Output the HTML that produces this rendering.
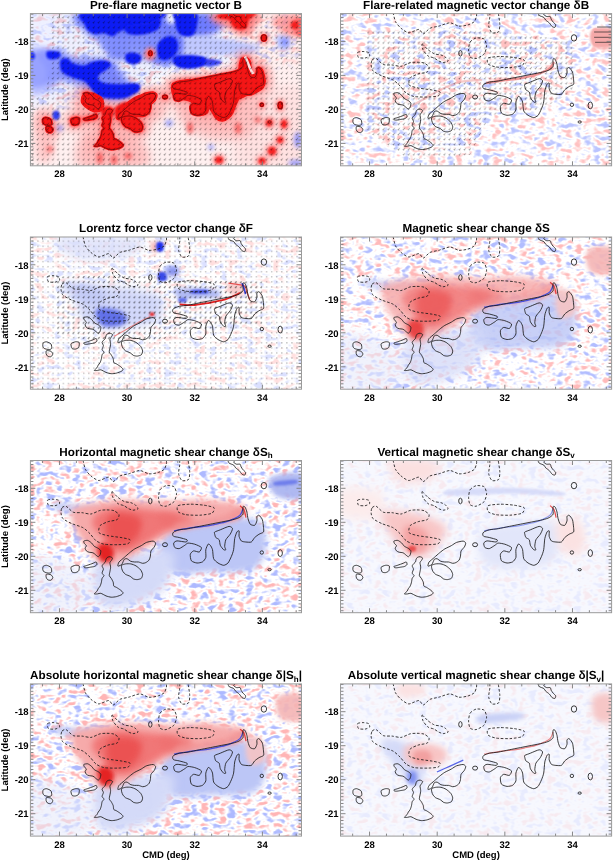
<!DOCTYPE html>
<html><head><meta charset="utf-8"><style>
html,body{margin:0;padding:0;background:#fff;width:613px;height:860px;overflow:hidden}
svg{display:block;font-family:"Liberation Sans",sans-serif;will-change:transform}
svg text{text-rendering:geometricPrecision}
</style></head><body>
<svg width="613" height="860" viewBox="0 0 613 860">
<defs>
<filter id="b06" filterUnits="userSpaceOnUse" x="-50" y="-50" width="720" height="960"><feGaussianBlur stdDeviation="0.6"/></filter>
<filter id="b1" filterUnits="userSpaceOnUse" x="-50" y="-50" width="720" height="960"><feGaussianBlur stdDeviation="1"/></filter>
<filter id="b2" filterUnits="userSpaceOnUse" x="-50" y="-50" width="720" height="960"><feGaussianBlur stdDeviation="2"/></filter>
<filter id="b3" filterUnits="userSpaceOnUse" x="-50" y="-50" width="720" height="960"><feGaussianBlur stdDeviation="3"/></filter>
<filter id="b4" filterUnits="userSpaceOnUse" x="-50" y="-50" width="720" height="960"><feGaussianBlur stdDeviation="4"/></filter>
<filter id="b5" filterUnits="userSpaceOnUse" x="-50" y="-50" width="720" height="960"><feGaussianBlur stdDeviation="5"/></filter>
<pattern id="arwD" x="0.8" y="0.2" width="5.08" height="5.08" patternUnits="userSpaceOnUse"><path d="M2.4,0.6 L1.0,2.6 M0.8,1.7 L1.0,2.6 L1.9,2.4" fill="none" stroke="#000" stroke-width="0.7"/></pattern>
<pattern id="arwH" x="0.8" y="0.2" width="5.08" height="5.08" patternUnits="userSpaceOnUse"><path d="M3.4,1.5 L0.6,1.6 M1.3,1.0 L0.6,1.6 L1.3,2.2" fill="none" stroke="#000" stroke-width="0.7"/></pattern>
<pattern id="dot" x="0.8" y="0.2" width="5.08" height="5.08" patternUnits="userSpaceOnUse"><rect x="1.1" y="1.1" width="1" height="1" fill="#000"/></pattern>
<filter id="nzA" x="0" y="0" width="100%" height="100%" color-interpolation-filters="sRGB"><feTurbulence type="fractalNoise" baseFrequency="0.11 0.17" numOctaves="2" seed="3"/><feColorMatrix type="matrix" values="1 0 0 0 0 1 0 0 0 0 1 0 0 0 0 0 0 0 0 1"/><feComponentTransfer><feFuncR type="table" tableValues="0.730 0.730 0.730 0.730 0.730 0.730 0.764 0.848 0.932 1.000 1.000 1.000 1.000 1.000 1.000 1.000 1.000 1.000 1.000 1.000 1.000"/><feFuncG type="table" tableValues="0.770 0.770 0.770 0.770 0.770 0.770 0.799 0.871 0.943 1.000 1.000 1.000 0.939 0.863 0.787 0.757 0.757 0.757 0.757 0.757 0.757"/><feFuncB type="table" tableValues="1.000 1.000 1.000 1.000 1.000 1.000 1.000 1.000 1.000 1.000 1.000 1.000 0.939 0.863 0.787 0.757 0.757 0.757 0.757 0.757 0.757"/></feComponentTransfer></filter>
<filter id="nzW" x="0" y="0" width="100%" height="100%" color-interpolation-filters="sRGB"><feTurbulence type="fractalNoise" baseFrequency="0.11 0.17" numOctaves="2" seed="5"/><feColorMatrix type="matrix" values="1 0 0 0 0 1 0 0 0 0 1 0 0 0 0 0 0 0 0 1"/><feComponentTransfer><feFuncR type="table" tableValues="0.860 0.860 0.860 0.860 0.860 0.860 0.877 0.921 0.965 1.000 1.000 1.000 1.000 1.000 1.000 1.000 1.000 1.000 1.000 1.000 1.000"/><feFuncG type="table" tableValues="0.881 0.881 0.881 0.881 0.881 0.881 0.896 0.933 0.970 1.000 1.000 1.000 0.969 0.929 0.890 0.874 0.874 0.874 0.874 0.874 0.874"/><feFuncB type="table" tableValues="1.000 1.000 1.000 1.000 1.000 1.000 1.000 1.000 1.000 1.000 1.000 1.000 0.969 0.929 0.890 0.874 0.874 0.874 0.874 0.874 0.874"/></feComponentTransfer></filter>
<filter id="nzB" x="0" y="0" width="100%" height="100%" color-interpolation-filters="sRGB"><feTurbulence type="fractalNoise" baseFrequency="0.11 0.17" numOctaves="2" seed="7"/><feColorMatrix type="matrix" values="1 0 0 0 0 1 0 0 0 0 1 0 0 0 0 0 0 0 0 1"/><feComponentTransfer><feFuncR type="table" tableValues="0.700 0.700 0.700 0.700 0.700 0.700 0.738 0.831 0.925 1.000 1.000 1.000 1.000 1.000 1.000 1.000 1.000 1.000 1.000 1.000 1.000"/><feFuncG type="table" tableValues="0.745 0.745 0.745 0.745 0.745 0.745 0.777 0.857 0.936 1.000 1.000 1.000 0.932 0.848 0.764 0.730 0.730 0.730 0.730 0.730 0.730"/><feFuncB type="table" tableValues="1.000 1.000 1.000 1.000 1.000 1.000 1.000 1.000 1.000 1.000 1.000 1.000 0.932 0.848 0.764 0.730 0.730 0.730 0.730 0.730 0.730"/></feComponentTransfer></filter>
<filter id="nzC" x="0" y="0" width="100%" height="100%" color-interpolation-filters="sRGB"><feTurbulence type="fractalNoise" baseFrequency="0.11 0.17" numOctaves="2" seed="9"/><feColorMatrix type="matrix" values="1 0 0 0 0 1 0 0 0 0 1 0 0 0 0 0 0 0 0 1"/><feComponentTransfer><feFuncR type="table" tableValues="0.680 0.680 0.680 0.680 0.680 0.680 0.720 0.820 0.920 1.000 1.000 1.000 1.000 1.000 1.000 1.000 1.000 1.000 1.000 1.000 1.000"/><feFuncG type="table" tableValues="0.728 0.728 0.728 0.728 0.728 0.728 0.762 0.847 0.932 1.000 1.000 1.000 0.928 0.838 0.748 0.712 0.712 0.712 0.712 0.712 0.712"/><feFuncB type="table" tableValues="1.000 1.000 1.000 1.000 1.000 1.000 1.000 1.000 1.000 1.000 1.000 1.000 0.928 0.838 0.748 0.712 0.712 0.712 0.712 0.712 0.712"/></feComponentTransfer></filter>
<filter id="nzD" x="0" y="0" width="100%" height="100%" color-interpolation-filters="sRGB"><feTurbulence type="fractalNoise" baseFrequency="0.11 0.17" numOctaves="2" seed="11"/><feColorMatrix type="matrix" values="1 0 0 0 0 1 0 0 0 0 1 0 0 0 0 0 0 0 0 1"/><feComponentTransfer><feFuncR type="table" tableValues="0.680 0.680 0.680 0.680 0.680 0.680 0.720 0.820 0.920 1.000 1.000 1.000 1.000 1.000 1.000 1.000 1.000 1.000 1.000 1.000 1.000"/><feFuncG type="table" tableValues="0.728 0.728 0.728 0.728 0.728 0.728 0.762 0.847 0.932 1.000 1.000 1.000 0.928 0.838 0.748 0.712 0.712 0.712 0.712 0.712 0.712"/><feFuncB type="table" tableValues="1.000 1.000 1.000 1.000 1.000 1.000 1.000 1.000 1.000 1.000 1.000 1.000 0.928 0.838 0.748 0.712 0.712 0.712 0.712 0.712 0.712"/></feComponentTransfer></filter>
<filter id="nzW2" x="0" y="0" width="100%" height="100%" color-interpolation-filters="sRGB"><feTurbulence type="fractalNoise" baseFrequency="0.11 0.17" numOctaves="2" seed="13"/><feColorMatrix type="matrix" values="1 0 0 0 0 1 0 0 0 0 1 0 0 0 0 0 0 0 0 1"/><feComponentTransfer><feFuncR type="table" tableValues="0.910 0.910 0.910 0.910 0.910 0.910 0.921 0.949 0.978 1.000 1.000 1.000 1.000 1.000 1.000 1.000 1.000 1.000 1.000 1.000 1.000"/><feFuncG type="table" tableValues="0.923 0.923 0.923 0.923 0.923 0.923 0.933 0.957 0.981 1.000 1.000 1.000 0.980 0.954 0.929 0.919 0.919 0.919 0.919 0.919 0.919"/><feFuncB type="table" tableValues="1.000 1.000 1.000 1.000 1.000 1.000 1.000 1.000 1.000 1.000 1.000 1.000 0.980 0.954 0.929 0.919 0.919 0.919 0.919 0.919 0.919"/></feComponentTransfer></filter>
<mask id="m0" maskUnits="userSpaceOnUse" x="0" y="0" width="613" height="860"><path d="M30,13 H302 V60 L250,70 L170,80 L120,95 L60,110 L30,110 Z" fill="#fff" filter="url(#b5)"/></mask>
</defs>
<rect width="613" height="860" fill="#fff"/>
<clipPath id="cp0"><rect x="30.4" y="13.6" width="271.1" height="152.2"/></clipPath>
<g clip-path="url(#cp0)"><g transform="translate(0.0 0.0)"><path d="M30.0,13.0 C53.3,-2.8 131.3,13.0 170.0,13.0 C208.7,13.0 246.7,8.5 262.0,13.0 C277.3,17.5 265.7,32.2 262.0,40.0 C258.3,47.8 255.3,54.7 240.0,60.0 C224.7,65.3 190.0,66.2 170.0,72.0 C150.0,77.8 138.3,89.0 120.0,95.0 C101.7,101.0 75.0,105.8 60.0,108.0 C45.0,110.2 35.0,123.8 30.0,108.0 C25.0,92.2 6.7,28.8 30.0,13.0Z" fill="#eef0ff" filter="url(#b5)"/>
<path d="M215.0,13.0 C225.3,4.8 287.5,-12.5 302.0,13.0 C316.5,38.5 347.3,140.5 302.0,166.0 C256.7,191.5 75.3,175.0 30.0,166.0 C-15.3,157.0 20.0,123.0 30.0,112.0 C40.0,101.0 66.7,104.7 90.0,100.0 C113.3,95.3 145.0,90.3 170.0,84.0 C195.0,77.7 232.5,73.8 240.0,62.0 C247.5,50.2 204.7,21.2 215.0,13.0Z" fill="#fff0f0" filter="url(#b5)"/>
<rect x="30" y="13" width="272" height="153" fill="#fff" filter="url(#nzA)" style="mix-blend-mode:multiply" opacity="0.7" mask="url(#m0)"/>
<path d="M80.0,13.0 C99.8,9.8 180.8,11.8 205.0,13.0 C229.2,14.2 223.3,16.7 225.0,20.0 C226.7,23.3 220.8,30.0 215.0,33.0 C209.2,36.0 199.2,37.8 190.0,38.0 C180.8,38.2 168.3,34.3 160.0,34.0 C151.7,33.7 145.8,34.0 140.0,36.0 C134.2,38.0 130.0,45.0 125.0,46.0 C120.0,47.0 115.0,43.3 110.0,42.0 C105.0,40.7 99.0,39.7 95.0,38.0 C91.0,36.3 88.5,36.2 86.0,32.0 C83.5,27.8 60.2,16.2 80.0,13.0Z" fill="#6e7cff" filter="url(#b3)"/>
<path d="M166.0,36.0 C174.2,32.7 200.2,36.5 215.0,38.0 C229.8,39.5 249.2,42.3 255.0,45.0 C260.8,47.7 256.7,52.3 250.0,54.0 C243.3,55.7 226.7,54.3 215.0,55.0 C203.3,55.7 188.2,57.5 180.0,58.0 C171.8,58.5 168.3,61.7 166.0,58.0 C163.7,54.3 157.8,39.3 166.0,36.0Z" fill="#c0c8ff" filter="url(#b2)"/>
<path d="M42.0,50.0 C47.2,48.7 56.5,50.7 62.0,52.0 C67.5,53.3 68.7,57.0 75.0,58.0 C81.3,59.0 93.3,57.3 100.0,58.0 C106.7,58.7 111.7,59.7 115.0,62.0 C118.3,64.3 117.5,68.7 120.0,72.0 C122.5,75.3 127.3,78.7 130.0,82.0 C132.7,85.3 136.3,89.0 136.0,92.0 C135.7,95.0 132.3,98.3 128.0,100.0 C123.7,101.7 116.0,102.3 110.0,102.0 C104.0,101.7 97.0,100.7 92.0,98.0 C87.0,95.3 85.3,89.0 80.0,86.0 C74.7,83.0 65.8,80.3 60.0,80.0 C54.2,79.7 49.8,84.0 45.0,84.0 C40.2,84.0 33.3,84.0 31.0,80.0 C28.7,76.0 29.2,65.0 31.0,60.0 C32.8,55.0 36.8,51.3 42.0,50.0Z" fill="#6e7cff" filter="url(#b3)" opacity="0.9"/>
<path d="M31.0,56.0 C32.3,52.0 37.5,57.7 40.0,60.0 C42.5,62.3 45.3,66.3 46.0,70.0 C46.7,73.7 46.3,79.7 44.0,82.0 C41.7,84.3 34.2,88.3 32.0,84.0 C29.8,79.7 29.7,60.0 31.0,56.0Z" fill="#9aa4ff" filter="url(#b2)"/>
<path d="M108.0,38.0 C110.3,36.0 116.0,34.7 120.0,36.0 C124.0,37.3 131.2,42.3 132.0,46.0 C132.8,49.7 128.0,56.0 125.0,58.0 C122.0,60.0 117.2,59.7 114.0,58.0 C110.8,56.3 107.0,51.3 106.0,48.0 C105.0,44.7 105.7,40.0 108.0,38.0Z" fill="#6e7cff" filter="url(#b3)"/>
<path d="M150.0,32.0 C155.0,27.5 174.7,29.2 180.0,33.0 C185.3,36.8 183.7,49.7 182.0,55.0 C180.3,60.3 175.3,64.2 170.0,65.0 C164.7,65.8 153.3,65.5 150.0,60.0 C146.7,54.5 145.0,36.5 150.0,32.0Z" fill="#6e7cff" filter="url(#b2)"/>
<path d="M276.0,36.0 C277.3,33.7 285.7,34.0 288.0,36.0 C290.3,38.0 291.3,45.7 290.0,48.0 C288.7,50.3 282.3,52.0 280.0,50.0 C277.7,48.0 274.7,38.3 276.0,36.0Z" fill="#c0c8ff" filter="url(#b2)"/>
<path d="M172.7,84.5 C173.5,83.1 177.6,82.0 179.6,81.5 C181.6,81.0 187.3,80.5 189.6,80.3 C191.9,80.1 196.9,79.8 199.2,79.6 C201.5,79.4 206.7,79.3 209.0,79.0 C211.3,78.7 216.4,77.3 218.7,76.8 C221.0,76.3 226.9,74.9 228.7,74.5 C230.5,74.1 233.2,73.5 234.4,73.0 C235.6,72.5 238.3,71.5 239.0,70.5 C239.7,69.5 239.7,65.3 240.0,64.0 C240.3,62.7 241.0,60.2 241.5,59.5 C242.0,58.8 243.4,58.1 244.0,58.0 C244.6,57.9 246.4,57.9 247.0,58.3 C247.6,58.6 249.1,60.0 249.5,61.0 C249.9,62.0 250.2,65.5 250.5,67.0 C250.8,68.5 251.4,72.5 252.0,73.5 C252.6,74.5 255.3,75.6 255.9,75.4 C256.5,75.2 256.5,72.3 256.9,71.5 C257.2,70.7 258.3,68.8 258.9,68.6 C259.5,68.4 261.2,68.8 261.8,69.6 C262.4,70.4 263.5,74.0 263.8,75.4 C264.1,76.8 264.8,79.9 264.7,81.3 C264.6,82.7 263.6,86.1 262.8,87.2 C262.0,88.3 259.2,90.3 257.9,91.1 C256.6,91.9 253.4,93.5 252.0,94.0 C250.6,94.5 247.2,94.7 246.1,95.0 C245.0,95.3 243.1,96.5 242.2,97.0 C241.3,97.5 239.1,98.0 238.3,98.9 C237.5,99.8 236.1,103.2 235.4,104.8 C234.7,106.4 233.2,111.1 232.4,112.6 C231.6,114.1 229.6,116.6 228.5,117.5 C227.4,118.4 224.0,120.4 222.6,120.5 C221.2,120.6 217.9,119.4 216.8,118.5 C215.7,117.6 213.8,114.0 212.9,112.6 C212.0,111.2 209.6,106.8 208.9,106.8 C208.2,106.8 207.7,111.7 207.0,112.6 C206.3,113.5 204.1,114.6 203.1,114.6 C202.1,114.6 199.2,113.3 198.2,112.6 C197.2,111.9 194.5,109.6 194.3,108.7 C194.1,107.8 196.4,105.6 196.2,104.8 C196.0,104.0 193.3,102.5 192.3,101.9 C191.3,101.3 188.7,100.2 187.4,99.9 C186.1,99.6 182.9,99.2 181.5,98.9 C180.1,98.6 176.7,97.7 175.7,97.0 C174.7,96.3 173.0,94.6 172.7,93.1 C172.3,91.6 171.9,85.9 172.7,84.5Z" fill="#ff9292" stroke="#ff9292" stroke-width="16" stroke-linejoin="round" filter="url(#b3)" opacity="0.45"/>
<path d="M83.8,93.4 C84.2,93.0 86.8,92.5 87.7,92.7 C88.6,92.9 90.8,94.6 91.6,95.3 C92.4,96.0 93.5,98.0 94.3,98.6 C95.1,99.2 97.4,100.1 98.2,100.6 C99.0,101.1 100.6,102.4 100.8,103.2 C101.0,104.0 100.4,106.4 100.1,107.1 C99.8,107.8 98.7,109.0 98.2,109.0 C97.7,109.0 96.2,107.6 95.6,107.1 C95.0,106.6 93.8,105.4 93.0,105.1 C92.2,104.8 89.8,104.7 89.0,104.5 C88.2,104.3 86.9,103.7 86.4,103.2 C85.9,102.7 85.1,101.2 85.1,100.6 C85.1,100.0 86.5,98.4 86.4,97.9 C86.3,97.4 84.8,96.5 84.5,96.0 C84.2,95.5 83.4,93.8 83.8,93.4Z" fill="#ff9292" stroke="#ff9292" stroke-width="16" stroke-linejoin="round" filter="url(#b3)" opacity="0.45"/>
<path d="M104.0,115.6 C103.6,116.1 102.2,117.5 102.1,118.2 C102.0,118.9 103.4,120.6 103.4,121.4 C103.4,122.2 102.0,124.6 102.1,125.4 C102.2,126.2 104.0,127.4 104.0,128.0 C104.0,128.6 102.4,129.8 102.1,130.6 C101.8,131.4 101.6,133.6 101.4,134.5 C101.2,135.4 100.5,137.6 100.1,138.4 C99.7,139.2 98.6,140.4 98.2,141.0 C97.8,141.6 97.4,143.0 96.9,143.6 C96.4,144.2 94.2,145.9 94.3,146.2 C94.4,146.5 96.7,146.3 97.5,146.2 C98.3,146.1 99.8,145.4 100.8,145.6 C101.8,145.8 104.8,147.7 106.0,148.2 C107.2,148.7 110.0,149.4 111.2,149.5 C112.4,149.6 115.3,149.2 116.5,148.9 C117.7,148.6 120.9,147.4 121.7,146.9 C122.5,146.4 123.2,145.4 123.0,144.9 C122.8,144.4 121.2,142.9 120.4,142.3 C119.6,141.7 117.3,140.2 116.5,139.7 C115.7,139.2 114.2,139.0 113.8,138.4 C113.4,137.8 113.5,135.4 113.2,134.5 C112.9,133.6 111.7,131.4 111.2,130.6 C110.7,129.8 109.5,128.8 109.3,128.0 C109.1,127.2 109.7,125.0 109.9,124.0 C110.1,123.0 110.6,120.6 110.6,119.5 C110.6,118.4 109.8,115.7 109.9,114.9 C110.0,114.1 110.9,113.5 111.2,113.0 C111.5,112.5 112.7,110.8 112.5,110.3 C112.3,109.8 110.5,109.1 109.9,109.0 C109.3,108.9 107.8,109.4 107.3,109.7 C106.8,110.0 106.2,111.1 106.0,111.6 C105.8,112.1 105.6,113.7 105.4,114.2 C105.2,114.7 104.4,115.1 104.0,115.6Z" fill="#ff9292" stroke="#ff9292" stroke-width="16" stroke-linejoin="round" filter="url(#b3)" opacity="0.45"/>
<path d="M83.8,118.8 C84.2,118.5 86.6,117.9 87.7,117.5 C88.8,117.1 92.0,116.0 93.0,115.6 C94.0,115.2 95.7,114.1 96.2,114.3 C96.7,114.5 97.1,116.4 96.9,116.9 C96.7,117.4 95.1,118.5 94.3,118.8 C93.5,119.1 91.2,119.3 90.3,119.5 C89.4,119.7 87.1,120.1 86.4,120.1 C85.7,120.1 84.8,120.1 84.5,119.9 C84.2,119.7 83.4,119.1 83.8,118.8Z" fill="#ff9292" stroke="#ff9292" stroke-width="16" stroke-linejoin="round" filter="url(#b3)" opacity="0.45"/>
<path d="M117.8,118.2 C117.8,117.7 118.2,115.3 119.0,114.3 C119.8,113.3 123.1,110.8 124.3,109.7 C125.5,108.6 128.3,106.1 129.5,105.1 C130.7,104.1 133.3,102.0 134.7,101.2 C136.1,100.4 139.9,98.7 141.3,97.9 C142.7,97.1 145.1,95.2 146.5,94.7 C147.9,94.2 151.9,93.3 153.0,93.4 C154.1,93.5 155.4,94.6 155.6,95.3 C155.8,96.0 154.8,98.3 154.3,99.2 C153.8,100.1 151.5,102.1 151.0,103.2 C150.5,104.3 150.6,107.3 150.4,108.4 C150.2,109.5 149.6,111.5 149.1,112.3 C148.6,113.1 146.6,114.5 145.8,114.9 C145.0,115.3 143.4,115.7 142.6,115.6 C141.8,115.5 139.5,114.5 138.6,114.3 C137.7,114.1 135.6,114.4 134.7,114.3 C133.8,114.2 131.7,114.0 130.8,113.6 C129.9,113.2 127.7,111.2 126.9,111.0 C126.1,110.8 124.8,111.2 124.3,111.6 C123.8,112.0 123.3,113.7 123.0,114.3 C122.7,114.9 122.2,116.4 121.7,116.9 C121.2,117.4 119.5,118.0 119.0,118.2 C118.5,118.4 117.8,118.7 117.8,118.2Z" fill="#ff9292" stroke="#ff9292" stroke-width="16" stroke-linejoin="round" filter="url(#b3)" opacity="0.45"/>
<path d="M121.7,117.5 C122.2,117.0 124.5,116.4 125.6,116.2 C126.7,116.0 129.6,116.0 130.8,116.2 C132.0,116.4 134.9,117.5 136.0,118.2 C137.1,118.9 139.8,121.1 140.6,122.1 C141.4,123.1 142.5,125.7 142.6,126.7 C142.7,127.7 141.9,130.0 141.3,130.6 C140.7,131.2 138.2,131.8 137.3,131.9 C136.4,132.0 134.2,131.6 133.4,131.2 C132.6,130.8 131.1,129.1 130.2,128.6 C129.3,128.1 126.4,127.2 125.6,126.7 C124.8,126.2 123.5,124.7 123.0,124.0 C122.5,123.3 121.9,121.6 121.7,120.8 C121.5,120.0 121.2,118.0 121.7,117.5Z" fill="#ff9292" stroke="#ff9292" stroke-width="16" stroke-linejoin="round" filter="url(#b3)" opacity="0.45"/>
<path d="M43.2,118.7 C43.6,118.2 45.6,117.5 46.5,117.6 C47.4,117.7 50.4,119.0 51.0,119.8 C51.6,120.6 51.9,123.6 51.6,124.3 C51.3,125.0 49.7,125.4 48.8,125.4 C47.9,125.4 45.0,124.7 44.3,124.3 C43.6,123.9 42.9,122.7 42.8,122.0 C42.7,121.3 42.8,119.2 43.2,118.7Z" fill="#ff9292" stroke="#ff9292" stroke-width="16" stroke-linejoin="round" filter="url(#b3)" opacity="0.45"/>
<path d="M46.5,126.5 C47.1,126.2 50.3,126.7 51.0,127.1 C51.7,127.5 52.8,129.2 52.8,129.8 C52.8,130.4 51.6,132.2 51.0,132.5 C50.4,132.8 48.2,132.4 47.6,132.0 C47.0,131.6 46.2,130.0 46.1,129.4 C46.0,128.8 45.9,126.8 46.5,126.5Z" fill="#ff9292" stroke="#ff9292" stroke-width="16" stroke-linejoin="round" filter="url(#b3)" opacity="0.45"/>
<path d="M71.0,119.6 C71.4,118.8 74.4,117.8 75.4,117.6 C76.4,117.4 78.8,117.7 79.2,118.3 C79.6,118.9 79.1,122.3 78.7,123.1 C78.3,123.9 76.2,124.8 75.4,124.9 C74.6,125.0 72.6,124.9 72.1,124.3 C71.6,123.7 70.6,120.4 71.0,119.6Z" fill="#ff9292" stroke="#ff9292" stroke-width="16" stroke-linejoin="round" filter="url(#b3)" opacity="0.45"/>
<path d="M228.3,12.8 C227.7,13.1 228.6,15.0 229.2,15.5 C229.8,16.0 233.0,16.9 233.7,17.4 C234.4,17.9 235.0,19.5 235.6,20.1 C236.2,20.7 238.5,22.2 239.2,22.9 C239.9,23.6 241.4,26.0 242.0,26.5 C242.6,27.0 244.3,27.6 244.7,27.4 C245.1,27.2 245.8,25.3 245.6,24.7 C245.4,24.1 243.4,22.5 242.9,21.9 C242.4,21.3 241.4,19.8 241.1,19.2 C240.8,18.6 240.6,16.8 240.1,16.5 C239.6,16.2 237.2,16.7 236.5,16.5 C235.8,16.3 233.9,15.0 233.7,14.6 C233.5,14.2 235.2,13.0 234.6,12.8 C234.0,12.6 228.9,12.5 228.3,12.8Z" fill="#ff9292" stroke="#ff9292" stroke-width="16" stroke-linejoin="round" filter="url(#b3)" opacity="0.45"/>
<path d="M172.7,84.5 C173.5,83.1 177.6,82.0 179.6,81.5 C181.6,81.0 187.3,80.5 189.6,80.3 C191.9,80.1 196.9,79.8 199.2,79.6 C201.5,79.4 206.7,79.3 209.0,79.0 C211.3,78.7 216.4,77.3 218.7,76.8 C221.0,76.3 226.9,74.9 228.7,74.5 C230.5,74.1 233.2,73.5 234.4,73.0 C235.6,72.5 238.3,71.5 239.0,70.5 C239.7,69.5 239.7,65.3 240.0,64.0 C240.3,62.7 241.0,60.2 241.5,59.5 C242.0,58.8 243.4,58.1 244.0,58.0 C244.6,57.9 246.4,57.9 247.0,58.3 C247.6,58.6 249.1,60.0 249.5,61.0 C249.9,62.0 250.2,65.5 250.5,67.0 C250.8,68.5 251.4,72.5 252.0,73.5 C252.6,74.5 255.3,75.6 255.9,75.4 C256.5,75.2 256.5,72.3 256.9,71.5 C257.2,70.7 258.3,68.8 258.9,68.6 C259.5,68.4 261.2,68.8 261.8,69.6 C262.4,70.4 263.5,74.0 263.8,75.4 C264.1,76.8 264.8,79.9 264.7,81.3 C264.6,82.7 263.6,86.1 262.8,87.2 C262.0,88.3 259.2,90.3 257.9,91.1 C256.6,91.9 253.4,93.5 252.0,94.0 C250.6,94.5 247.2,94.7 246.1,95.0 C245.0,95.3 243.1,96.5 242.2,97.0 C241.3,97.5 239.1,98.0 238.3,98.9 C237.5,99.8 236.1,103.2 235.4,104.8 C234.7,106.4 233.2,111.1 232.4,112.6 C231.6,114.1 229.6,116.6 228.5,117.5 C227.4,118.4 224.0,120.4 222.6,120.5 C221.2,120.6 217.9,119.4 216.8,118.5 C215.7,117.6 213.8,114.0 212.9,112.6 C212.0,111.2 209.6,106.8 208.9,106.8 C208.2,106.8 207.7,111.7 207.0,112.6 C206.3,113.5 204.1,114.6 203.1,114.6 C202.1,114.6 199.2,113.3 198.2,112.6 C197.2,111.9 194.5,109.6 194.3,108.7 C194.1,107.8 196.4,105.6 196.2,104.8 C196.0,104.0 193.3,102.5 192.3,101.9 C191.3,101.3 188.7,100.2 187.4,99.9 C186.1,99.6 182.9,99.2 181.5,98.9 C180.1,98.6 176.7,97.7 175.7,97.0 C174.7,96.3 173.0,94.6 172.7,93.1 C172.3,91.6 171.9,85.9 172.7,84.5Z" fill="#ff5a5a" stroke="#ff5a5a" stroke-width="6" stroke-linejoin="round" filter="url(#b1)" opacity="0.75"/>
<path d="M83.8,93.4 C84.2,93.0 86.8,92.5 87.7,92.7 C88.6,92.9 90.8,94.6 91.6,95.3 C92.4,96.0 93.5,98.0 94.3,98.6 C95.1,99.2 97.4,100.1 98.2,100.6 C99.0,101.1 100.6,102.4 100.8,103.2 C101.0,104.0 100.4,106.4 100.1,107.1 C99.8,107.8 98.7,109.0 98.2,109.0 C97.7,109.0 96.2,107.6 95.6,107.1 C95.0,106.6 93.8,105.4 93.0,105.1 C92.2,104.8 89.8,104.7 89.0,104.5 C88.2,104.3 86.9,103.7 86.4,103.2 C85.9,102.7 85.1,101.2 85.1,100.6 C85.1,100.0 86.5,98.4 86.4,97.9 C86.3,97.4 84.8,96.5 84.5,96.0 C84.2,95.5 83.4,93.8 83.8,93.4Z" fill="#ff5a5a" stroke="#ff5a5a" stroke-width="6" stroke-linejoin="round" filter="url(#b1)" opacity="0.75"/>
<path d="M104.0,115.6 C103.6,116.1 102.2,117.5 102.1,118.2 C102.0,118.9 103.4,120.6 103.4,121.4 C103.4,122.2 102.0,124.6 102.1,125.4 C102.2,126.2 104.0,127.4 104.0,128.0 C104.0,128.6 102.4,129.8 102.1,130.6 C101.8,131.4 101.6,133.6 101.4,134.5 C101.2,135.4 100.5,137.6 100.1,138.4 C99.7,139.2 98.6,140.4 98.2,141.0 C97.8,141.6 97.4,143.0 96.9,143.6 C96.4,144.2 94.2,145.9 94.3,146.2 C94.4,146.5 96.7,146.3 97.5,146.2 C98.3,146.1 99.8,145.4 100.8,145.6 C101.8,145.8 104.8,147.7 106.0,148.2 C107.2,148.7 110.0,149.4 111.2,149.5 C112.4,149.6 115.3,149.2 116.5,148.9 C117.7,148.6 120.9,147.4 121.7,146.9 C122.5,146.4 123.2,145.4 123.0,144.9 C122.8,144.4 121.2,142.9 120.4,142.3 C119.6,141.7 117.3,140.2 116.5,139.7 C115.7,139.2 114.2,139.0 113.8,138.4 C113.4,137.8 113.5,135.4 113.2,134.5 C112.9,133.6 111.7,131.4 111.2,130.6 C110.7,129.8 109.5,128.8 109.3,128.0 C109.1,127.2 109.7,125.0 109.9,124.0 C110.1,123.0 110.6,120.6 110.6,119.5 C110.6,118.4 109.8,115.7 109.9,114.9 C110.0,114.1 110.9,113.5 111.2,113.0 C111.5,112.5 112.7,110.8 112.5,110.3 C112.3,109.8 110.5,109.1 109.9,109.0 C109.3,108.9 107.8,109.4 107.3,109.7 C106.8,110.0 106.2,111.1 106.0,111.6 C105.8,112.1 105.6,113.7 105.4,114.2 C105.2,114.7 104.4,115.1 104.0,115.6Z" fill="#ff5a5a" stroke="#ff5a5a" stroke-width="6" stroke-linejoin="round" filter="url(#b1)" opacity="0.75"/>
<path d="M83.8,118.8 C84.2,118.5 86.6,117.9 87.7,117.5 C88.8,117.1 92.0,116.0 93.0,115.6 C94.0,115.2 95.7,114.1 96.2,114.3 C96.7,114.5 97.1,116.4 96.9,116.9 C96.7,117.4 95.1,118.5 94.3,118.8 C93.5,119.1 91.2,119.3 90.3,119.5 C89.4,119.7 87.1,120.1 86.4,120.1 C85.7,120.1 84.8,120.1 84.5,119.9 C84.2,119.7 83.4,119.1 83.8,118.8Z" fill="#ff5a5a" stroke="#ff5a5a" stroke-width="6" stroke-linejoin="round" filter="url(#b1)" opacity="0.75"/>
<path d="M117.8,118.2 C117.8,117.7 118.2,115.3 119.0,114.3 C119.8,113.3 123.1,110.8 124.3,109.7 C125.5,108.6 128.3,106.1 129.5,105.1 C130.7,104.1 133.3,102.0 134.7,101.2 C136.1,100.4 139.9,98.7 141.3,97.9 C142.7,97.1 145.1,95.2 146.5,94.7 C147.9,94.2 151.9,93.3 153.0,93.4 C154.1,93.5 155.4,94.6 155.6,95.3 C155.8,96.0 154.8,98.3 154.3,99.2 C153.8,100.1 151.5,102.1 151.0,103.2 C150.5,104.3 150.6,107.3 150.4,108.4 C150.2,109.5 149.6,111.5 149.1,112.3 C148.6,113.1 146.6,114.5 145.8,114.9 C145.0,115.3 143.4,115.7 142.6,115.6 C141.8,115.5 139.5,114.5 138.6,114.3 C137.7,114.1 135.6,114.4 134.7,114.3 C133.8,114.2 131.7,114.0 130.8,113.6 C129.9,113.2 127.7,111.2 126.9,111.0 C126.1,110.8 124.8,111.2 124.3,111.6 C123.8,112.0 123.3,113.7 123.0,114.3 C122.7,114.9 122.2,116.4 121.7,116.9 C121.2,117.4 119.5,118.0 119.0,118.2 C118.5,118.4 117.8,118.7 117.8,118.2Z" fill="#ff5a5a" stroke="#ff5a5a" stroke-width="6" stroke-linejoin="round" filter="url(#b1)" opacity="0.75"/>
<path d="M121.7,117.5 C122.2,117.0 124.5,116.4 125.6,116.2 C126.7,116.0 129.6,116.0 130.8,116.2 C132.0,116.4 134.9,117.5 136.0,118.2 C137.1,118.9 139.8,121.1 140.6,122.1 C141.4,123.1 142.5,125.7 142.6,126.7 C142.7,127.7 141.9,130.0 141.3,130.6 C140.7,131.2 138.2,131.8 137.3,131.9 C136.4,132.0 134.2,131.6 133.4,131.2 C132.6,130.8 131.1,129.1 130.2,128.6 C129.3,128.1 126.4,127.2 125.6,126.7 C124.8,126.2 123.5,124.7 123.0,124.0 C122.5,123.3 121.9,121.6 121.7,120.8 C121.5,120.0 121.2,118.0 121.7,117.5Z" fill="#ff5a5a" stroke="#ff5a5a" stroke-width="6" stroke-linejoin="round" filter="url(#b1)" opacity="0.75"/>
<path d="M43.2,118.7 C43.6,118.2 45.6,117.5 46.5,117.6 C47.4,117.7 50.4,119.0 51.0,119.8 C51.6,120.6 51.9,123.6 51.6,124.3 C51.3,125.0 49.7,125.4 48.8,125.4 C47.9,125.4 45.0,124.7 44.3,124.3 C43.6,123.9 42.9,122.7 42.8,122.0 C42.7,121.3 42.8,119.2 43.2,118.7Z" fill="#ff5a5a" stroke="#ff5a5a" stroke-width="6" stroke-linejoin="round" filter="url(#b1)" opacity="0.75"/>
<path d="M46.5,126.5 C47.1,126.2 50.3,126.7 51.0,127.1 C51.7,127.5 52.8,129.2 52.8,129.8 C52.8,130.4 51.6,132.2 51.0,132.5 C50.4,132.8 48.2,132.4 47.6,132.0 C47.0,131.6 46.2,130.0 46.1,129.4 C46.0,128.8 45.9,126.8 46.5,126.5Z" fill="#ff5a5a" stroke="#ff5a5a" stroke-width="6" stroke-linejoin="round" filter="url(#b1)" opacity="0.75"/>
<path d="M71.0,119.6 C71.4,118.8 74.4,117.8 75.4,117.6 C76.4,117.4 78.8,117.7 79.2,118.3 C79.6,118.9 79.1,122.3 78.7,123.1 C78.3,123.9 76.2,124.8 75.4,124.9 C74.6,125.0 72.6,124.9 72.1,124.3 C71.6,123.7 70.6,120.4 71.0,119.6Z" fill="#ff5a5a" stroke="#ff5a5a" stroke-width="6" stroke-linejoin="round" filter="url(#b1)" opacity="0.75"/>
<path d="M228.3,12.8 C227.7,13.1 228.6,15.0 229.2,15.5 C229.8,16.0 233.0,16.9 233.7,17.4 C234.4,17.9 235.0,19.5 235.6,20.1 C236.2,20.7 238.5,22.2 239.2,22.9 C239.9,23.6 241.4,26.0 242.0,26.5 C242.6,27.0 244.3,27.6 244.7,27.4 C245.1,27.2 245.8,25.3 245.6,24.7 C245.4,24.1 243.4,22.5 242.9,21.9 C242.4,21.3 241.4,19.8 241.1,19.2 C240.8,18.6 240.6,16.8 240.1,16.5 C239.6,16.2 237.2,16.7 236.5,16.5 C235.8,16.3 233.9,15.0 233.7,14.6 C233.5,14.2 235.2,13.0 234.6,12.8 C234.0,12.6 228.9,12.5 228.3,12.8Z" fill="#ff5a5a" stroke="#ff5a5a" stroke-width="6" stroke-linejoin="round" filter="url(#b1)" opacity="0.75"/>
<path d="M168.0,82.0 C173.3,78.3 188.7,78.3 200.0,76.0 C211.3,73.7 229.0,71.3 236.0,68.0 C243.0,64.7 239.7,57.3 242.0,56.0 C244.3,54.7 246.7,58.7 250.0,60.0 C253.3,61.3 258.7,61.7 262.0,64.0 C265.3,66.3 268.7,69.3 270.0,74.0 C271.3,78.7 272.5,87.3 270.0,92.0 C267.5,96.7 260.0,98.7 255.0,102.0 C250.0,105.3 243.8,108.3 240.0,112.0 C236.2,115.7 236.7,121.7 232.0,124.0 C227.3,126.3 218.0,126.3 212.0,126.0 C206.0,125.7 201.3,125.0 196.0,122.0 C190.7,119.0 184.7,112.0 180.0,108.0 C175.3,104.0 170.0,102.3 168.0,98.0 C166.0,93.7 162.7,85.7 168.0,82.0Z" fill="#ff8282" filter="url(#b5)" opacity="0.35"/>
<path d="M72.0,90.0 C76.2,87.3 88.3,90.3 95.0,92.0 C101.7,93.7 107.0,99.3 112.0,100.0 C117.0,100.7 118.7,97.7 125.0,96.0 C131.3,94.3 143.8,90.7 150.0,90.0 C156.2,89.3 160.3,88.7 162.0,92.0 C163.7,95.3 162.0,104.7 160.0,110.0 C158.0,115.3 152.3,120.0 150.0,124.0 C147.7,128.0 149.3,131.7 146.0,134.0 C142.7,136.3 133.7,135.3 130.0,138.0 C126.3,140.7 127.3,147.0 124.0,150.0 C120.7,153.0 115.3,155.7 110.0,156.0 C104.7,156.3 95.7,156.3 92.0,152.0 C88.3,147.7 90.0,135.7 88.0,130.0 C86.0,124.3 83.0,121.7 80.0,118.0 C77.0,114.3 71.3,112.7 70.0,108.0 C68.7,103.3 67.8,92.7 72.0,90.0Z" fill="#ff8282" filter="url(#b5)" opacity="0.3"/>
<path d="M213.0,13.0 C220.3,11.5 250.8,11.2 258.0,13.0 C265.2,14.8 257.3,20.8 256.0,24.0 C254.7,27.2 252.7,30.3 250.0,32.0 C247.3,33.7 244.0,35.0 240.0,34.0 C236.0,33.0 230.3,28.0 226.0,26.0 C221.7,24.0 216.2,24.2 214.0,22.0 C211.8,19.8 205.7,14.5 213.0,13.0Z" fill="#ff8282" filter="url(#b3)"/>
<path d="M216.6,16.3 C217.2,15.3 218.6,13.6 225.0,13.0 C231.4,12.4 250.3,12.4 255.0,13.0 C259.7,13.6 254.2,15.1 253.2,16.3 C252.2,17.5 250.0,18.3 249.0,20.0 C248.0,21.7 248.0,24.7 247.0,26.3 C246.0,27.9 244.8,29.2 243.0,29.6 C241.2,30.1 237.8,29.8 236.0,29.0 C234.2,28.2 233.2,26.5 232.0,25.0 C230.8,23.5 230.7,21.0 229.0,20.0 C227.3,19.0 223.7,19.4 221.6,18.8 C219.5,18.2 216.0,17.3 216.6,16.3Z" fill="#f41212" filter="url(#b1)"/>
<path d="M295.0,20.0 C296.5,18.7 300.8,16.5 302.0,19.0 C303.2,21.5 303.0,32.5 302.0,35.0 C301.0,37.5 297.5,35.3 296.0,34.0 C294.5,32.7 293.2,29.3 293.0,27.0 C292.8,24.7 293.5,21.3 295.0,20.0Z" fill="#f41212" filter="url(#b1)" opacity="0.85"/>
<path d="M272.0,18.0 C275.0,14.8 297.0,12.0 302.0,15.0 C307.0,18.0 305.0,32.8 302.0,36.0 C299.0,39.2 289.0,37.0 284.0,34.0 C279.0,31.0 269.0,21.2 272.0,18.0Z" fill="#ff8282" filter="url(#b3)" opacity="0.7"/>
<path d="M250.0,95.0 C258.7,89.2 293.3,78.2 302.0,90.0 C310.7,101.8 312.3,153.3 302.0,166.0 C291.7,178.7 251.2,170.3 240.0,166.0 C228.8,161.7 233.3,146.8 235.0,140.0 C236.7,133.2 247.5,132.5 250.0,125.0 C252.5,117.5 241.3,100.8 250.0,95.0Z" fill="#ffd4d4" filter="url(#b5)" opacity="0.5"/>
<path d="M84.0,128.0 C87.3,123.0 93.2,135.3 100.0,136.0 C106.8,136.7 118.0,131.3 125.0,132.0 C132.0,132.7 138.5,134.3 142.0,140.0 C145.5,145.7 156.3,161.7 146.0,166.0 C135.7,170.3 90.3,172.3 80.0,166.0 C69.7,159.7 80.7,133.0 84.0,128.0Z" fill="#ffb4b4" filter="url(#b5)" opacity="0.8"/>
<path d="M36.0,114.0 C38.3,106.7 49.0,109.7 52.0,114.0 C55.0,118.3 54.3,132.3 54.0,140.0 C53.7,147.7 52.7,157.0 50.0,160.0 C47.3,163.0 40.3,165.7 38.0,158.0 C35.7,150.3 33.7,121.3 36.0,114.0Z" fill="#ffbcbc" filter="url(#b4)" opacity="0.8"/>
<path d="M178.0,100.0 C181.3,98.7 192.2,109.0 200.0,112.0 C207.8,115.0 218.3,118.7 225.0,118.0 C231.7,117.3 235.8,111.0 240.0,108.0 C244.2,105.0 246.3,99.7 250.0,100.0 C253.7,100.3 262.0,104.2 262.0,110.0 C262.0,115.8 256.2,130.0 250.0,135.0 C243.8,140.0 233.3,140.0 225.0,140.0 C216.7,140.0 207.5,138.3 200.0,135.0 C192.5,131.7 183.7,125.8 180.0,120.0 C176.3,114.2 174.7,101.3 178.0,100.0Z" fill="#ffb0b0" filter="url(#b5)" opacity="0.7"/>
<path d="M150.0,96.0 C152.7,90.3 164.3,85.3 168.0,86.0 C171.7,86.7 172.5,95.2 172.0,100.0 C171.5,104.8 168.3,111.7 165.0,115.0 C161.7,118.3 154.5,123.2 152.0,120.0 C149.5,116.8 147.3,101.7 150.0,96.0Z" fill="#ffb8b8" filter="url(#b4)" opacity="0.7"/>
<ellipse cx="50" cy="149" rx="3" ry="3" fill="#f44040" filter="url(#b2)" opacity="0.8"/>
<ellipse cx="100" cy="158" rx="3" ry="6" fill="#f44040" filter="url(#b2)" opacity="0.8"/>
<ellipse cx="114" cy="160" rx="3" ry="5" fill="#f44040" filter="url(#b2)" opacity="0.8"/>
<ellipse cx="128" cy="156" rx="4" ry="3" fill="#f44040" filter="url(#b2)" opacity="0.8"/>
<ellipse cx="190" cy="128" rx="3" ry="6" fill="#f44040" filter="url(#b2)" opacity="0.8"/>
<ellipse cx="238" cy="128" rx="3" ry="6" fill="#f44040" filter="url(#b2)" opacity="0.8"/>
<ellipse cx="258" cy="120" rx="3" ry="3" fill="#f44040" filter="url(#b2)" opacity="0.8"/>
<path d="M128.0,34.0 C131.7,32.2 145.0,32.3 150.0,33.0 C155.0,33.7 157.0,35.5 158.0,38.0 C159.0,40.5 159.0,46.0 156.0,48.0 C153.0,50.0 144.7,50.7 140.0,50.0 C135.3,49.3 130.0,46.7 128.0,44.0 C126.0,41.3 124.3,35.8 128.0,34.0Z" fill="#6e7cff" filter="url(#b3)" opacity="0.8"/>
<ellipse cx="171" cy="17" rx="5" ry="7" fill="#f4f5ff" filter="url(#b2)"/>
<path d="M98.0,36.0 C100.7,33.7 111.3,36.3 120.0,36.0 C128.7,35.7 142.0,33.7 150.0,34.0 C158.0,34.3 164.3,35.3 168.0,38.0 C171.7,40.7 173.3,46.7 172.0,50.0 C170.7,53.3 165.3,56.3 160.0,58.0 C154.7,59.7 146.7,60.0 140.0,60.0 C133.3,60.0 126.0,59.7 120.0,58.0 C114.0,56.3 107.7,53.7 104.0,50.0 C100.3,46.3 95.3,38.3 98.0,36.0Z" fill="#8492ff" filter="url(#b3)" opacity="0.85"/>
<path d="M31.0,50.0 C33.3,43.0 40.2,49.3 45.0,50.0 C49.8,50.7 57.2,50.7 60.0,54.0 C62.8,57.3 62.7,64.8 62.0,70.0 C61.3,75.2 58.8,81.3 56.0,85.0 C53.2,88.7 49.2,90.8 45.0,92.0 C40.8,93.2 33.3,99.0 31.0,92.0 C28.7,85.0 28.7,57.0 31.0,50.0Z" fill="#98a2ff" filter="url(#b3)" opacity="0.7"/>
<path d="M84.5,12.0 C97.2,9.8 148.8,10.8 161.2,12.0 C173.6,13.2 160.8,17.5 159.0,19.4 C157.2,21.3 153.8,22.6 150.6,23.6 C147.4,24.7 143.5,25.0 140.0,25.7 C136.5,26.4 132.9,26.7 129.4,27.8 C125.9,28.9 121.6,30.7 118.8,32.1 C116.0,33.5 114.9,36.1 112.4,36.3 C109.9,36.5 106.8,33.5 104.0,33.1 C101.2,32.8 98.1,34.6 95.5,34.2 C92.9,33.9 90.2,32.5 88.5,31.0 C86.8,29.5 85.7,28.2 85.0,25.0 C84.3,21.8 71.8,14.2 84.5,12.0Z" fill="#0c1cf4" filter="url(#b1)"/>
<path d="M174.0,13.0 C177.5,11.8 192.2,11.0 196.0,13.0 C199.8,15.0 197.5,21.3 197.0,25.0 C196.5,28.7 195.3,33.2 193.0,35.0 C190.7,36.8 185.7,36.8 183.0,36.0 C180.3,35.2 178.3,32.7 177.0,30.0 C175.7,27.3 175.5,22.8 175.0,20.0 C174.5,17.2 170.5,14.2 174.0,13.0Z" fill="#0c1cf4" filter="url(#b1)"/>
<path d="M126.0,26.0 C129.8,24.2 144.3,23.3 150.0,22.0 C155.7,20.7 158.5,17.0 160.0,18.0 C161.5,19.0 160.7,25.5 159.0,28.0 C157.3,30.5 153.5,31.8 150.0,33.0 C146.5,34.2 141.8,35.0 138.0,35.0 C134.2,35.0 129.0,34.5 127.0,33.0 C125.0,31.5 122.2,27.8 126.0,26.0Z" fill="#0c1cf4" filter="url(#b1)"/>
<path d="M46.5,52.0 C47.2,50.8 49.9,51.0 52.0,51.0 C54.1,51.0 57.6,51.2 59.0,52.0 C60.4,52.8 61.0,54.8 60.5,56.0 C60.0,57.2 58.1,58.6 56.0,59.0 C53.9,59.4 49.6,59.7 48.0,58.5 C46.4,57.3 45.8,53.2 46.5,52.0Z" fill="#0c1cf4" filter="url(#b1)"/>
<path d="M61.0,59.6 C62.2,58.4 65.6,57.9 67.5,58.5 C69.4,59.1 69.7,61.8 72.4,63.0 C75.1,64.2 80.5,65.7 83.8,65.5 C87.1,65.3 89.3,62.8 92.0,62.0 C94.7,61.2 97.3,60.6 100.0,60.5 C102.7,60.4 106.2,60.8 108.0,61.5 C109.8,62.2 111.3,63.6 111.0,65.0 C110.7,66.4 107.8,68.5 106.0,70.0 C104.2,71.5 101.3,72.5 100.0,74.0 C98.7,75.5 97.3,77.5 98.0,79.0 C98.7,80.5 101.2,82.2 104.0,83.0 C106.8,83.8 111.5,83.8 115.0,84.0 C118.5,84.2 121.8,84.2 125.0,84.0 C128.2,83.8 131.5,82.8 134.0,83.0 C136.5,83.2 139.2,83.7 140.0,85.0 C140.8,86.3 140.3,89.3 139.0,91.0 C137.7,92.7 134.3,93.8 132.0,95.0 C129.7,96.2 127.9,97.4 125.0,98.0 C122.1,98.6 118.7,98.6 114.8,98.5 C110.9,98.4 105.0,98.3 101.8,97.5 C98.5,96.7 97.3,95.5 95.3,93.8 C93.3,92.1 91.9,89.4 90.0,87.3 C88.1,85.2 86.7,82.6 83.8,81.0 C80.9,79.4 75.9,78.9 72.4,77.5 C68.9,76.1 64.7,74.5 62.6,72.6 C60.5,70.7 60.3,68.2 60.0,66.0 C59.7,63.8 59.8,60.9 61.0,59.6Z" fill="#0c1cf4" filter="url(#b1)"/>
<path d="M126.0,54.0 C127.3,52.6 131.5,52.2 134.0,52.5 C136.5,52.8 140.0,54.4 141.0,56.0 C142.0,57.6 141.3,60.6 140.0,62.0 C138.7,63.4 135.3,64.7 133.0,64.5 C130.7,64.3 127.2,62.8 126.0,61.0 C124.8,59.2 124.7,55.4 126.0,54.0Z" fill="#0c1cf4" filter="url(#b1)"/>
<path d="M159.0,42.0 C160.5,39.8 163.3,37.7 166.0,37.0 C168.7,36.3 173.0,36.5 175.0,38.0 C177.0,39.5 178.0,43.2 178.0,46.0 C178.0,48.8 177.0,52.7 175.0,55.0 C173.0,57.3 168.7,59.5 166.0,60.0 C163.3,60.5 160.5,59.7 159.0,58.0 C157.5,56.3 157.0,52.7 157.0,50.0 C157.0,47.3 157.5,44.2 159.0,42.0Z" fill="#0c1cf4" filter="url(#b1)"/>
<path d="M174.0,57.0 C176.0,55.5 181.7,55.2 186.0,55.0 C190.3,54.8 196.7,55.3 200.0,56.0 C203.3,56.7 205.5,57.3 206.0,59.0 C206.5,60.7 205.3,64.4 203.0,66.0 C200.7,67.6 195.8,68.2 192.0,68.5 C188.2,68.8 183.0,68.8 180.0,68.0 C177.0,67.2 175.0,65.8 174.0,64.0 C173.0,62.2 172.0,58.5 174.0,57.0Z" fill="#0c1cf4" filter="url(#b1)"/>
<path d="M198.0,58.0 C200.0,57.0 208.0,58.3 212.0,59.0 C216.0,59.7 221.7,60.8 222.0,62.0 C222.3,63.2 217.7,65.5 214.0,66.0 C210.3,66.5 202.7,66.3 200.0,65.0 C197.3,63.7 196.0,59.0 198.0,58.0Z" fill="#0c1cf4" filter="url(#b1)" opacity="0.8"/>
<path d="M30.0,53.0 C30.3,51.7 32.2,51.3 33.0,52.0 C33.8,52.7 35.3,55.7 35.0,57.0 C34.7,58.3 31.8,60.7 31.0,60.0 C30.2,59.3 29.7,54.3 30.0,53.0Z" fill="#0c1cf4" filter="url(#b1)"/>
<path d="M172.7,84.5 C173.5,83.1 177.6,82.0 179.6,81.5 C181.6,81.0 187.3,80.5 189.6,80.3 C191.9,80.1 196.9,79.8 199.2,79.6 C201.5,79.4 206.7,79.3 209.0,79.0 C211.3,78.7 216.4,77.3 218.7,76.8 C221.0,76.3 226.9,74.9 228.7,74.5 C230.5,74.1 233.2,73.5 234.4,73.0 C235.6,72.5 238.3,71.5 239.0,70.5 C239.7,69.5 239.7,65.3 240.0,64.0 C240.3,62.7 241.0,60.2 241.5,59.5 C242.0,58.8 243.4,58.1 244.0,58.0 C244.6,57.9 246.4,57.9 247.0,58.3 C247.6,58.6 249.1,60.0 249.5,61.0 C249.9,62.0 250.2,65.5 250.5,67.0 C250.8,68.5 251.4,72.5 252.0,73.5 C252.6,74.5 255.3,75.6 255.9,75.4 C256.5,75.2 256.5,72.3 256.9,71.5 C257.2,70.7 258.3,68.8 258.9,68.6 C259.5,68.4 261.2,68.8 261.8,69.6 C262.4,70.4 263.5,74.0 263.8,75.4 C264.1,76.8 264.8,79.9 264.7,81.3 C264.6,82.7 263.6,86.1 262.8,87.2 C262.0,88.3 259.2,90.3 257.9,91.1 C256.6,91.9 253.4,93.5 252.0,94.0 C250.6,94.5 247.2,94.7 246.1,95.0 C245.0,95.3 243.1,96.5 242.2,97.0 C241.3,97.5 239.1,98.0 238.3,98.9 C237.5,99.8 236.1,103.2 235.4,104.8 C234.7,106.4 233.2,111.1 232.4,112.6 C231.6,114.1 229.6,116.6 228.5,117.5 C227.4,118.4 224.0,120.4 222.6,120.5 C221.2,120.6 217.9,119.4 216.8,118.5 C215.7,117.6 213.8,114.0 212.9,112.6 C212.0,111.2 209.6,106.8 208.9,106.8 C208.2,106.8 207.7,111.7 207.0,112.6 C206.3,113.5 204.1,114.6 203.1,114.6 C202.1,114.6 199.2,113.3 198.2,112.6 C197.2,111.9 194.5,109.6 194.3,108.7 C194.1,107.8 196.4,105.6 196.2,104.8 C196.0,104.0 193.3,102.5 192.3,101.9 C191.3,101.3 188.7,100.2 187.4,99.9 C186.1,99.6 182.9,99.2 181.5,98.9 C180.1,98.6 176.7,97.7 175.7,97.0 C174.7,96.3 173.0,94.6 172.7,93.1 C172.3,91.6 171.9,85.9 172.7,84.5Z" fill="#f41212" stroke="#f41212" stroke-width="2.4" stroke-linejoin="round" filter="url(#b06)"/>
<path d="M173.7,84.3 C174.5,83.8 177.5,82.5 179.2,82.1 C180.9,81.7 185.8,81.4 188.1,81.0 C190.4,80.6 196.6,79.2 199.2,78.7 C201.8,78.2 207.7,77.0 210.3,76.5 C212.9,76.0 218.8,74.8 221.4,74.3 C224.0,73.8 230.4,72.6 232.5,72.1 C234.6,71.6 237.9,70.6 239.1,69.9 C240.3,69.2 242.6,67.5 243.0,66.5 C243.4,65.5 242.8,61.9 242.8,61.0 C242.8,60.1 243.1,58.8 243.4,58.6 C243.7,58.4 244.8,58.9 245.2,59.6 C245.6,60.3 246.6,63.0 246.9,64.3 C247.2,65.6 247.6,69.6 248.0,71.0 C248.4,72.4 249.4,75.7 250.2,76.5 C251.0,77.3 253.9,78.0 254.7,77.6 C255.5,77.2 256.6,74.2 256.9,73.2 C257.2,72.2 256.6,69.5 256.9,68.8 C257.2,68.1 258.5,67.2 259.1,67.6 C259.7,68.0 261.9,70.7 262.4,72.1 C262.9,73.5 263.4,78.4 263.5,79.8 C263.6,81.2 264.0,83.5 263.5,84.3 C263.0,85.1 260.1,85.9 259.1,86.5 C258.1,87.1 255.6,88.9 254.7,89.8 C253.8,90.7 252.3,93.8 251.3,94.3 C250.3,94.8 247.0,94.4 245.8,94.3 C244.6,94.2 242.1,93.9 241.3,93.2 C240.5,92.5 239.4,89.9 239.1,88.7 C238.8,87.5 239.4,83.7 239.1,83.2 C238.8,82.7 237.4,83.4 236.9,84.3 C236.4,85.2 235.1,88.8 234.7,90.9 C234.3,93.0 234.0,99.9 233.6,102.0 C233.2,104.1 232.1,107.1 231.4,108.7 C230.7,110.3 228.9,114.3 228.0,115.3 C227.1,116.3 224.8,117.6 223.6,117.6 C222.4,117.6 219.2,116.1 218.0,115.3 C216.8,114.5 214.2,112.5 213.6,110.9 C213.0,109.3 212.9,103.6 212.5,102.0 C212.1,100.4 210.8,98.2 210.3,97.6 C209.8,97.0 208.6,96.0 208.1,96.5 C207.6,97.0 206.1,100.4 205.8,102.0 C205.5,103.6 206.2,108.4 205.8,109.8 C205.4,111.2 203.5,113.6 202.5,114.2 C201.5,114.8 198.3,115.4 197.0,115.3 C195.7,115.2 192.2,114.1 191.4,113.1 C190.6,112.1 190.0,107.7 190.3,106.5 C190.6,105.3 192.6,103.5 193.6,103.2 C194.6,102.9 198.3,104.7 199.2,104.3 C200.1,103.9 201.9,100.7 201.4,99.8 C200.9,98.9 196.3,97.0 194.7,96.5 C193.1,96.0 189.3,95.3 188.1,95.4 C186.9,95.5 185.8,97.0 184.8,97.6 C183.8,98.2 180.4,100.6 179.2,100.9 C178.0,101.2 175.4,100.4 174.8,99.8 C174.2,99.2 173.4,96.2 173.7,95.4 C174.0,94.6 175.6,93.3 177.0,93.2 C178.4,93.1 184.7,94.4 185.9,94.3 C187.1,94.2 187.8,92.6 187.0,92.1 C186.2,91.6 180.8,90.2 179.2,89.8 C177.6,89.4 174.5,89.1 173.7,88.7 C172.9,88.3 172.6,87.0 172.6,86.5 C172.6,86.0 172.9,84.8 173.7,84.3Z" fill="#f41212" stroke="#f41212" stroke-width="2.4" stroke-linejoin="round" filter="url(#b06)"/>
<path d="M83.8,93.4 C84.2,93.0 86.8,92.5 87.7,92.7 C88.6,92.9 90.8,94.6 91.6,95.3 C92.4,96.0 93.5,98.0 94.3,98.6 C95.1,99.2 97.4,100.1 98.2,100.6 C99.0,101.1 100.6,102.4 100.8,103.2 C101.0,104.0 100.4,106.4 100.1,107.1 C99.8,107.8 98.7,109.0 98.2,109.0 C97.7,109.0 96.2,107.6 95.6,107.1 C95.0,106.6 93.8,105.4 93.0,105.1 C92.2,104.8 89.8,104.7 89.0,104.5 C88.2,104.3 86.9,103.7 86.4,103.2 C85.9,102.7 85.1,101.2 85.1,100.6 C85.1,100.0 86.5,98.4 86.4,97.9 C86.3,97.4 84.8,96.5 84.5,96.0 C84.2,95.5 83.4,93.8 83.8,93.4Z" fill="#f41212" stroke="#f41212" stroke-width="2.4" stroke-linejoin="round" filter="url(#b06)"/>
<path d="M104.0,115.6 C103.6,116.1 102.2,117.5 102.1,118.2 C102.0,118.9 103.4,120.6 103.4,121.4 C103.4,122.2 102.0,124.6 102.1,125.4 C102.2,126.2 104.0,127.4 104.0,128.0 C104.0,128.6 102.4,129.8 102.1,130.6 C101.8,131.4 101.6,133.6 101.4,134.5 C101.2,135.4 100.5,137.6 100.1,138.4 C99.7,139.2 98.6,140.4 98.2,141.0 C97.8,141.6 97.4,143.0 96.9,143.6 C96.4,144.2 94.2,145.9 94.3,146.2 C94.4,146.5 96.7,146.3 97.5,146.2 C98.3,146.1 99.8,145.4 100.8,145.6 C101.8,145.8 104.8,147.7 106.0,148.2 C107.2,148.7 110.0,149.4 111.2,149.5 C112.4,149.6 115.3,149.2 116.5,148.9 C117.7,148.6 120.9,147.4 121.7,146.9 C122.5,146.4 123.2,145.4 123.0,144.9 C122.8,144.4 121.2,142.9 120.4,142.3 C119.6,141.7 117.3,140.2 116.5,139.7 C115.7,139.2 114.2,139.0 113.8,138.4 C113.4,137.8 113.5,135.4 113.2,134.5 C112.9,133.6 111.7,131.4 111.2,130.6 C110.7,129.8 109.5,128.8 109.3,128.0 C109.1,127.2 109.7,125.0 109.9,124.0 C110.1,123.0 110.6,120.6 110.6,119.5 C110.6,118.4 109.8,115.7 109.9,114.9 C110.0,114.1 110.9,113.5 111.2,113.0 C111.5,112.5 112.7,110.8 112.5,110.3 C112.3,109.8 110.5,109.1 109.9,109.0 C109.3,108.9 107.8,109.4 107.3,109.7 C106.8,110.0 106.2,111.1 106.0,111.6 C105.8,112.1 105.6,113.7 105.4,114.2 C105.2,114.7 104.4,115.1 104.0,115.6Z" fill="#f41212" stroke="#f41212" stroke-width="2.4" stroke-linejoin="round" filter="url(#b06)"/>
<path d="M83.8,118.8 C84.2,118.5 86.6,117.9 87.7,117.5 C88.8,117.1 92.0,116.0 93.0,115.6 C94.0,115.2 95.7,114.1 96.2,114.3 C96.7,114.5 97.1,116.4 96.9,116.9 C96.7,117.4 95.1,118.5 94.3,118.8 C93.5,119.1 91.2,119.3 90.3,119.5 C89.4,119.7 87.1,120.1 86.4,120.1 C85.7,120.1 84.8,120.1 84.5,119.9 C84.2,119.7 83.4,119.1 83.8,118.8Z" fill="#f41212" stroke="#f41212" stroke-width="2.4" stroke-linejoin="round" filter="url(#b06)"/>
<path d="M117.8,118.2 C117.8,117.7 118.2,115.3 119.0,114.3 C119.8,113.3 123.1,110.8 124.3,109.7 C125.5,108.6 128.3,106.1 129.5,105.1 C130.7,104.1 133.3,102.0 134.7,101.2 C136.1,100.4 139.9,98.7 141.3,97.9 C142.7,97.1 145.1,95.2 146.5,94.7 C147.9,94.2 151.9,93.3 153.0,93.4 C154.1,93.5 155.4,94.6 155.6,95.3 C155.8,96.0 154.8,98.3 154.3,99.2 C153.8,100.1 151.5,102.1 151.0,103.2 C150.5,104.3 150.6,107.3 150.4,108.4 C150.2,109.5 149.6,111.5 149.1,112.3 C148.6,113.1 146.6,114.5 145.8,114.9 C145.0,115.3 143.4,115.7 142.6,115.6 C141.8,115.5 139.5,114.5 138.6,114.3 C137.7,114.1 135.6,114.4 134.7,114.3 C133.8,114.2 131.7,114.0 130.8,113.6 C129.9,113.2 127.7,111.2 126.9,111.0 C126.1,110.8 124.8,111.2 124.3,111.6 C123.8,112.0 123.3,113.7 123.0,114.3 C122.7,114.9 122.2,116.4 121.7,116.9 C121.2,117.4 119.5,118.0 119.0,118.2 C118.5,118.4 117.8,118.7 117.8,118.2Z" fill="#f41212" stroke="#f41212" stroke-width="2.4" stroke-linejoin="round" filter="url(#b06)"/>
<path d="M121.7,117.5 C122.2,117.0 124.5,116.4 125.6,116.2 C126.7,116.0 129.6,116.0 130.8,116.2 C132.0,116.4 134.9,117.5 136.0,118.2 C137.1,118.9 139.8,121.1 140.6,122.1 C141.4,123.1 142.5,125.7 142.6,126.7 C142.7,127.7 141.9,130.0 141.3,130.6 C140.7,131.2 138.2,131.8 137.3,131.9 C136.4,132.0 134.2,131.6 133.4,131.2 C132.6,130.8 131.1,129.1 130.2,128.6 C129.3,128.1 126.4,127.2 125.6,126.7 C124.8,126.2 123.5,124.7 123.0,124.0 C122.5,123.3 121.9,121.6 121.7,120.8 C121.5,120.0 121.2,118.0 121.7,117.5Z" fill="#f41212" stroke="#f41212" stroke-width="2.4" stroke-linejoin="round" filter="url(#b06)"/>
<path d="M43.2,118.7 C43.6,118.2 45.6,117.5 46.5,117.6 C47.4,117.7 50.4,119.0 51.0,119.8 C51.6,120.6 51.9,123.6 51.6,124.3 C51.3,125.0 49.7,125.4 48.8,125.4 C47.9,125.4 45.0,124.7 44.3,124.3 C43.6,123.9 42.9,122.7 42.8,122.0 C42.7,121.3 42.8,119.2 43.2,118.7Z" fill="#f41212" stroke="#f41212" stroke-width="2.4" stroke-linejoin="round" filter="url(#b06)"/>
<path d="M46.5,126.5 C47.1,126.2 50.3,126.7 51.0,127.1 C51.7,127.5 52.8,129.2 52.8,129.8 C52.8,130.4 51.6,132.2 51.0,132.5 C50.4,132.8 48.2,132.4 47.6,132.0 C47.0,131.6 46.2,130.0 46.1,129.4 C46.0,128.8 45.9,126.8 46.5,126.5Z" fill="#f41212" stroke="#f41212" stroke-width="2.4" stroke-linejoin="round" filter="url(#b06)"/>
<path d="M71.0,119.6 C71.4,118.8 74.4,117.8 75.4,117.6 C76.4,117.4 78.8,117.7 79.2,118.3 C79.6,118.9 79.1,122.3 78.7,123.1 C78.3,123.9 76.2,124.8 75.4,124.9 C74.6,125.0 72.6,124.9 72.1,124.3 C71.6,123.7 70.6,120.4 71.0,119.6Z" fill="#f41212" stroke="#f41212" stroke-width="2.4" stroke-linejoin="round" filter="url(#b06)"/>
<path d="M228.3,12.8 C227.7,13.1 228.6,15.0 229.2,15.5 C229.8,16.0 233.0,16.9 233.7,17.4 C234.4,17.9 235.0,19.5 235.6,20.1 C236.2,20.7 238.5,22.2 239.2,22.9 C239.9,23.6 241.4,26.0 242.0,26.5 C242.6,27.0 244.3,27.6 244.7,27.4 C245.1,27.2 245.8,25.3 245.6,24.7 C245.4,24.1 243.4,22.5 242.9,21.9 C242.4,21.3 241.4,19.8 241.1,19.2 C240.8,18.6 240.6,16.8 240.1,16.5 C239.6,16.2 237.2,16.7 236.5,16.5 C235.8,16.3 233.9,15.0 233.7,14.6 C233.5,14.2 235.2,13.0 234.6,12.8 C234.0,12.6 228.9,12.5 228.3,12.8Z" fill="#f41212" stroke="#f41212" stroke-width="2.4" stroke-linejoin="round" filter="url(#b06)"/>
<path d="M83.2,95.7 C84.4,94.7 90.0,93.1 92.1,93.4 C94.2,93.7 99.7,96.6 101.0,97.9 C102.3,99.2 103.2,103.1 103.2,104.5 C103.2,105.9 102.0,109.2 101.0,110.0 C100.0,110.8 95.9,111.4 94.3,111.2 C92.7,111.0 89.1,108.9 87.7,107.9 C86.3,106.9 82.6,103.7 82.1,102.3 C81.6,100.9 82.0,96.7 83.2,95.7Z" fill="#f41212" stroke="#f41212" stroke-width="2.4" stroke-linejoin="round" filter="url(#b06)"/>
<path d="M101.0,108.0 C102.0,106.6 106.0,106.2 108.0,106.5 C110.0,106.8 112.3,108.1 113.0,110.0 C113.7,111.9 113.2,116.8 112.0,118.0 C110.8,119.2 107.7,117.5 106.0,117.0 C104.3,116.5 102.8,116.5 102.0,115.0 C101.2,113.5 100.0,109.4 101.0,108.0Z" fill="#f41212" filter="url(#b1)"/>
<path d="M115.0,108.0 C116.5,105.5 122.5,102.3 125.0,102.0 C127.5,101.7 130.5,104.0 130.0,106.0 C129.5,108.0 124.3,112.2 122.0,114.0 C119.7,115.8 117.2,118.0 116.0,117.0 C114.8,116.0 113.5,110.5 115.0,108.0Z" fill="#f41212" filter="url(#b1)"/>
<path d="M117.0,118.0 C116.7,117.2 118.3,113.2 119.0,112.0 C119.7,110.8 121.8,108.7 123.0,107.5 C124.2,106.3 127.7,103.0 129.0,102.0 C130.3,101.0 132.6,99.3 134.0,98.5 C135.4,97.7 139.6,96.1 141.0,95.5 C142.4,94.9 144.6,93.8 146.0,93.5 C147.4,93.2 151.8,92.3 153.0,92.5 C154.2,92.7 156.3,94.1 156.5,95.0 C156.7,95.9 155.6,99.0 155.0,100.0 C154.4,101.0 151.6,103.0 151.0,104.0 C150.4,105.0 150.3,108.0 150.0,109.0 C149.7,110.0 148.8,112.2 148.0,113.0 C147.2,113.8 144.4,115.7 143.0,116.0 C141.6,116.3 137.8,115.9 136.0,116.0 C134.2,116.1 129.6,116.7 128.0,117.0 C126.4,117.3 123.3,118.9 122.0,119.0 C120.7,119.1 117.3,118.8 117.0,118.0Z" fill="#f41212" stroke="#f41212" stroke-width="2.4" stroke-linejoin="round" filter="url(#b06)"/>
<ellipse cx="165" cy="97" rx="5.5" ry="5" fill="#ff8282" filter="url(#b2)" opacity="0.8"/>
<ellipse cx="165" cy="97" rx="3.3" ry="2.8" fill="#f41212"/>
<ellipse cx="263.9" cy="37.9" rx="5.7" ry="6.2" fill="#ff8282" filter="url(#b2)" opacity="0.8"/>
<ellipse cx="263.9" cy="37.9" rx="3.5" ry="4.0" fill="#f41212"/>
<ellipse cx="150.3" cy="53.3" rx="4.7" ry="5.8" fill="#ff8282" filter="url(#b2)" opacity="0.8"/>
<ellipse cx="150.3" cy="53.3" rx="2.5" ry="3.5999999999999996" fill="#f41212"/>
<ellipse cx="261.8" cy="104.8" rx="4.7" ry="4.7" fill="#ff8282" filter="url(#b2)" opacity="0.8"/>
<ellipse cx="261.8" cy="104.8" rx="2.5" ry="2.5" fill="#f41212"/>
<ellipse cx="280.2" cy="105.4" rx="5.2" ry="6.4" fill="#ff8282" filter="url(#b2)" opacity="0.8"/>
<ellipse cx="280.2" cy="105.4" rx="3.0" ry="4.2" fill="#f41212"/>
<ellipse cx="269.6" cy="122" rx="4.7" ry="4.1" fill="#ff8282" filter="url(#b2)" opacity="0.8"/>
<ellipse cx="269.6" cy="122" rx="2.5" ry="1.9000000000000001" fill="#f41212"/>
<ellipse cx="269" cy="123" rx="6" ry="6" fill="#ff8282" filter="url(#b2)" opacity="0.7"/>
<ellipse cx="269" cy="123" rx="3" ry="3" fill="#f41212" filter="url(#b1)" opacity="0.9"/>
<ellipse cx="284" cy="124" rx="6" ry="7" fill="#ff8282" filter="url(#b2)" opacity="0.7"/>
<ellipse cx="284" cy="124" rx="3" ry="4" fill="#f41212" filter="url(#b1)" opacity="0.9"/>
<ellipse cx="272" cy="151" rx="7" ry="7" fill="#ff8282" filter="url(#b2)" opacity="0.7"/>
<ellipse cx="272" cy="151" rx="4" ry="4" fill="#f41212" filter="url(#b1)" opacity="0.9"/>
<ellipse cx="262" cy="161" rx="6.5" ry="6" fill="#ff8282" filter="url(#b2)" opacity="0.7"/>
<ellipse cx="262" cy="161" rx="3.5" ry="3" fill="#f41212" filter="url(#b1)" opacity="0.9"/>
<ellipse cx="219" cy="160" rx="7" ry="6.5" fill="#ff8282" filter="url(#b2)" opacity="0.7"/>
<ellipse cx="219" cy="160" rx="4" ry="3.5" fill="#f41212" filter="url(#b1)" opacity="0.9"/>
<ellipse cx="295" cy="25" rx="7" ry="7" fill="#ff8282" filter="url(#b2)" opacity="0.7"/>
<ellipse cx="295" cy="25" rx="4" ry="4" fill="#f41212" filter="url(#b1)" opacity="0.9"/>
<ellipse cx="280" cy="140" rx="6" ry="6" fill="#ff8282" filter="url(#b2)" opacity="0.7"/>
<ellipse cx="280" cy="140" rx="3" ry="3" fill="#f41212" filter="url(#b1)" opacity="0.9"/>
<ellipse cx="150" cy="54.5" rx="5" ry="5.5" fill="#ff7a7a" filter="url(#b2)" opacity="0.8"/>
<ellipse cx="150.4" cy="53.4" rx="2.7" ry="2.6" fill="#f41212"/>
<ellipse cx="169" cy="123" rx="4" ry="3" fill="#6e7cff" filter="url(#b2)" opacity="0.7"/>
<ellipse cx="211" cy="147" rx="3" ry="2.5" fill="#6e7cff" filter="url(#b2)" opacity="0.7"/>
<ellipse cx="298" cy="140" rx="4" ry="8" fill="#6e7cff" filter="url(#b2)" opacity="0.7"/>
<ellipse cx="296" cy="163" rx="8" ry="3" fill="#6e7cff" filter="url(#b2)" opacity="0.7"/>
<ellipse cx="60" cy="128" rx="3" ry="3" fill="#6e7cff" filter="url(#b2)" opacity="0.7"/>
<ellipse cx="285" cy="42" rx="4" ry="4" fill="#6e7cff" filter="url(#b2)" opacity="0.7"/>
<path d="M53.0,112.0 C53.8,110.8 56.8,110.3 58.0,111.0 C59.2,111.7 60.2,114.5 60.0,116.0 C59.8,117.5 58.2,119.7 57.0,120.0 C55.8,120.3 53.7,119.3 53.0,118.0 C52.3,116.7 52.2,113.2 53.0,112.0Z" fill="#3040f0" filter="url(#b1)"/>
<path d="M245.0,56.5 C245.4,57.4 246.7,60.1 247.5,62.0 C248.3,63.9 249.1,66.0 250.0,68.0 C250.9,70.0 252.5,73.0 253.0,74.0" fill="none" stroke="#fff4f4" stroke-width="2.6" opacity="0.9"/>
<g fill="none" stroke="#200" stroke-width="0.6" opacity="0.85"><path d="M173.7,84.3 C174.5,83.8 177.5,82.5 179.2,82.1 C180.9,81.7 185.8,81.4 188.1,81.0 C190.4,80.6 196.6,79.2 199.2,78.7 C201.8,78.2 207.7,77.0 210.3,76.5 C212.9,76.0 218.8,74.8 221.4,74.3 C224.0,73.8 230.4,72.6 232.5,72.1 C234.6,71.6 237.9,70.6 239.1,69.9 C240.3,69.2 242.6,67.5 243.0,66.5 C243.4,65.5 242.8,61.9 242.8,61.0 C242.8,60.1 243.1,58.8 243.4,58.6 C243.7,58.4 244.8,58.9 245.2,59.6 C245.6,60.3 246.6,63.0 246.9,64.3 C247.2,65.6 247.6,69.6 248.0,71.0 C248.4,72.4 249.4,75.7 250.2,76.5 C251.0,77.3 253.9,78.0 254.7,77.6 C255.5,77.2 256.6,74.2 256.9,73.2 C257.2,72.2 256.6,69.5 256.9,68.8 C257.2,68.1 258.5,67.2 259.1,67.6 C259.7,68.0 261.9,70.7 262.4,72.1 C262.9,73.5 263.4,78.4 263.5,79.8 C263.6,81.2 264.0,83.5 263.5,84.3 C263.0,85.1 260.1,85.9 259.1,86.5 C258.1,87.1 255.6,88.9 254.7,89.8 C253.8,90.7 252.3,93.8 251.3,94.3 C250.3,94.8 247.0,94.4 245.8,94.3 C244.6,94.2 242.1,93.9 241.3,93.2 C240.5,92.5 239.4,89.9 239.1,88.7 C238.8,87.5 239.4,83.7 239.1,83.2 C238.8,82.7 237.4,83.4 236.9,84.3 C236.4,85.2 235.1,88.8 234.7,90.9 C234.3,93.0 234.0,99.9 233.6,102.0 C233.2,104.1 232.1,107.1 231.4,108.7 C230.7,110.3 228.9,114.3 228.0,115.3 C227.1,116.3 224.8,117.6 223.6,117.6 C222.4,117.6 219.2,116.1 218.0,115.3 C216.8,114.5 214.2,112.5 213.6,110.9 C213.0,109.3 212.9,103.6 212.5,102.0 C212.1,100.4 210.8,98.2 210.3,97.6 C209.8,97.0 208.6,96.0 208.1,96.5 C207.6,97.0 206.1,100.4 205.8,102.0 C205.5,103.6 206.2,108.4 205.8,109.8 C205.4,111.2 203.5,113.6 202.5,114.2 C201.5,114.8 198.3,115.4 197.0,115.3 C195.7,115.2 192.2,114.1 191.4,113.1 C190.6,112.1 190.0,107.7 190.3,106.5 C190.6,105.3 192.6,103.5 193.6,103.2 C194.6,102.9 198.3,104.7 199.2,104.3 C200.1,103.9 201.9,100.7 201.4,99.8 C200.9,98.9 196.3,97.0 194.7,96.5 C193.1,96.0 189.3,95.3 188.1,95.4 C186.9,95.5 185.8,97.0 184.8,97.6 C183.8,98.2 180.4,100.6 179.2,100.9 C178.0,101.2 175.4,100.4 174.8,99.8 C174.2,99.2 173.4,96.2 173.7,95.4 C174.0,94.6 175.6,93.3 177.0,93.2 C178.4,93.1 184.7,94.4 185.9,94.3 C187.1,94.2 187.8,92.6 187.0,92.1 C186.2,91.6 180.8,90.2 179.2,89.8 C177.6,89.4 174.5,89.1 173.7,88.7 C172.9,88.3 172.6,87.0 172.6,86.5 C172.6,86.0 172.9,84.8 173.7,84.3Z"/><path d="M214.7,84.3 C215.4,83.8 218.6,82.8 220.3,82.1 C222.0,81.4 227.7,78.8 229.1,78.7 C230.5,78.6 232.4,80.0 232.5,80.9 C232.6,81.8 231.0,85.2 230.2,86.5 C229.4,87.8 226.4,90.7 225.8,92.1 C225.2,93.5 224.7,97.5 224.7,98.7 C224.7,99.9 225.9,101.6 225.8,102.0 C225.7,102.4 224.2,102.5 223.6,102.0 C223.0,101.5 220.8,98.8 220.3,97.6 C219.8,96.4 219.7,93.0 219.2,92.1 C218.7,91.2 216.3,90.5 215.8,89.8 C215.3,89.1 214.8,87.1 214.7,86.5 C214.6,85.9 214.0,84.8 214.7,84.3Z"/><path d="M83.8,93.4 C84.2,93.0 86.8,92.5 87.7,92.7 C88.6,92.9 90.8,94.6 91.6,95.3 C92.4,96.0 93.5,98.0 94.3,98.6 C95.1,99.2 97.4,100.1 98.2,100.6 C99.0,101.1 100.6,102.4 100.8,103.2 C101.0,104.0 100.4,106.4 100.1,107.1 C99.8,107.8 98.7,109.0 98.2,109.0 C97.7,109.0 96.2,107.6 95.6,107.1 C95.0,106.6 93.8,105.4 93.0,105.1 C92.2,104.8 89.8,104.7 89.0,104.5 C88.2,104.3 86.9,103.7 86.4,103.2 C85.9,102.7 85.1,101.2 85.1,100.6 C85.1,100.0 86.5,98.4 86.4,97.9 C86.3,97.4 84.8,96.5 84.5,96.0 C84.2,95.5 83.4,93.8 83.8,93.4Z"/><path d="M104.0,115.6 C103.6,116.1 102.2,117.5 102.1,118.2 C102.0,118.9 103.4,120.6 103.4,121.4 C103.4,122.2 102.0,124.6 102.1,125.4 C102.2,126.2 104.0,127.4 104.0,128.0 C104.0,128.6 102.4,129.8 102.1,130.6 C101.8,131.4 101.6,133.6 101.4,134.5 C101.2,135.4 100.5,137.6 100.1,138.4 C99.7,139.2 98.6,140.4 98.2,141.0 C97.8,141.6 97.4,143.0 96.9,143.6 C96.4,144.2 94.2,145.9 94.3,146.2 C94.4,146.5 96.7,146.3 97.5,146.2 C98.3,146.1 99.8,145.4 100.8,145.6 C101.8,145.8 104.8,147.7 106.0,148.2 C107.2,148.7 110.0,149.4 111.2,149.5 C112.4,149.6 115.3,149.2 116.5,148.9 C117.7,148.6 120.9,147.4 121.7,146.9 C122.5,146.4 123.2,145.4 123.0,144.9 C122.8,144.4 121.2,142.9 120.4,142.3 C119.6,141.7 117.3,140.2 116.5,139.7 C115.7,139.2 114.2,139.0 113.8,138.4 C113.4,137.8 113.5,135.4 113.2,134.5 C112.9,133.6 111.7,131.4 111.2,130.6 C110.7,129.8 109.5,128.8 109.3,128.0 C109.1,127.2 109.7,125.0 109.9,124.0 C110.1,123.0 110.6,120.6 110.6,119.5 C110.6,118.4 109.8,115.7 109.9,114.9 C110.0,114.1 110.9,113.5 111.2,113.0 C111.5,112.5 112.7,110.8 112.5,110.3 C112.3,109.8 110.5,109.1 109.9,109.0 C109.3,108.9 107.8,109.4 107.3,109.7 C106.8,110.0 106.2,111.1 106.0,111.6 C105.8,112.1 105.6,113.7 105.4,114.2 C105.2,114.7 104.4,115.1 104.0,115.6Z"/><path d="M83.8,118.8 C84.2,118.5 86.6,117.9 87.7,117.5 C88.8,117.1 92.0,116.0 93.0,115.6 C94.0,115.2 95.7,114.1 96.2,114.3 C96.7,114.5 97.1,116.4 96.9,116.9 C96.7,117.4 95.1,118.5 94.3,118.8 C93.5,119.1 91.2,119.3 90.3,119.5 C89.4,119.7 87.1,120.1 86.4,120.1 C85.7,120.1 84.8,120.1 84.5,119.9 C84.2,119.7 83.4,119.1 83.8,118.8Z"/><path d="M117.8,118.2 C117.8,117.7 118.2,115.3 119.0,114.3 C119.8,113.3 123.1,110.8 124.3,109.7 C125.5,108.6 128.3,106.1 129.5,105.1 C130.7,104.1 133.3,102.0 134.7,101.2 C136.1,100.4 139.9,98.7 141.3,97.9 C142.7,97.1 145.1,95.2 146.5,94.7 C147.9,94.2 151.9,93.3 153.0,93.4 C154.1,93.5 155.4,94.6 155.6,95.3 C155.8,96.0 154.8,98.3 154.3,99.2 C153.8,100.1 151.5,102.1 151.0,103.2 C150.5,104.3 150.6,107.3 150.4,108.4 C150.2,109.5 149.6,111.5 149.1,112.3 C148.6,113.1 146.6,114.5 145.8,114.9 C145.0,115.3 143.4,115.7 142.6,115.6 C141.8,115.5 139.5,114.5 138.6,114.3 C137.7,114.1 135.6,114.4 134.7,114.3 C133.8,114.2 131.7,114.0 130.8,113.6 C129.9,113.2 127.7,111.2 126.9,111.0 C126.1,110.8 124.8,111.2 124.3,111.6 C123.8,112.0 123.3,113.7 123.0,114.3 C122.7,114.9 122.2,116.4 121.7,116.9 C121.2,117.4 119.5,118.0 119.0,118.2 C118.5,118.4 117.8,118.7 117.8,118.2Z"/><path d="M121.7,117.5 C122.2,117.0 124.5,116.4 125.6,116.2 C126.7,116.0 129.6,116.0 130.8,116.2 C132.0,116.4 134.9,117.5 136.0,118.2 C137.1,118.9 139.8,121.1 140.6,122.1 C141.4,123.1 142.5,125.7 142.6,126.7 C142.7,127.7 141.9,130.0 141.3,130.6 C140.7,131.2 138.2,131.8 137.3,131.9 C136.4,132.0 134.2,131.6 133.4,131.2 C132.6,130.8 131.1,129.1 130.2,128.6 C129.3,128.1 126.4,127.2 125.6,126.7 C124.8,126.2 123.5,124.7 123.0,124.0 C122.5,123.3 121.9,121.6 121.7,120.8 C121.5,120.0 121.2,118.0 121.7,117.5Z"/><path d="M43.2,118.7 C43.6,118.2 45.6,117.5 46.5,117.6 C47.4,117.7 50.4,119.0 51.0,119.8 C51.6,120.6 51.9,123.6 51.6,124.3 C51.3,125.0 49.7,125.4 48.8,125.4 C47.9,125.4 45.0,124.7 44.3,124.3 C43.6,123.9 42.9,122.7 42.8,122.0 C42.7,121.3 42.8,119.2 43.2,118.7Z"/><path d="M46.5,126.5 C47.1,126.2 50.3,126.7 51.0,127.1 C51.7,127.5 52.8,129.2 52.8,129.8 C52.8,130.4 51.6,132.2 51.0,132.5 C50.4,132.8 48.2,132.4 47.6,132.0 C47.0,131.6 46.2,130.0 46.1,129.4 C46.0,128.8 45.9,126.8 46.5,126.5Z"/><path d="M71.0,119.6 C71.4,118.8 74.4,117.8 75.4,117.6 C76.4,117.4 78.8,117.7 79.2,118.3 C79.6,118.9 79.1,122.3 78.7,123.1 C78.3,123.9 76.2,124.8 75.4,124.9 C74.6,125.0 72.6,124.9 72.1,124.3 C71.6,123.7 70.6,120.4 71.0,119.6Z"/><path d="M228.3,12.8 C227.7,13.1 228.6,15.0 229.2,15.5 C229.8,16.0 233.0,16.9 233.7,17.4 C234.4,17.9 235.0,19.5 235.6,20.1 C236.2,20.7 238.5,22.2 239.2,22.9 C239.9,23.6 241.4,26.0 242.0,26.5 C242.6,27.0 244.3,27.6 244.7,27.4 C245.1,27.2 245.8,25.3 245.6,24.7 C245.4,24.1 243.4,22.5 242.9,21.9 C242.4,21.3 241.4,19.8 241.1,19.2 C240.8,18.6 240.6,16.8 240.1,16.5 C239.6,16.2 237.2,16.7 236.5,16.5 C235.8,16.3 233.9,15.0 233.7,14.6 C233.5,14.2 235.2,13.0 234.6,12.8 C234.0,12.6 228.9,12.5 228.3,12.8Z"/><ellipse cx="165" cy="97" rx="2.5" ry="2"/><ellipse cx="263.9" cy="37.9" rx="2.7" ry="3.2"/><ellipse cx="150.3" cy="53.3" rx="1.7" ry="2.8"/><ellipse cx="261.8" cy="104.8" rx="1.7" ry="1.7"/><ellipse cx="280.2" cy="105.4" rx="2.2" ry="3.4"/><ellipse cx="269.6" cy="122" rx="1.7" ry="1.1"/></g>
<path d="M52.0,13.0 L302.0,13.0 L302.0,166.0 L30.0,166.0 L30.0,100.0 L45.0,95.0 L52.0,60.0Z" fill="url(#arwD)" opacity="0.5"/></g></g>
<clipPath id="cp1"><rect x="340.5" y="13.6" width="271.1" height="152.2"/></clipPath>
<g clip-path="url(#cp1)"><g transform="translate(310.1 0.0)"><rect x="30.4" y="13.0" width="271.1" height="152.5" fill="#fff" filter="url(#nzA)"/>
<path d="M282.0,29.5 C285.3,26.8 299.5,26.8 303.0,29.5 C306.5,32.2 306.3,43.2 303.0,46.0 C299.7,48.8 286.5,48.8 283.0,46.0 C279.5,43.2 278.7,32.2 282.0,29.5Z" fill="#f4a8a8" filter="url(#b1)"/>
<path d="M176.0,83.0 C178.7,82.6 187.0,81.2 192.0,80.5 C197.0,79.8 202.3,79.5 206.0,79.0 C209.7,78.5 210.8,78.2 214.0,77.5 C217.2,76.8 221.8,75.9 225.0,75.0 C228.2,74.1 230.5,73.2 233.0,72.0 C235.5,70.8 238.2,69.7 240.0,68.0 C241.8,66.3 243.3,63.0 244.0,62.0" fill="none" stroke="#ee8080" stroke-width="2.4" opacity="0.8"/>
<path d="M100.0,107.0 C102.0,105.8 107.0,102.8 112.0,100.0 C117.0,97.2 123.7,93.0 130.0,90.0 C136.3,87.0 143.0,83.7 150.0,82.0 C157.0,80.3 168.3,80.3 172.0,80.0" fill="none" stroke="#f2a8a8" stroke-width="2.2" opacity="0.6"/>
<path d="M57.0,30.0 L150.0,28.0 L262.0,40.0 L265.0,90.0 L230.0,110.0 L180.0,115.0 L160.0,155.0 L100.0,160.0 L55.0,130.0Z" fill="url(#arwD)" opacity="0.45"/>
<g stroke="#222" stroke-width="0.9" opacity="0.75"><path d="M284,32 H303 M284,37.3 H303 M285,42.3 H303 M287,27 H303"/></g>
<g transform="translate(0.0 0.0)" fill="none" stroke="#1a1a1a" stroke-width="0.85" opacity="1"><path d="M173.7,84.3 C174.5,83.8 177.5,82.5 179.2,82.1 C180.9,81.7 185.8,81.4 188.1,81.0 C190.4,80.6 196.6,79.2 199.2,78.7 C201.8,78.2 207.7,77.0 210.3,76.5 C212.9,76.0 218.8,74.8 221.4,74.3 C224.0,73.8 230.4,72.6 232.5,72.1 C234.6,71.6 237.9,70.6 239.1,69.9 C240.3,69.2 242.6,67.5 243.0,66.5 C243.4,65.5 242.8,61.9 242.8,61.0 C242.8,60.1 243.1,58.8 243.4,58.6 C243.7,58.4 244.8,58.9 245.2,59.6 C245.6,60.3 246.6,63.0 246.9,64.3 C247.2,65.6 247.6,69.6 248.0,71.0 C248.4,72.4 249.4,75.7 250.2,76.5 C251.0,77.3 253.9,78.0 254.7,77.6 C255.5,77.2 256.6,74.2 256.9,73.2 C257.2,72.2 256.6,69.5 256.9,68.8 C257.2,68.1 258.5,67.2 259.1,67.6 C259.7,68.0 261.9,70.7 262.4,72.1 C262.9,73.5 263.4,78.4 263.5,79.8 C263.6,81.2 264.0,83.5 263.5,84.3 C263.0,85.1 260.1,85.9 259.1,86.5 C258.1,87.1 255.6,88.9 254.7,89.8 C253.8,90.7 252.3,93.8 251.3,94.3 C250.3,94.8 247.0,94.4 245.8,94.3 C244.6,94.2 242.1,93.9 241.3,93.2 C240.5,92.5 239.4,89.9 239.1,88.7 C238.8,87.5 239.4,83.7 239.1,83.2 C238.8,82.7 237.4,83.4 236.9,84.3 C236.4,85.2 235.1,88.8 234.7,90.9 C234.3,93.0 234.0,99.9 233.6,102.0 C233.2,104.1 232.1,107.1 231.4,108.7 C230.7,110.3 228.9,114.3 228.0,115.3 C227.1,116.3 224.8,117.6 223.6,117.6 C222.4,117.6 219.2,116.1 218.0,115.3 C216.8,114.5 214.2,112.5 213.6,110.9 C213.0,109.3 212.9,103.6 212.5,102.0 C212.1,100.4 210.8,98.2 210.3,97.6 C209.8,97.0 208.6,96.0 208.1,96.5 C207.6,97.0 206.1,100.4 205.8,102.0 C205.5,103.6 206.2,108.4 205.8,109.8 C205.4,111.2 203.5,113.6 202.5,114.2 C201.5,114.8 198.3,115.4 197.0,115.3 C195.7,115.2 192.2,114.1 191.4,113.1 C190.6,112.1 190.0,107.7 190.3,106.5 C190.6,105.3 192.6,103.5 193.6,103.2 C194.6,102.9 198.3,104.7 199.2,104.3 C200.1,103.9 201.9,100.7 201.4,99.8 C200.9,98.9 196.3,97.0 194.7,96.5 C193.1,96.0 189.3,95.3 188.1,95.4 C186.9,95.5 185.8,97.0 184.8,97.6 C183.8,98.2 180.4,100.6 179.2,100.9 C178.0,101.2 175.4,100.4 174.8,99.8 C174.2,99.2 173.4,96.2 173.7,95.4 C174.0,94.6 175.6,93.3 177.0,93.2 C178.4,93.1 184.7,94.4 185.9,94.3 C187.1,94.2 187.8,92.6 187.0,92.1 C186.2,91.6 180.8,90.2 179.2,89.8 C177.6,89.4 174.5,89.1 173.7,88.7 C172.9,88.3 172.6,87.0 172.6,86.5 C172.6,86.0 172.9,84.8 173.7,84.3Z"/><path d="M214.7,84.3 C215.4,83.8 218.6,82.8 220.3,82.1 C222.0,81.4 227.7,78.8 229.1,78.7 C230.5,78.6 232.4,80.0 232.5,80.9 C232.6,81.8 231.0,85.2 230.2,86.5 C229.4,87.8 226.4,90.7 225.8,92.1 C225.2,93.5 224.7,97.5 224.7,98.7 C224.7,99.9 225.9,101.6 225.8,102.0 C225.7,102.4 224.2,102.5 223.6,102.0 C223.0,101.5 220.8,98.8 220.3,97.6 C219.8,96.4 219.7,93.0 219.2,92.1 C218.7,91.2 216.3,90.5 215.8,89.8 C215.3,89.1 214.8,87.1 214.7,86.5 C214.6,85.9 214.0,84.8 214.7,84.3Z"/><path d="M83.8,93.4 C84.2,93.0 86.8,92.5 87.7,92.7 C88.6,92.9 90.8,94.6 91.6,95.3 C92.4,96.0 93.5,98.0 94.3,98.6 C95.1,99.2 97.4,100.1 98.2,100.6 C99.0,101.1 100.6,102.4 100.8,103.2 C101.0,104.0 100.4,106.4 100.1,107.1 C99.8,107.8 98.7,109.0 98.2,109.0 C97.7,109.0 96.2,107.6 95.6,107.1 C95.0,106.6 93.8,105.4 93.0,105.1 C92.2,104.8 89.8,104.7 89.0,104.5 C88.2,104.3 86.9,103.7 86.4,103.2 C85.9,102.7 85.1,101.2 85.1,100.6 C85.1,100.0 86.5,98.4 86.4,97.9 C86.3,97.4 84.8,96.5 84.5,96.0 C84.2,95.5 83.4,93.8 83.8,93.4Z"/><path d="M104.0,115.6 C103.6,116.1 102.2,117.5 102.1,118.2 C102.0,118.9 103.4,120.6 103.4,121.4 C103.4,122.2 102.0,124.6 102.1,125.4 C102.2,126.2 104.0,127.4 104.0,128.0 C104.0,128.6 102.4,129.8 102.1,130.6 C101.8,131.4 101.6,133.6 101.4,134.5 C101.2,135.4 100.5,137.6 100.1,138.4 C99.7,139.2 98.6,140.4 98.2,141.0 C97.8,141.6 97.4,143.0 96.9,143.6 C96.4,144.2 94.2,145.9 94.3,146.2 C94.4,146.5 96.7,146.3 97.5,146.2 C98.3,146.1 99.8,145.4 100.8,145.6 C101.8,145.8 104.8,147.7 106.0,148.2 C107.2,148.7 110.0,149.4 111.2,149.5 C112.4,149.6 115.3,149.2 116.5,148.9 C117.7,148.6 120.9,147.4 121.7,146.9 C122.5,146.4 123.2,145.4 123.0,144.9 C122.8,144.4 121.2,142.9 120.4,142.3 C119.6,141.7 117.3,140.2 116.5,139.7 C115.7,139.2 114.2,139.0 113.8,138.4 C113.4,137.8 113.5,135.4 113.2,134.5 C112.9,133.6 111.7,131.4 111.2,130.6 C110.7,129.8 109.5,128.8 109.3,128.0 C109.1,127.2 109.7,125.0 109.9,124.0 C110.1,123.0 110.6,120.6 110.6,119.5 C110.6,118.4 109.8,115.7 109.9,114.9 C110.0,114.1 110.9,113.5 111.2,113.0 C111.5,112.5 112.7,110.8 112.5,110.3 C112.3,109.8 110.5,109.1 109.9,109.0 C109.3,108.9 107.8,109.4 107.3,109.7 C106.8,110.0 106.2,111.1 106.0,111.6 C105.8,112.1 105.6,113.7 105.4,114.2 C105.2,114.7 104.4,115.1 104.0,115.6Z"/><path d="M83.8,118.8 C84.2,118.5 86.6,117.9 87.7,117.5 C88.8,117.1 92.0,116.0 93.0,115.6 C94.0,115.2 95.7,114.1 96.2,114.3 C96.7,114.5 97.1,116.4 96.9,116.9 C96.7,117.4 95.1,118.5 94.3,118.8 C93.5,119.1 91.2,119.3 90.3,119.5 C89.4,119.7 87.1,120.1 86.4,120.1 C85.7,120.1 84.8,120.1 84.5,119.9 C84.2,119.7 83.4,119.1 83.8,118.8Z"/><path d="M117.8,118.2 C117.8,117.7 118.2,115.3 119.0,114.3 C119.8,113.3 123.1,110.8 124.3,109.7 C125.5,108.6 128.3,106.1 129.5,105.1 C130.7,104.1 133.3,102.0 134.7,101.2 C136.1,100.4 139.9,98.7 141.3,97.9 C142.7,97.1 145.1,95.2 146.5,94.7 C147.9,94.2 151.9,93.3 153.0,93.4 C154.1,93.5 155.4,94.6 155.6,95.3 C155.8,96.0 154.8,98.3 154.3,99.2 C153.8,100.1 151.5,102.1 151.0,103.2 C150.5,104.3 150.6,107.3 150.4,108.4 C150.2,109.5 149.6,111.5 149.1,112.3 C148.6,113.1 146.6,114.5 145.8,114.9 C145.0,115.3 143.4,115.7 142.6,115.6 C141.8,115.5 139.5,114.5 138.6,114.3 C137.7,114.1 135.6,114.4 134.7,114.3 C133.8,114.2 131.7,114.0 130.8,113.6 C129.9,113.2 127.7,111.2 126.9,111.0 C126.1,110.8 124.8,111.2 124.3,111.6 C123.8,112.0 123.3,113.7 123.0,114.3 C122.7,114.9 122.2,116.4 121.7,116.9 C121.2,117.4 119.5,118.0 119.0,118.2 C118.5,118.4 117.8,118.7 117.8,118.2Z"/><path d="M121.7,117.5 C122.2,117.0 124.5,116.4 125.6,116.2 C126.7,116.0 129.6,116.0 130.8,116.2 C132.0,116.4 134.9,117.5 136.0,118.2 C137.1,118.9 139.8,121.1 140.6,122.1 C141.4,123.1 142.5,125.7 142.6,126.7 C142.7,127.7 141.9,130.0 141.3,130.6 C140.7,131.2 138.2,131.8 137.3,131.9 C136.4,132.0 134.2,131.6 133.4,131.2 C132.6,130.8 131.1,129.1 130.2,128.6 C129.3,128.1 126.4,127.2 125.6,126.7 C124.8,126.2 123.5,124.7 123.0,124.0 C122.5,123.3 121.9,121.6 121.7,120.8 C121.5,120.0 121.2,118.0 121.7,117.5Z"/><path d="M43.2,118.7 C43.6,118.2 45.6,117.5 46.5,117.6 C47.4,117.7 50.4,119.0 51.0,119.8 C51.6,120.6 51.9,123.6 51.6,124.3 C51.3,125.0 49.7,125.4 48.8,125.4 C47.9,125.4 45.0,124.7 44.3,124.3 C43.6,123.9 42.9,122.7 42.8,122.0 C42.7,121.3 42.8,119.2 43.2,118.7Z"/><path d="M46.5,126.5 C47.1,126.2 50.3,126.7 51.0,127.1 C51.7,127.5 52.8,129.2 52.8,129.8 C52.8,130.4 51.6,132.2 51.0,132.5 C50.4,132.8 48.2,132.4 47.6,132.0 C47.0,131.6 46.2,130.0 46.1,129.4 C46.0,128.8 45.9,126.8 46.5,126.5Z"/><path d="M71.0,119.6 C71.4,118.8 74.4,117.8 75.4,117.6 C76.4,117.4 78.8,117.7 79.2,118.3 C79.6,118.9 79.1,122.3 78.7,123.1 C78.3,123.9 76.2,124.8 75.4,124.9 C74.6,125.0 72.6,124.9 72.1,124.3 C71.6,123.7 70.6,120.4 71.0,119.6Z"/><path d="M228.3,12.8 C227.7,13.1 228.6,15.0 229.2,15.5 C229.8,16.0 233.0,16.9 233.7,17.4 C234.4,17.9 235.0,19.5 235.6,20.1 C236.2,20.7 238.5,22.2 239.2,22.9 C239.9,23.6 241.4,26.0 242.0,26.5 C242.6,27.0 244.3,27.6 244.7,27.4 C245.1,27.2 245.8,25.3 245.6,24.7 C245.4,24.1 243.4,22.5 242.9,21.9 C242.4,21.3 241.4,19.8 241.1,19.2 C240.8,18.6 240.6,16.8 240.1,16.5 C239.6,16.2 237.2,16.7 236.5,16.5 C235.8,16.3 233.9,15.0 233.7,14.6 C233.5,14.2 235.2,13.0 234.6,12.8 C234.0,12.6 228.9,12.5 228.3,12.8Z"/><ellipse cx="165" cy="97" rx="2.5" ry="2"/><ellipse cx="263.9" cy="37.9" rx="2.7" ry="3.2"/><ellipse cx="150.3" cy="53.3" rx="1.7" ry="2.8"/><ellipse cx="261.8" cy="104.8" rx="1.7" ry="1.7"/><ellipse cx="280.2" cy="105.4" rx="2.2" ry="3.4"/><ellipse cx="269.6" cy="122" rx="1.7" ry="1.1"/><g stroke-dasharray="2.6 1.8"><path d="M83.0,12.5 C83.3,13.6 84.5,19.9 85.4,21.7 C86.3,23.5 89.4,27.0 91.0,28.3 C92.6,29.6 96.6,32.7 98.7,32.8 C100.8,32.9 107.0,29.3 108.7,29.4 C110.4,29.5 111.9,34.0 113.2,33.9 C114.5,33.8 118.0,29.2 119.8,28.3 C121.6,27.4 126.4,26.7 128.7,26.1 C131.0,25.5 137.5,22.8 139.8,22.8 C142.1,22.8 146.6,25.8 148.7,26.1 C150.8,26.4 155.7,25.5 157.5,25.0 C159.3,24.5 163.2,22.7 164.2,21.7 C165.2,20.7 166.1,17.2 166.4,16.1 C166.7,15.0 166.4,12.9 166.4,12.5"/><path d="M179.7,12.5 C179.7,13.0 179.8,15.6 179.7,17.2 C179.6,18.8 178.3,24.3 178.6,26.1 C178.9,27.9 180.7,32.1 181.9,32.8 C183.1,33.5 187.7,32.7 188.6,31.7 C189.5,30.7 189.8,26.1 189.7,23.9 C189.6,21.7 188.3,13.8 188.1,12.5"/><path d="M112.0,43.9 C112.5,43.8 116.2,48.2 117.6,49.4 C119.0,50.6 122.6,53.1 124.2,53.8 C125.8,54.5 129.6,54.6 130.9,55.0 C132.2,55.4 134.5,56.5 135.3,57.2 C136.1,57.9 138.3,60.4 138.0,61.0 C137.7,61.6 134.2,62.5 133.1,62.5 C132.0,62.5 129.8,61.5 128.7,61.0 C127.6,60.5 125.2,58.6 124.0,58.0 C122.8,57.4 119.3,56.9 118.0,56.0 C116.7,55.1 113.7,51.4 113.0,50.0 C112.3,48.6 111.5,44.0 112.0,43.9Z"/><path d="M62.0,60.0 C62.6,59.2 64.7,58.0 66.0,58.5 C67.3,59.0 71.3,63.7 73.2,64.5 C75.1,65.3 80.0,64.8 82.1,65.0 C84.2,65.2 88.9,66.6 91.0,66.3 C93.1,66.0 98.0,63.3 99.8,62.8 C101.6,62.3 104.8,62.2 106.5,62.2 C108.2,62.2 112.5,62.4 114.0,63.0 C115.5,63.6 118.7,66.0 119.0,67.0 C119.3,68.0 118.3,71.2 117.0,72.0 C115.7,72.8 110.0,73.3 108.0,74.0 C106.0,74.7 101.0,76.7 100.0,78.0 C99.0,79.3 98.1,83.8 99.0,85.0 C99.9,86.2 105.3,87.4 108.0,88.0 C110.7,88.6 119.4,89.5 122.0,90.0 C124.6,90.5 129.3,91.3 130.0,92.0 C130.7,92.7 129.4,95.4 128.0,96.0 C126.6,96.6 120.8,96.9 118.0,97.0 C115.2,97.1 106.6,97.0 104.0,96.5 C101.4,96.0 97.6,94.2 96.0,93.0 C94.4,91.8 91.5,87.5 90.0,86.0 C88.5,84.5 85.1,81.2 83.0,80.0 C80.9,78.8 74.3,77.0 72.0,76.0 C69.7,75.0 64.3,72.3 63.0,71.0 C61.7,69.7 61.1,66.3 61.0,65.0 C60.9,63.7 61.4,60.8 62.0,60.0Z"/><path d="M47.5,52.5 C48.0,51.8 51.7,51.5 53.0,51.5 C54.3,51.5 57.7,52.0 58.5,52.5 C59.3,53.0 59.9,55.4 59.5,56.0 C59.1,56.6 56.3,57.8 55.0,58.0 C53.7,58.2 49.4,58.1 48.5,57.5 C47.6,56.9 47.0,53.2 47.5,52.5Z"/><path d="M160.0,42.0 C160.9,40.6 164.4,38.4 166.0,38.0 C167.6,37.6 172.8,38.1 174.0,39.0 C175.2,39.9 176.5,44.2 176.5,46.0 C176.5,47.8 175.2,52.5 174.0,54.0 C172.8,55.5 167.6,58.1 166.0,58.5 C164.4,58.9 160.9,58.0 160.0,57.0 C159.1,56.0 158.5,51.8 158.5,50.0 C158.5,48.2 159.1,43.4 160.0,42.0Z"/><path d="M178.0,58.0 C179.4,57.1 187.0,56.6 190.0,56.5 C193.0,56.4 201.2,57.1 204.0,57.5 C206.8,57.9 213.1,59.1 214.0,60.0 C214.9,60.9 213.6,64.6 212.0,65.5 C210.4,66.4 203.0,67.3 200.0,67.5 C197.0,67.7 188.6,67.4 186.0,67.0 C183.4,66.6 178.9,65.0 178.0,64.0 C177.1,63.0 176.6,58.9 178.0,58.0Z"/></g></g></g></g>
<clipPath id="cp2"><rect x="30.4" y="237.0" width="271.1" height="152.2"/></clipPath>
<g clip-path="url(#cp2)"><g transform="translate(0.0 224.2)"><rect x="30.4" y="13.0" width="271.1" height="152.5" fill="#fff" filter="url(#nzW)"/>
<path d="M60.0,13.0 C72.5,10.8 121.7,10.8 135.0,13.0 C148.3,15.2 142.5,22.5 140.0,26.0 C137.5,29.5 129.2,32.3 120.0,34.0 C110.8,35.7 95.0,37.3 85.0,36.0 C75.0,34.7 64.2,29.8 60.0,26.0 C55.8,22.2 47.5,15.2 60.0,13.0Z" fill="#dce0fa" filter="url(#b4)" opacity="0.8"/>
<path d="M78.0,64.0 C83.0,59.3 99.7,61.7 110.0,62.0 C120.3,62.3 131.7,64.3 140.0,66.0 C148.3,67.7 156.3,68.0 160.0,72.0 C163.7,76.0 163.7,85.3 162.0,90.0 C160.3,94.7 157.0,97.7 150.0,100.0 C143.0,102.3 129.2,103.7 120.0,104.0 C110.8,104.3 101.7,104.3 95.0,102.0 C88.3,99.7 82.8,96.3 80.0,90.0 C77.2,83.7 73.0,68.7 78.0,64.0Z" fill="#d2d8fa" filter="url(#b4)"/>
<path d="M64.0,58.0 C68.0,56.7 83.2,58.0 90.0,60.0 C96.8,62.0 103.3,66.3 105.0,70.0 C106.7,73.7 104.2,81.0 100.0,82.0 C95.8,83.0 85.7,78.3 80.0,76.0 C74.3,73.7 68.7,71.0 66.0,68.0 C63.3,65.0 60.0,59.3 64.0,58.0Z" fill="#c0c8f6" filter="url(#b3)" opacity="0.8"/>
<path d="M96.0,86.0 C97.7,84.0 103.7,83.7 108.0,84.0 C112.3,84.3 118.8,86.0 122.0,88.0 C125.2,90.0 127.7,93.7 127.0,96.0 C126.3,98.3 121.8,101.0 118.0,102.0 C114.2,103.0 107.3,103.0 104.0,102.0 C100.7,101.0 99.3,98.7 98.0,96.0 C96.7,93.3 94.3,88.0 96.0,86.0Z" fill="#5060e8" filter="url(#b2)" opacity="0.85"/>
<path d="M176.0,65.0 C179.3,63.2 193.0,63.8 200.0,64.0 C207.0,64.2 214.8,64.5 218.0,66.0 C221.2,67.5 222.0,71.7 219.0,73.0 C216.0,74.3 206.5,73.7 200.0,74.0 C193.5,74.3 184.0,76.5 180.0,75.0 C176.0,73.5 172.7,66.8 176.0,65.0Z" fill="#b0baf4" filter="url(#b2)"/>
<path d="M192.0,66.0 C194.5,65.5 204.5,65.5 207.0,66.0 C209.5,66.5 209.5,68.5 207.0,69.0 C204.5,69.5 194.5,69.5 192.0,69.0 C189.5,68.5 189.5,66.5 192.0,66.0Z" fill="#4050e8" filter="url(#b1)"/>
<path d="M179.0,74.0 C180.2,73.3 184.8,73.3 186.0,74.0 C187.2,74.7 187.2,77.3 186.0,78.0 C184.8,78.7 180.2,78.7 179.0,78.0 C177.8,77.3 177.8,74.7 179.0,74.0Z" fill="#4050e8" filter="url(#b1)" opacity="0.8"/>
<path d="M228.0,59.0 C229.8,56.8 240.3,57.2 243.0,59.0 C245.7,60.8 245.8,67.8 244.0,70.0 C242.2,72.2 234.7,73.8 232.0,72.0 C229.3,70.2 226.2,61.2 228.0,59.0Z" fill="#f8cccc" filter="url(#b2)"/>
<path d="M158.5,48.5 C159.8,47.2 164.8,47.2 166.0,48.5 C167.2,49.8 167.2,54.8 166.0,56.0 C164.8,57.2 159.8,57.2 158.5,56.0 C157.2,54.8 157.2,49.8 158.5,48.5Z" fill="#3848e8" filter="url(#b1)"/>
<path d="M167.0,43.0 C168.8,41.7 176.2,41.7 178.0,43.0 C179.8,44.3 179.8,49.7 178.0,51.0 C176.2,52.3 168.8,52.3 167.0,51.0 C165.2,49.7 165.2,44.3 167.0,43.0Z" fill="#8a96f0" filter="url(#b2)"/>
<path d="M152.0,18.0 C152.8,16.5 156.2,16.5 157.0,18.0 C157.8,19.5 157.8,25.5 157.0,27.0 C156.2,28.5 152.8,28.5 152.0,27.0 C151.2,25.5 151.2,19.5 152.0,18.0Z" fill="#f4b0b0" filter="url(#b2)"/>
<path d="M157.0,18.5 C158.0,17.2 162.0,17.2 163.0,18.5 C164.0,19.8 164.0,25.2 163.0,26.5 C162.0,27.8 158.0,27.8 157.0,26.5 C156.0,25.2 156.0,19.8 157.0,18.5Z" fill="#2030f0" filter="url(#b1)"/>
<path d="M179.6,80.1 C181.8,80.2 188.2,81.1 192.6,80.9 C196.9,80.8 202.2,79.8 205.7,79.2 C209.2,78.7 210.5,78.3 213.8,77.6 C217.1,76.9 222.0,76.2 225.3,75.2 C228.6,74.2 231.0,73.0 233.4,71.9 C235.8,70.8 238.8,69.1 239.9,68.6" fill="none" stroke="#e42020" stroke-width="1.7"/>
<path d="M228.5,59.0 C229.8,59.2 233.3,59.5 236.0,60.0 C238.7,60.5 243.0,60.7 244.8,62.0 C246.6,63.3 246.2,65.8 247.0,68.0 C247.8,70.2 249.2,73.8 249.7,75.0" fill="none" stroke="#e43030" stroke-width="1.3" opacity="0.8"/>
<path d="M242.0,59.0 C242.3,59.8 243.4,62.2 244.0,64.0 C244.6,65.8 245.2,69.0 245.5,70.0" fill="none" stroke="#2030e0" stroke-width="1.6" opacity="0.9"/>
<path d="M113.8,112.2 C115.7,111.2 121.1,108.2 125.0,106.0 C128.9,103.8 132.9,101.2 137.0,99.0 C141.1,96.8 147.6,93.6 149.7,92.5" fill="none" stroke="#e86060" stroke-width="1.2" opacity="0.7"/>
<ellipse cx="152" cy="90" rx="2.5" ry="2" fill="#e82020" filter="url(#b1)"/>
<path d="M30.0,13.0 C75.3,-12.5 256.7,-12.5 302.0,13.0 C347.3,38.5 347.3,140.5 302.0,166.0 C256.7,191.5 75.3,191.5 30.0,166.0 C-15.3,140.5 -15.3,38.5 30.0,13.0Z" fill="url(#dot)" opacity="0.45"/>
<path d="M57.0,53.0 L120.0,50.0 L170.0,55.0 L262.0,58.0 L262.0,100.0 L200.0,105.0 L163.0,115.0 L100.0,118.0 L57.0,110.0Z" fill="url(#arwD)" opacity="0.5"/>
<g transform="translate(0.0 0.0)" fill="none" stroke="#1a1a1a" stroke-width="0.85" opacity="1"><path d="M173.7,84.3 C174.5,83.8 177.5,82.5 179.2,82.1 C180.9,81.7 185.8,81.4 188.1,81.0 C190.4,80.6 196.6,79.2 199.2,78.7 C201.8,78.2 207.7,77.0 210.3,76.5 C212.9,76.0 218.8,74.8 221.4,74.3 C224.0,73.8 230.4,72.6 232.5,72.1 C234.6,71.6 237.9,70.6 239.1,69.9 C240.3,69.2 242.6,67.5 243.0,66.5 C243.4,65.5 242.8,61.9 242.8,61.0 C242.8,60.1 243.1,58.8 243.4,58.6 C243.7,58.4 244.8,58.9 245.2,59.6 C245.6,60.3 246.6,63.0 246.9,64.3 C247.2,65.6 247.6,69.6 248.0,71.0 C248.4,72.4 249.4,75.7 250.2,76.5 C251.0,77.3 253.9,78.0 254.7,77.6 C255.5,77.2 256.6,74.2 256.9,73.2 C257.2,72.2 256.6,69.5 256.9,68.8 C257.2,68.1 258.5,67.2 259.1,67.6 C259.7,68.0 261.9,70.7 262.4,72.1 C262.9,73.5 263.4,78.4 263.5,79.8 C263.6,81.2 264.0,83.5 263.5,84.3 C263.0,85.1 260.1,85.9 259.1,86.5 C258.1,87.1 255.6,88.9 254.7,89.8 C253.8,90.7 252.3,93.8 251.3,94.3 C250.3,94.8 247.0,94.4 245.8,94.3 C244.6,94.2 242.1,93.9 241.3,93.2 C240.5,92.5 239.4,89.9 239.1,88.7 C238.8,87.5 239.4,83.7 239.1,83.2 C238.8,82.7 237.4,83.4 236.9,84.3 C236.4,85.2 235.1,88.8 234.7,90.9 C234.3,93.0 234.0,99.9 233.6,102.0 C233.2,104.1 232.1,107.1 231.4,108.7 C230.7,110.3 228.9,114.3 228.0,115.3 C227.1,116.3 224.8,117.6 223.6,117.6 C222.4,117.6 219.2,116.1 218.0,115.3 C216.8,114.5 214.2,112.5 213.6,110.9 C213.0,109.3 212.9,103.6 212.5,102.0 C212.1,100.4 210.8,98.2 210.3,97.6 C209.8,97.0 208.6,96.0 208.1,96.5 C207.6,97.0 206.1,100.4 205.8,102.0 C205.5,103.6 206.2,108.4 205.8,109.8 C205.4,111.2 203.5,113.6 202.5,114.2 C201.5,114.8 198.3,115.4 197.0,115.3 C195.7,115.2 192.2,114.1 191.4,113.1 C190.6,112.1 190.0,107.7 190.3,106.5 C190.6,105.3 192.6,103.5 193.6,103.2 C194.6,102.9 198.3,104.7 199.2,104.3 C200.1,103.9 201.9,100.7 201.4,99.8 C200.9,98.9 196.3,97.0 194.7,96.5 C193.1,96.0 189.3,95.3 188.1,95.4 C186.9,95.5 185.8,97.0 184.8,97.6 C183.8,98.2 180.4,100.6 179.2,100.9 C178.0,101.2 175.4,100.4 174.8,99.8 C174.2,99.2 173.4,96.2 173.7,95.4 C174.0,94.6 175.6,93.3 177.0,93.2 C178.4,93.1 184.7,94.4 185.9,94.3 C187.1,94.2 187.8,92.6 187.0,92.1 C186.2,91.6 180.8,90.2 179.2,89.8 C177.6,89.4 174.5,89.1 173.7,88.7 C172.9,88.3 172.6,87.0 172.6,86.5 C172.6,86.0 172.9,84.8 173.7,84.3Z"/><path d="M214.7,84.3 C215.4,83.8 218.6,82.8 220.3,82.1 C222.0,81.4 227.7,78.8 229.1,78.7 C230.5,78.6 232.4,80.0 232.5,80.9 C232.6,81.8 231.0,85.2 230.2,86.5 C229.4,87.8 226.4,90.7 225.8,92.1 C225.2,93.5 224.7,97.5 224.7,98.7 C224.7,99.9 225.9,101.6 225.8,102.0 C225.7,102.4 224.2,102.5 223.6,102.0 C223.0,101.5 220.8,98.8 220.3,97.6 C219.8,96.4 219.7,93.0 219.2,92.1 C218.7,91.2 216.3,90.5 215.8,89.8 C215.3,89.1 214.8,87.1 214.7,86.5 C214.6,85.9 214.0,84.8 214.7,84.3Z"/><path d="M83.8,93.4 C84.2,93.0 86.8,92.5 87.7,92.7 C88.6,92.9 90.8,94.6 91.6,95.3 C92.4,96.0 93.5,98.0 94.3,98.6 C95.1,99.2 97.4,100.1 98.2,100.6 C99.0,101.1 100.6,102.4 100.8,103.2 C101.0,104.0 100.4,106.4 100.1,107.1 C99.8,107.8 98.7,109.0 98.2,109.0 C97.7,109.0 96.2,107.6 95.6,107.1 C95.0,106.6 93.8,105.4 93.0,105.1 C92.2,104.8 89.8,104.7 89.0,104.5 C88.2,104.3 86.9,103.7 86.4,103.2 C85.9,102.7 85.1,101.2 85.1,100.6 C85.1,100.0 86.5,98.4 86.4,97.9 C86.3,97.4 84.8,96.5 84.5,96.0 C84.2,95.5 83.4,93.8 83.8,93.4Z"/><path d="M104.0,115.6 C103.6,116.1 102.2,117.5 102.1,118.2 C102.0,118.9 103.4,120.6 103.4,121.4 C103.4,122.2 102.0,124.6 102.1,125.4 C102.2,126.2 104.0,127.4 104.0,128.0 C104.0,128.6 102.4,129.8 102.1,130.6 C101.8,131.4 101.6,133.6 101.4,134.5 C101.2,135.4 100.5,137.6 100.1,138.4 C99.7,139.2 98.6,140.4 98.2,141.0 C97.8,141.6 97.4,143.0 96.9,143.6 C96.4,144.2 94.2,145.9 94.3,146.2 C94.4,146.5 96.7,146.3 97.5,146.2 C98.3,146.1 99.8,145.4 100.8,145.6 C101.8,145.8 104.8,147.7 106.0,148.2 C107.2,148.7 110.0,149.4 111.2,149.5 C112.4,149.6 115.3,149.2 116.5,148.9 C117.7,148.6 120.9,147.4 121.7,146.9 C122.5,146.4 123.2,145.4 123.0,144.9 C122.8,144.4 121.2,142.9 120.4,142.3 C119.6,141.7 117.3,140.2 116.5,139.7 C115.7,139.2 114.2,139.0 113.8,138.4 C113.4,137.8 113.5,135.4 113.2,134.5 C112.9,133.6 111.7,131.4 111.2,130.6 C110.7,129.8 109.5,128.8 109.3,128.0 C109.1,127.2 109.7,125.0 109.9,124.0 C110.1,123.0 110.6,120.6 110.6,119.5 C110.6,118.4 109.8,115.7 109.9,114.9 C110.0,114.1 110.9,113.5 111.2,113.0 C111.5,112.5 112.7,110.8 112.5,110.3 C112.3,109.8 110.5,109.1 109.9,109.0 C109.3,108.9 107.8,109.4 107.3,109.7 C106.8,110.0 106.2,111.1 106.0,111.6 C105.8,112.1 105.6,113.7 105.4,114.2 C105.2,114.7 104.4,115.1 104.0,115.6Z"/><path d="M83.8,118.8 C84.2,118.5 86.6,117.9 87.7,117.5 C88.8,117.1 92.0,116.0 93.0,115.6 C94.0,115.2 95.7,114.1 96.2,114.3 C96.7,114.5 97.1,116.4 96.9,116.9 C96.7,117.4 95.1,118.5 94.3,118.8 C93.5,119.1 91.2,119.3 90.3,119.5 C89.4,119.7 87.1,120.1 86.4,120.1 C85.7,120.1 84.8,120.1 84.5,119.9 C84.2,119.7 83.4,119.1 83.8,118.8Z"/><path d="M117.8,118.2 C117.8,117.7 118.2,115.3 119.0,114.3 C119.8,113.3 123.1,110.8 124.3,109.7 C125.5,108.6 128.3,106.1 129.5,105.1 C130.7,104.1 133.3,102.0 134.7,101.2 C136.1,100.4 139.9,98.7 141.3,97.9 C142.7,97.1 145.1,95.2 146.5,94.7 C147.9,94.2 151.9,93.3 153.0,93.4 C154.1,93.5 155.4,94.6 155.6,95.3 C155.8,96.0 154.8,98.3 154.3,99.2 C153.8,100.1 151.5,102.1 151.0,103.2 C150.5,104.3 150.6,107.3 150.4,108.4 C150.2,109.5 149.6,111.5 149.1,112.3 C148.6,113.1 146.6,114.5 145.8,114.9 C145.0,115.3 143.4,115.7 142.6,115.6 C141.8,115.5 139.5,114.5 138.6,114.3 C137.7,114.1 135.6,114.4 134.7,114.3 C133.8,114.2 131.7,114.0 130.8,113.6 C129.9,113.2 127.7,111.2 126.9,111.0 C126.1,110.8 124.8,111.2 124.3,111.6 C123.8,112.0 123.3,113.7 123.0,114.3 C122.7,114.9 122.2,116.4 121.7,116.9 C121.2,117.4 119.5,118.0 119.0,118.2 C118.5,118.4 117.8,118.7 117.8,118.2Z"/><path d="M121.7,117.5 C122.2,117.0 124.5,116.4 125.6,116.2 C126.7,116.0 129.6,116.0 130.8,116.2 C132.0,116.4 134.9,117.5 136.0,118.2 C137.1,118.9 139.8,121.1 140.6,122.1 C141.4,123.1 142.5,125.7 142.6,126.7 C142.7,127.7 141.9,130.0 141.3,130.6 C140.7,131.2 138.2,131.8 137.3,131.9 C136.4,132.0 134.2,131.6 133.4,131.2 C132.6,130.8 131.1,129.1 130.2,128.6 C129.3,128.1 126.4,127.2 125.6,126.7 C124.8,126.2 123.5,124.7 123.0,124.0 C122.5,123.3 121.9,121.6 121.7,120.8 C121.5,120.0 121.2,118.0 121.7,117.5Z"/><path d="M43.2,118.7 C43.6,118.2 45.6,117.5 46.5,117.6 C47.4,117.7 50.4,119.0 51.0,119.8 C51.6,120.6 51.9,123.6 51.6,124.3 C51.3,125.0 49.7,125.4 48.8,125.4 C47.9,125.4 45.0,124.7 44.3,124.3 C43.6,123.9 42.9,122.7 42.8,122.0 C42.7,121.3 42.8,119.2 43.2,118.7Z"/><path d="M46.5,126.5 C47.1,126.2 50.3,126.7 51.0,127.1 C51.7,127.5 52.8,129.2 52.8,129.8 C52.8,130.4 51.6,132.2 51.0,132.5 C50.4,132.8 48.2,132.4 47.6,132.0 C47.0,131.6 46.2,130.0 46.1,129.4 C46.0,128.8 45.9,126.8 46.5,126.5Z"/><path d="M71.0,119.6 C71.4,118.8 74.4,117.8 75.4,117.6 C76.4,117.4 78.8,117.7 79.2,118.3 C79.6,118.9 79.1,122.3 78.7,123.1 C78.3,123.9 76.2,124.8 75.4,124.9 C74.6,125.0 72.6,124.9 72.1,124.3 C71.6,123.7 70.6,120.4 71.0,119.6Z"/><path d="M228.3,12.8 C227.7,13.1 228.6,15.0 229.2,15.5 C229.8,16.0 233.0,16.9 233.7,17.4 C234.4,17.9 235.0,19.5 235.6,20.1 C236.2,20.7 238.5,22.2 239.2,22.9 C239.9,23.6 241.4,26.0 242.0,26.5 C242.6,27.0 244.3,27.6 244.7,27.4 C245.1,27.2 245.8,25.3 245.6,24.7 C245.4,24.1 243.4,22.5 242.9,21.9 C242.4,21.3 241.4,19.8 241.1,19.2 C240.8,18.6 240.6,16.8 240.1,16.5 C239.6,16.2 237.2,16.7 236.5,16.5 C235.8,16.3 233.9,15.0 233.7,14.6 C233.5,14.2 235.2,13.0 234.6,12.8 C234.0,12.6 228.9,12.5 228.3,12.8Z"/><ellipse cx="165" cy="97" rx="2.5" ry="2"/><ellipse cx="263.9" cy="37.9" rx="2.7" ry="3.2"/><ellipse cx="150.3" cy="53.3" rx="1.7" ry="2.8"/><ellipse cx="261.8" cy="104.8" rx="1.7" ry="1.7"/><ellipse cx="280.2" cy="105.4" rx="2.2" ry="3.4"/><ellipse cx="269.6" cy="122" rx="1.7" ry="1.1"/><g stroke-dasharray="2.6 1.8"><path d="M83.0,12.5 C83.3,13.6 84.5,19.9 85.4,21.7 C86.3,23.5 89.4,27.0 91.0,28.3 C92.6,29.6 96.6,32.7 98.7,32.8 C100.8,32.9 107.0,29.3 108.7,29.4 C110.4,29.5 111.9,34.0 113.2,33.9 C114.5,33.8 118.0,29.2 119.8,28.3 C121.6,27.4 126.4,26.7 128.7,26.1 C131.0,25.5 137.5,22.8 139.8,22.8 C142.1,22.8 146.6,25.8 148.7,26.1 C150.8,26.4 155.7,25.5 157.5,25.0 C159.3,24.5 163.2,22.7 164.2,21.7 C165.2,20.7 166.1,17.2 166.4,16.1 C166.7,15.0 166.4,12.9 166.4,12.5"/><path d="M179.7,12.5 C179.7,13.0 179.8,15.6 179.7,17.2 C179.6,18.8 178.3,24.3 178.6,26.1 C178.9,27.9 180.7,32.1 181.9,32.8 C183.1,33.5 187.7,32.7 188.6,31.7 C189.5,30.7 189.8,26.1 189.7,23.9 C189.6,21.7 188.3,13.8 188.1,12.5"/><path d="M112.0,43.9 C112.5,43.8 116.2,48.2 117.6,49.4 C119.0,50.6 122.6,53.1 124.2,53.8 C125.8,54.5 129.6,54.6 130.9,55.0 C132.2,55.4 134.5,56.5 135.3,57.2 C136.1,57.9 138.3,60.4 138.0,61.0 C137.7,61.6 134.2,62.5 133.1,62.5 C132.0,62.5 129.8,61.5 128.7,61.0 C127.6,60.5 125.2,58.6 124.0,58.0 C122.8,57.4 119.3,56.9 118.0,56.0 C116.7,55.1 113.7,51.4 113.0,50.0 C112.3,48.6 111.5,44.0 112.0,43.9Z"/><path d="M62.0,60.0 C62.6,59.2 64.7,58.0 66.0,58.5 C67.3,59.0 71.3,63.7 73.2,64.5 C75.1,65.3 80.0,64.8 82.1,65.0 C84.2,65.2 88.9,66.6 91.0,66.3 C93.1,66.0 98.0,63.3 99.8,62.8 C101.6,62.3 104.8,62.2 106.5,62.2 C108.2,62.2 112.5,62.4 114.0,63.0 C115.5,63.6 118.7,66.0 119.0,67.0 C119.3,68.0 118.3,71.2 117.0,72.0 C115.7,72.8 110.0,73.3 108.0,74.0 C106.0,74.7 101.0,76.7 100.0,78.0 C99.0,79.3 98.1,83.8 99.0,85.0 C99.9,86.2 105.3,87.4 108.0,88.0 C110.7,88.6 119.4,89.5 122.0,90.0 C124.6,90.5 129.3,91.3 130.0,92.0 C130.7,92.7 129.4,95.4 128.0,96.0 C126.6,96.6 120.8,96.9 118.0,97.0 C115.2,97.1 106.6,97.0 104.0,96.5 C101.4,96.0 97.6,94.2 96.0,93.0 C94.4,91.8 91.5,87.5 90.0,86.0 C88.5,84.5 85.1,81.2 83.0,80.0 C80.9,78.8 74.3,77.0 72.0,76.0 C69.7,75.0 64.3,72.3 63.0,71.0 C61.7,69.7 61.1,66.3 61.0,65.0 C60.9,63.7 61.4,60.8 62.0,60.0Z"/><path d="M47.5,52.5 C48.0,51.8 51.7,51.5 53.0,51.5 C54.3,51.5 57.7,52.0 58.5,52.5 C59.3,53.0 59.9,55.4 59.5,56.0 C59.1,56.6 56.3,57.8 55.0,58.0 C53.7,58.2 49.4,58.1 48.5,57.5 C47.6,56.9 47.0,53.2 47.5,52.5Z"/><path d="M160.0,42.0 C160.9,40.6 164.4,38.4 166.0,38.0 C167.6,37.6 172.8,38.1 174.0,39.0 C175.2,39.9 176.5,44.2 176.5,46.0 C176.5,47.8 175.2,52.5 174.0,54.0 C172.8,55.5 167.6,58.1 166.0,58.5 C164.4,58.9 160.9,58.0 160.0,57.0 C159.1,56.0 158.5,51.8 158.5,50.0 C158.5,48.2 159.1,43.4 160.0,42.0Z"/><path d="M178.0,58.0 C179.4,57.1 187.0,56.6 190.0,56.5 C193.0,56.4 201.2,57.1 204.0,57.5 C206.8,57.9 213.1,59.1 214.0,60.0 C214.9,60.9 213.6,64.6 212.0,65.5 C210.4,66.4 203.0,67.3 200.0,67.5 C197.0,67.7 188.6,67.4 186.0,67.0 C183.4,66.6 178.9,65.0 178.0,64.0 C177.1,63.0 176.6,58.9 178.0,58.0Z"/></g></g></g></g>
<clipPath id="cp3"><rect x="340.5" y="237.0" width="271.1" height="152.2"/></clipPath>
<g clip-path="url(#cp3)"><g transform="translate(310.1 224.2)"><rect x="30.4" y="13.0" width="271.1" height="152.5" fill="#fff" filter="url(#nzB)"/>
<path d="M172.0,78.0 C178.7,73.8 188.7,76.3 200.0,75.0 C211.3,73.7 229.7,69.8 240.0,70.0 C250.3,70.2 257.7,71.0 262.0,76.0 C266.3,81.0 266.7,93.0 266.0,100.0 C265.3,107.0 262.3,114.0 258.0,118.0 C253.7,122.0 248.0,123.0 240.0,124.0 C232.0,125.0 220.0,123.7 210.0,124.0 C200.0,124.3 187.5,127.0 180.0,126.0 C172.5,125.0 168.3,122.3 165.0,118.0 C161.7,113.7 158.8,106.7 160.0,100.0 C161.2,93.3 165.3,82.2 172.0,78.0Z" fill="#bcc6f6" filter="url(#b3)" opacity="0.8075"/>
<path d="M100.0,112.0 C108.0,107.7 128.0,105.3 140.0,104.0 C152.0,102.7 166.7,100.5 172.0,104.0 C177.3,107.5 174.0,118.2 172.0,125.0 C170.0,131.8 167.0,139.5 160.0,145.0 C153.0,150.5 140.0,155.8 130.0,158.0 C120.0,160.2 106.3,162.7 100.0,158.0 C93.7,153.3 92.0,137.7 92.0,130.0 C92.0,122.3 92.0,116.3 100.0,112.0Z" fill="#d4daf8" filter="url(#b5)" opacity="0.765"/>
<path d="M30.0,110.0 C38.3,102.3 69.2,114.2 80.0,120.0 C90.8,125.8 95.0,137.3 95.0,145.0 C95.0,152.7 90.8,162.5 80.0,166.0 C69.2,169.5 38.3,175.3 30.0,166.0 C21.7,156.7 21.7,117.7 30.0,110.0Z" fill="#e6e9fb" filter="url(#b5)" opacity="0.6"/>
<path d="M55.0,54.0 C59.2,53.2 72.5,56.3 80.0,57.0 C87.5,57.7 97.5,56.5 100.0,58.0 C102.5,59.5 100.0,64.7 95.0,66.0 C90.0,67.3 76.7,66.7 70.0,66.0 C63.3,65.3 57.5,64.0 55.0,62.0 C52.5,60.0 50.8,54.8 55.0,54.0Z" fill="#c0c8f4" filter="url(#b2)" opacity="0.595"/>
<path d="M278.0,26.0 C281.7,22.2 298.0,20.3 302.0,24.0 C306.0,27.7 305.7,44.2 302.0,48.0 C298.3,51.8 284.0,50.7 280.0,47.0 C276.0,43.3 274.3,29.8 278.0,26.0Z" fill="#f4b4b4" filter="url(#b2)" opacity="0.9"/>
<path d="M247.0,66.0 C249.0,63.0 255.0,64.3 258.0,66.0 C261.0,67.7 264.0,72.0 265.0,76.0 C266.0,80.0 266.2,87.0 264.0,90.0 C261.8,93.0 255.0,95.0 252.0,94.0 C249.0,93.0 246.8,88.7 246.0,84.0 C245.2,79.3 245.0,69.0 247.0,66.0Z" fill="#f6c4c4" filter="url(#b2)" opacity="0.9"/>
<path d="M72.0,62.0 C73.7,58.3 79.8,58.5 84.0,57.4 C88.2,56.2 91.2,56.0 97.0,55.1 C102.8,54.2 111.0,52.4 119.1,52.0 C127.2,51.6 136.8,52.6 145.7,52.9 C154.6,53.2 163.5,53.9 172.4,53.8 C181.3,53.6 190.9,52.0 199.0,52.0 C207.1,52.0 214.5,53.0 221.2,53.8 C227.8,54.5 234.5,55.2 238.9,56.5 C243.3,57.8 247.8,59.8 247.8,61.8 C247.8,63.8 243.3,66.7 238.9,68.5 C234.5,70.3 227.8,71.4 221.2,72.9 C214.5,74.4 206.4,75.6 199.0,77.3 C191.6,79.0 183.5,80.6 176.8,83.1 C170.1,85.5 164.9,88.9 159.0,92.0 C153.1,95.1 147.2,98.2 141.3,101.7 C135.4,105.2 129.5,110.2 123.6,112.8 C117.7,115.4 111.0,118.0 105.8,117.3 C100.6,116.6 96.1,112.1 92.5,108.4 C88.9,104.7 87.1,99.9 84.0,95.1 C80.9,90.3 76.0,85.0 74.0,79.5 C72.0,74.0 70.3,65.7 72.0,62.0Z" fill="#f6aaaa" filter="url(#b3)" opacity="0.85"/>
<path d="M97.0,66.2 C101.4,63.2 111.0,60.3 119.1,59.6 C127.2,58.9 136.8,60.8 145.7,61.8 C154.6,62.8 166.5,63.6 172.4,65.4 C178.3,67.2 182.7,69.8 181.2,72.9 C179.7,76.0 169.4,80.3 163.5,84.0 C157.6,87.7 151.6,91.8 145.7,95.1 C139.8,98.4 133.9,102.9 128.0,104.0 C122.1,105.1 114.7,104.3 110.3,101.7 C105.9,99.1 104.4,92.5 101.4,88.4 C98.4,84.3 93.2,81.0 92.5,77.3 C91.8,73.6 92.6,69.2 97.0,66.2Z" fill="#f07070" filter="url(#b3)" opacity="0.68"/>
<path d="M110.0,68.0 C113.7,65.3 122.8,65.3 128.0,66.0 C133.2,66.7 139.3,68.3 141.0,72.0 C142.7,75.7 140.5,83.8 138.0,88.0 C135.5,92.2 130.3,95.7 126.0,97.0 C121.7,98.3 115.3,98.5 112.0,96.0 C108.7,93.5 106.3,86.7 106.0,82.0 C105.7,77.3 106.3,70.7 110.0,68.0Z" fill="#ea4c4c" filter="url(#b3)" opacity="0.6375"/>
<path d="M98.0,98.0 C99.3,95.3 105.3,95.0 108.0,96.0 C110.7,97.0 113.7,101.0 114.0,104.0 C114.3,107.0 112.3,112.7 110.0,114.0 C107.7,115.3 102.0,114.7 100.0,112.0 C98.0,109.3 96.7,100.7 98.0,98.0Z" fill="#e42222" filter="url(#b2)" opacity="0.765"/>
<path d="M160.0,66.0 C163.8,63.7 183.0,64.0 188.0,66.0 C193.0,68.0 193.8,75.7 190.0,78.0 C186.2,80.3 170.0,82.0 165.0,80.0 C160.0,78.0 156.2,68.3 160.0,66.0Z" fill="#ee7070" filter="url(#b3)" opacity="0.51"/>
<path d="M176.0,76.0 C179.7,74.5 191.8,73.5 200.0,72.0 C208.2,70.5 218.3,69.0 225.0,67.0 C231.7,65.0 236.8,60.8 240.0,60.0 C243.2,59.2 244.3,60.0 244.0,62.0 C243.7,64.0 242.0,69.7 238.0,72.0 C234.0,74.3 226.7,74.8 220.0,76.0 C213.3,77.2 205.0,78.2 198.0,79.0 C191.0,79.8 181.7,81.5 178.0,81.0 C174.3,80.5 172.3,77.5 176.0,76.0Z" fill="#f29090" filter="url(#b2)" opacity="0.595"/>
<path d="M174.0,83.0 C177.0,82.5 186.7,80.8 192.0,80.0 C197.3,79.2 202.3,79.0 206.0,78.5 C209.7,78.0 210.8,77.7 214.0,77.0 C217.2,76.3 221.8,75.4 225.0,74.5 C228.2,73.6 230.5,72.7 233.0,71.5 C235.5,70.3 238.3,69.2 240.0,67.5 C241.7,65.8 242.5,62.1 243.0,61.0" fill="none" stroke="#3040e0" stroke-width="1.3" opacity="0.85"/>
<path d="M240.0,58.0 C240.7,58.7 243.0,60.0 244.0,62.0 C245.0,64.0 245.7,68.7 246.0,70.0" fill="none" stroke="#e02020" stroke-width="1.3" opacity="0.8"/>
<g transform="translate(0.0 0.0)" fill="none" stroke="#1a1a1a" stroke-width="0.85" opacity="1"><path d="M173.7,84.3 C174.5,83.8 177.5,82.5 179.2,82.1 C180.9,81.7 185.8,81.4 188.1,81.0 C190.4,80.6 196.6,79.2 199.2,78.7 C201.8,78.2 207.7,77.0 210.3,76.5 C212.9,76.0 218.8,74.8 221.4,74.3 C224.0,73.8 230.4,72.6 232.5,72.1 C234.6,71.6 237.9,70.6 239.1,69.9 C240.3,69.2 242.6,67.5 243.0,66.5 C243.4,65.5 242.8,61.9 242.8,61.0 C242.8,60.1 243.1,58.8 243.4,58.6 C243.7,58.4 244.8,58.9 245.2,59.6 C245.6,60.3 246.6,63.0 246.9,64.3 C247.2,65.6 247.6,69.6 248.0,71.0 C248.4,72.4 249.4,75.7 250.2,76.5 C251.0,77.3 253.9,78.0 254.7,77.6 C255.5,77.2 256.6,74.2 256.9,73.2 C257.2,72.2 256.6,69.5 256.9,68.8 C257.2,68.1 258.5,67.2 259.1,67.6 C259.7,68.0 261.9,70.7 262.4,72.1 C262.9,73.5 263.4,78.4 263.5,79.8 C263.6,81.2 264.0,83.5 263.5,84.3 C263.0,85.1 260.1,85.9 259.1,86.5 C258.1,87.1 255.6,88.9 254.7,89.8 C253.8,90.7 252.3,93.8 251.3,94.3 C250.3,94.8 247.0,94.4 245.8,94.3 C244.6,94.2 242.1,93.9 241.3,93.2 C240.5,92.5 239.4,89.9 239.1,88.7 C238.8,87.5 239.4,83.7 239.1,83.2 C238.8,82.7 237.4,83.4 236.9,84.3 C236.4,85.2 235.1,88.8 234.7,90.9 C234.3,93.0 234.0,99.9 233.6,102.0 C233.2,104.1 232.1,107.1 231.4,108.7 C230.7,110.3 228.9,114.3 228.0,115.3 C227.1,116.3 224.8,117.6 223.6,117.6 C222.4,117.6 219.2,116.1 218.0,115.3 C216.8,114.5 214.2,112.5 213.6,110.9 C213.0,109.3 212.9,103.6 212.5,102.0 C212.1,100.4 210.8,98.2 210.3,97.6 C209.8,97.0 208.6,96.0 208.1,96.5 C207.6,97.0 206.1,100.4 205.8,102.0 C205.5,103.6 206.2,108.4 205.8,109.8 C205.4,111.2 203.5,113.6 202.5,114.2 C201.5,114.8 198.3,115.4 197.0,115.3 C195.7,115.2 192.2,114.1 191.4,113.1 C190.6,112.1 190.0,107.7 190.3,106.5 C190.6,105.3 192.6,103.5 193.6,103.2 C194.6,102.9 198.3,104.7 199.2,104.3 C200.1,103.9 201.9,100.7 201.4,99.8 C200.9,98.9 196.3,97.0 194.7,96.5 C193.1,96.0 189.3,95.3 188.1,95.4 C186.9,95.5 185.8,97.0 184.8,97.6 C183.8,98.2 180.4,100.6 179.2,100.9 C178.0,101.2 175.4,100.4 174.8,99.8 C174.2,99.2 173.4,96.2 173.7,95.4 C174.0,94.6 175.6,93.3 177.0,93.2 C178.4,93.1 184.7,94.4 185.9,94.3 C187.1,94.2 187.8,92.6 187.0,92.1 C186.2,91.6 180.8,90.2 179.2,89.8 C177.6,89.4 174.5,89.1 173.7,88.7 C172.9,88.3 172.6,87.0 172.6,86.5 C172.6,86.0 172.9,84.8 173.7,84.3Z"/><path d="M214.7,84.3 C215.4,83.8 218.6,82.8 220.3,82.1 C222.0,81.4 227.7,78.8 229.1,78.7 C230.5,78.6 232.4,80.0 232.5,80.9 C232.6,81.8 231.0,85.2 230.2,86.5 C229.4,87.8 226.4,90.7 225.8,92.1 C225.2,93.5 224.7,97.5 224.7,98.7 C224.7,99.9 225.9,101.6 225.8,102.0 C225.7,102.4 224.2,102.5 223.6,102.0 C223.0,101.5 220.8,98.8 220.3,97.6 C219.8,96.4 219.7,93.0 219.2,92.1 C218.7,91.2 216.3,90.5 215.8,89.8 C215.3,89.1 214.8,87.1 214.7,86.5 C214.6,85.9 214.0,84.8 214.7,84.3Z"/><path d="M83.8,93.4 C84.2,93.0 86.8,92.5 87.7,92.7 C88.6,92.9 90.8,94.6 91.6,95.3 C92.4,96.0 93.5,98.0 94.3,98.6 C95.1,99.2 97.4,100.1 98.2,100.6 C99.0,101.1 100.6,102.4 100.8,103.2 C101.0,104.0 100.4,106.4 100.1,107.1 C99.8,107.8 98.7,109.0 98.2,109.0 C97.7,109.0 96.2,107.6 95.6,107.1 C95.0,106.6 93.8,105.4 93.0,105.1 C92.2,104.8 89.8,104.7 89.0,104.5 C88.2,104.3 86.9,103.7 86.4,103.2 C85.9,102.7 85.1,101.2 85.1,100.6 C85.1,100.0 86.5,98.4 86.4,97.9 C86.3,97.4 84.8,96.5 84.5,96.0 C84.2,95.5 83.4,93.8 83.8,93.4Z"/><path d="M104.0,115.6 C103.6,116.1 102.2,117.5 102.1,118.2 C102.0,118.9 103.4,120.6 103.4,121.4 C103.4,122.2 102.0,124.6 102.1,125.4 C102.2,126.2 104.0,127.4 104.0,128.0 C104.0,128.6 102.4,129.8 102.1,130.6 C101.8,131.4 101.6,133.6 101.4,134.5 C101.2,135.4 100.5,137.6 100.1,138.4 C99.7,139.2 98.6,140.4 98.2,141.0 C97.8,141.6 97.4,143.0 96.9,143.6 C96.4,144.2 94.2,145.9 94.3,146.2 C94.4,146.5 96.7,146.3 97.5,146.2 C98.3,146.1 99.8,145.4 100.8,145.6 C101.8,145.8 104.8,147.7 106.0,148.2 C107.2,148.7 110.0,149.4 111.2,149.5 C112.4,149.6 115.3,149.2 116.5,148.9 C117.7,148.6 120.9,147.4 121.7,146.9 C122.5,146.4 123.2,145.4 123.0,144.9 C122.8,144.4 121.2,142.9 120.4,142.3 C119.6,141.7 117.3,140.2 116.5,139.7 C115.7,139.2 114.2,139.0 113.8,138.4 C113.4,137.8 113.5,135.4 113.2,134.5 C112.9,133.6 111.7,131.4 111.2,130.6 C110.7,129.8 109.5,128.8 109.3,128.0 C109.1,127.2 109.7,125.0 109.9,124.0 C110.1,123.0 110.6,120.6 110.6,119.5 C110.6,118.4 109.8,115.7 109.9,114.9 C110.0,114.1 110.9,113.5 111.2,113.0 C111.5,112.5 112.7,110.8 112.5,110.3 C112.3,109.8 110.5,109.1 109.9,109.0 C109.3,108.9 107.8,109.4 107.3,109.7 C106.8,110.0 106.2,111.1 106.0,111.6 C105.8,112.1 105.6,113.7 105.4,114.2 C105.2,114.7 104.4,115.1 104.0,115.6Z"/><path d="M83.8,118.8 C84.2,118.5 86.6,117.9 87.7,117.5 C88.8,117.1 92.0,116.0 93.0,115.6 C94.0,115.2 95.7,114.1 96.2,114.3 C96.7,114.5 97.1,116.4 96.9,116.9 C96.7,117.4 95.1,118.5 94.3,118.8 C93.5,119.1 91.2,119.3 90.3,119.5 C89.4,119.7 87.1,120.1 86.4,120.1 C85.7,120.1 84.8,120.1 84.5,119.9 C84.2,119.7 83.4,119.1 83.8,118.8Z"/><path d="M117.8,118.2 C117.8,117.7 118.2,115.3 119.0,114.3 C119.8,113.3 123.1,110.8 124.3,109.7 C125.5,108.6 128.3,106.1 129.5,105.1 C130.7,104.1 133.3,102.0 134.7,101.2 C136.1,100.4 139.9,98.7 141.3,97.9 C142.7,97.1 145.1,95.2 146.5,94.7 C147.9,94.2 151.9,93.3 153.0,93.4 C154.1,93.5 155.4,94.6 155.6,95.3 C155.8,96.0 154.8,98.3 154.3,99.2 C153.8,100.1 151.5,102.1 151.0,103.2 C150.5,104.3 150.6,107.3 150.4,108.4 C150.2,109.5 149.6,111.5 149.1,112.3 C148.6,113.1 146.6,114.5 145.8,114.9 C145.0,115.3 143.4,115.7 142.6,115.6 C141.8,115.5 139.5,114.5 138.6,114.3 C137.7,114.1 135.6,114.4 134.7,114.3 C133.8,114.2 131.7,114.0 130.8,113.6 C129.9,113.2 127.7,111.2 126.9,111.0 C126.1,110.8 124.8,111.2 124.3,111.6 C123.8,112.0 123.3,113.7 123.0,114.3 C122.7,114.9 122.2,116.4 121.7,116.9 C121.2,117.4 119.5,118.0 119.0,118.2 C118.5,118.4 117.8,118.7 117.8,118.2Z"/><path d="M121.7,117.5 C122.2,117.0 124.5,116.4 125.6,116.2 C126.7,116.0 129.6,116.0 130.8,116.2 C132.0,116.4 134.9,117.5 136.0,118.2 C137.1,118.9 139.8,121.1 140.6,122.1 C141.4,123.1 142.5,125.7 142.6,126.7 C142.7,127.7 141.9,130.0 141.3,130.6 C140.7,131.2 138.2,131.8 137.3,131.9 C136.4,132.0 134.2,131.6 133.4,131.2 C132.6,130.8 131.1,129.1 130.2,128.6 C129.3,128.1 126.4,127.2 125.6,126.7 C124.8,126.2 123.5,124.7 123.0,124.0 C122.5,123.3 121.9,121.6 121.7,120.8 C121.5,120.0 121.2,118.0 121.7,117.5Z"/><path d="M43.2,118.7 C43.6,118.2 45.6,117.5 46.5,117.6 C47.4,117.7 50.4,119.0 51.0,119.8 C51.6,120.6 51.9,123.6 51.6,124.3 C51.3,125.0 49.7,125.4 48.8,125.4 C47.9,125.4 45.0,124.7 44.3,124.3 C43.6,123.9 42.9,122.7 42.8,122.0 C42.7,121.3 42.8,119.2 43.2,118.7Z"/><path d="M46.5,126.5 C47.1,126.2 50.3,126.7 51.0,127.1 C51.7,127.5 52.8,129.2 52.8,129.8 C52.8,130.4 51.6,132.2 51.0,132.5 C50.4,132.8 48.2,132.4 47.6,132.0 C47.0,131.6 46.2,130.0 46.1,129.4 C46.0,128.8 45.9,126.8 46.5,126.5Z"/><path d="M71.0,119.6 C71.4,118.8 74.4,117.8 75.4,117.6 C76.4,117.4 78.8,117.7 79.2,118.3 C79.6,118.9 79.1,122.3 78.7,123.1 C78.3,123.9 76.2,124.8 75.4,124.9 C74.6,125.0 72.6,124.9 72.1,124.3 C71.6,123.7 70.6,120.4 71.0,119.6Z"/><path d="M228.3,12.8 C227.7,13.1 228.6,15.0 229.2,15.5 C229.8,16.0 233.0,16.9 233.7,17.4 C234.4,17.9 235.0,19.5 235.6,20.1 C236.2,20.7 238.5,22.2 239.2,22.9 C239.9,23.6 241.4,26.0 242.0,26.5 C242.6,27.0 244.3,27.6 244.7,27.4 C245.1,27.2 245.8,25.3 245.6,24.7 C245.4,24.1 243.4,22.5 242.9,21.9 C242.4,21.3 241.4,19.8 241.1,19.2 C240.8,18.6 240.6,16.8 240.1,16.5 C239.6,16.2 237.2,16.7 236.5,16.5 C235.8,16.3 233.9,15.0 233.7,14.6 C233.5,14.2 235.2,13.0 234.6,12.8 C234.0,12.6 228.9,12.5 228.3,12.8Z"/><ellipse cx="165" cy="97" rx="2.5" ry="2"/><ellipse cx="263.9" cy="37.9" rx="2.7" ry="3.2"/><ellipse cx="150.3" cy="53.3" rx="1.7" ry="2.8"/><ellipse cx="261.8" cy="104.8" rx="1.7" ry="1.7"/><ellipse cx="280.2" cy="105.4" rx="2.2" ry="3.4"/><ellipse cx="269.6" cy="122" rx="1.7" ry="1.1"/><g stroke-dasharray="2.6 1.8"><path d="M83.0,12.5 C83.3,13.6 84.5,19.9 85.4,21.7 C86.3,23.5 89.4,27.0 91.0,28.3 C92.6,29.6 96.6,32.7 98.7,32.8 C100.8,32.9 107.0,29.3 108.7,29.4 C110.4,29.5 111.9,34.0 113.2,33.9 C114.5,33.8 118.0,29.2 119.8,28.3 C121.6,27.4 126.4,26.7 128.7,26.1 C131.0,25.5 137.5,22.8 139.8,22.8 C142.1,22.8 146.6,25.8 148.7,26.1 C150.8,26.4 155.7,25.5 157.5,25.0 C159.3,24.5 163.2,22.7 164.2,21.7 C165.2,20.7 166.1,17.2 166.4,16.1 C166.7,15.0 166.4,12.9 166.4,12.5"/><path d="M179.7,12.5 C179.7,13.0 179.8,15.6 179.7,17.2 C179.6,18.8 178.3,24.3 178.6,26.1 C178.9,27.9 180.7,32.1 181.9,32.8 C183.1,33.5 187.7,32.7 188.6,31.7 C189.5,30.7 189.8,26.1 189.7,23.9 C189.6,21.7 188.3,13.8 188.1,12.5"/><path d="M112.0,43.9 C112.5,43.8 116.2,48.2 117.6,49.4 C119.0,50.6 122.6,53.1 124.2,53.8 C125.8,54.5 129.6,54.6 130.9,55.0 C132.2,55.4 134.5,56.5 135.3,57.2 C136.1,57.9 138.3,60.4 138.0,61.0 C137.7,61.6 134.2,62.5 133.1,62.5 C132.0,62.5 129.8,61.5 128.7,61.0 C127.6,60.5 125.2,58.6 124.0,58.0 C122.8,57.4 119.3,56.9 118.0,56.0 C116.7,55.1 113.7,51.4 113.0,50.0 C112.3,48.6 111.5,44.0 112.0,43.9Z"/><path d="M62.0,60.0 C62.6,59.2 64.7,58.0 66.0,58.5 C67.3,59.0 71.3,63.7 73.2,64.5 C75.1,65.3 80.0,64.8 82.1,65.0 C84.2,65.2 88.9,66.6 91.0,66.3 C93.1,66.0 98.0,63.3 99.8,62.8 C101.6,62.3 104.8,62.2 106.5,62.2 C108.2,62.2 112.5,62.4 114.0,63.0 C115.5,63.6 118.7,66.0 119.0,67.0 C119.3,68.0 118.3,71.2 117.0,72.0 C115.7,72.8 110.0,73.3 108.0,74.0 C106.0,74.7 101.0,76.7 100.0,78.0 C99.0,79.3 98.1,83.8 99.0,85.0 C99.9,86.2 105.3,87.4 108.0,88.0 C110.7,88.6 119.4,89.5 122.0,90.0 C124.6,90.5 129.3,91.3 130.0,92.0 C130.7,92.7 129.4,95.4 128.0,96.0 C126.6,96.6 120.8,96.9 118.0,97.0 C115.2,97.1 106.6,97.0 104.0,96.5 C101.4,96.0 97.6,94.2 96.0,93.0 C94.4,91.8 91.5,87.5 90.0,86.0 C88.5,84.5 85.1,81.2 83.0,80.0 C80.9,78.8 74.3,77.0 72.0,76.0 C69.7,75.0 64.3,72.3 63.0,71.0 C61.7,69.7 61.1,66.3 61.0,65.0 C60.9,63.7 61.4,60.8 62.0,60.0Z"/><path d="M47.5,52.5 C48.0,51.8 51.7,51.5 53.0,51.5 C54.3,51.5 57.7,52.0 58.5,52.5 C59.3,53.0 59.9,55.4 59.5,56.0 C59.1,56.6 56.3,57.8 55.0,58.0 C53.7,58.2 49.4,58.1 48.5,57.5 C47.6,56.9 47.0,53.2 47.5,52.5Z"/><path d="M160.0,42.0 C160.9,40.6 164.4,38.4 166.0,38.0 C167.6,37.6 172.8,38.1 174.0,39.0 C175.2,39.9 176.5,44.2 176.5,46.0 C176.5,47.8 175.2,52.5 174.0,54.0 C172.8,55.5 167.6,58.1 166.0,58.5 C164.4,58.9 160.9,58.0 160.0,57.0 C159.1,56.0 158.5,51.8 158.5,50.0 C158.5,48.2 159.1,43.4 160.0,42.0Z"/><path d="M178.0,58.0 C179.4,57.1 187.0,56.6 190.0,56.5 C193.0,56.4 201.2,57.1 204.0,57.5 C206.8,57.9 213.1,59.1 214.0,60.0 C214.9,60.9 213.6,64.6 212.0,65.5 C210.4,66.4 203.0,67.3 200.0,67.5 C197.0,67.7 188.6,67.4 186.0,67.0 C183.4,66.6 178.9,65.0 178.0,64.0 C177.1,63.0 176.6,58.9 178.0,58.0Z"/></g></g></g></g>
<clipPath id="cp4"><rect x="30.4" y="460.5" width="271.1" height="152.2"/></clipPath>
<g clip-path="url(#cp4)"><g transform="translate(0.0 447.7)"><rect x="30.4" y="13.0" width="271.1" height="152.5" fill="#fff" filter="url(#nzC)"/>
<path d="M172.0,78.0 C178.7,73.8 188.7,76.3 200.0,75.0 C211.3,73.7 229.7,69.8 240.0,70.0 C250.3,70.2 257.7,71.0 262.0,76.0 C266.3,81.0 266.7,93.0 266.0,100.0 C265.3,107.0 262.3,114.0 258.0,118.0 C253.7,122.0 248.0,123.0 240.0,124.0 C232.0,125.0 220.0,123.7 210.0,124.0 C200.0,124.3 187.5,127.0 180.0,126.0 C172.5,125.0 168.3,122.3 165.0,118.0 C161.7,113.7 158.8,106.7 160.0,100.0 C161.2,93.3 165.3,82.2 172.0,78.0Z" fill="#bcc6f6" filter="url(#b3)"/>
<path d="M100.0,112.0 C108.0,107.7 128.0,105.3 140.0,104.0 C152.0,102.7 166.7,100.5 172.0,104.0 C177.3,107.5 174.0,118.2 172.0,125.0 C170.0,131.8 167.0,139.5 160.0,145.0 C153.0,150.5 140.0,155.8 130.0,158.0 C120.0,160.2 106.3,162.7 100.0,158.0 C93.7,153.3 92.0,137.7 92.0,130.0 C92.0,122.3 92.0,116.3 100.0,112.0Z" fill="#d4daf8" filter="url(#b5)" opacity="0.9900000000000001"/>
<path d="M30.0,110.0 C38.3,102.3 69.2,114.2 80.0,120.0 C90.8,125.8 95.0,137.3 95.0,145.0 C95.0,152.7 90.8,162.5 80.0,166.0 C69.2,169.5 38.3,175.3 30.0,166.0 C21.7,156.7 21.7,117.7 30.0,110.0Z" fill="#e6e9fb" filter="url(#b5)" opacity="0.6"/>
<path d="M55.0,54.0 C59.2,53.2 72.5,56.3 80.0,57.0 C87.5,57.7 97.5,56.5 100.0,58.0 C102.5,59.5 100.0,64.7 95.0,66.0 C90.0,67.3 76.7,66.7 70.0,66.0 C63.3,65.3 57.5,64.0 55.0,62.0 C52.5,60.0 50.8,54.8 55.0,54.0Z" fill="#c0c8f4" filter="url(#b2)" opacity="0.77"/>
<path d="M270.0,30.0 C274.3,26.3 296.7,22.7 302.0,26.0 C307.3,29.3 306.3,46.3 302.0,50.0 C297.7,53.7 281.3,51.3 276.0,48.0 C270.7,44.7 265.7,33.7 270.0,30.0Z" fill="#aab4f0" filter="url(#b2)" opacity="0.935"/>
<path d="M275.0,34.0 C278.2,33.0 291.5,31.7 295.0,32.0 C298.5,32.3 299.2,35.0 296.0,36.0 C292.8,37.0 279.5,38.3 276.0,38.0 C272.5,37.7 271.8,35.0 275.0,34.0Z" fill="#5060e8" filter="url(#b1)" opacity="0.66"/>
<path d="M72.0,62.0 C73.7,58.3 79.8,58.5 84.0,57.4 C88.2,56.2 91.2,56.0 97.0,55.1 C102.8,54.2 111.0,52.4 119.1,52.0 C127.2,51.6 136.8,52.6 145.7,52.9 C154.6,53.2 163.5,53.9 172.4,53.8 C181.3,53.6 190.9,52.0 199.0,52.0 C207.1,52.0 214.5,53.0 221.2,53.8 C227.8,54.5 234.5,55.2 238.9,56.5 C243.3,57.8 247.8,59.8 247.8,61.8 C247.8,63.8 243.3,66.7 238.9,68.5 C234.5,70.3 227.8,71.4 221.2,72.9 C214.5,74.4 206.4,75.6 199.0,77.3 C191.6,79.0 183.5,80.6 176.8,83.1 C170.1,85.5 164.9,88.9 159.0,92.0 C153.1,95.1 147.2,98.2 141.3,101.7 C135.4,105.2 129.5,110.2 123.6,112.8 C117.7,115.4 111.0,118.0 105.8,117.3 C100.6,116.6 96.1,112.1 92.5,108.4 C88.9,104.7 87.1,99.9 84.0,95.1 C80.9,90.3 76.0,85.0 74.0,79.5 C72.0,74.0 70.3,65.7 72.0,62.0Z" fill="#f6aaaa" filter="url(#b3)"/>
<path d="M97.0,66.2 C101.4,63.2 111.0,60.3 119.1,59.6 C127.2,58.9 136.8,60.8 145.7,61.8 C154.6,62.8 166.5,63.6 172.4,65.4 C178.3,67.2 182.7,69.8 181.2,72.9 C179.7,76.0 169.4,80.3 163.5,84.0 C157.6,87.7 151.6,91.8 145.7,95.1 C139.8,98.4 133.9,102.9 128.0,104.0 C122.1,105.1 114.7,104.3 110.3,101.7 C105.9,99.1 104.4,92.5 101.4,88.4 C98.4,84.3 93.2,81.0 92.5,77.3 C91.8,73.6 92.6,69.2 97.0,66.2Z" fill="#f07070" filter="url(#b3)" opacity="0.8800000000000001"/>
<path d="M110.0,68.0 C113.7,65.3 122.8,65.3 128.0,66.0 C133.2,66.7 139.3,68.3 141.0,72.0 C142.7,75.7 140.5,83.8 138.0,88.0 C135.5,92.2 130.3,95.7 126.0,97.0 C121.7,98.3 115.3,98.5 112.0,96.0 C108.7,93.5 106.3,86.7 106.0,82.0 C105.7,77.3 106.3,70.7 110.0,68.0Z" fill="#ea4c4c" filter="url(#b3)" opacity="0.8250000000000001"/>
<path d="M98.0,98.0 C99.3,95.3 105.3,95.0 108.0,96.0 C110.7,97.0 113.7,101.0 114.0,104.0 C114.3,107.0 112.3,112.7 110.0,114.0 C107.7,115.3 102.0,114.7 100.0,112.0 C98.0,109.3 96.7,100.7 98.0,98.0Z" fill="#e42222" filter="url(#b2)" opacity="0.9900000000000001"/>
<path d="M160.0,66.0 C163.8,63.7 183.0,64.0 188.0,66.0 C193.0,68.0 193.8,75.7 190.0,78.0 C186.2,80.3 170.0,82.0 165.0,80.0 C160.0,78.0 156.2,68.3 160.0,66.0Z" fill="#ee7070" filter="url(#b3)" opacity="0.66"/>
<path d="M176.0,76.0 C179.7,74.5 191.8,73.5 200.0,72.0 C208.2,70.5 218.3,69.0 225.0,67.0 C231.7,65.0 236.8,60.8 240.0,60.0 C243.2,59.2 244.3,60.0 244.0,62.0 C243.7,64.0 242.0,69.7 238.0,72.0 C234.0,74.3 226.7,74.8 220.0,76.0 C213.3,77.2 205.0,78.2 198.0,79.0 C191.0,79.8 181.7,81.5 178.0,81.0 C174.3,80.5 172.3,77.5 176.0,76.0Z" fill="#f29090" filter="url(#b2)" opacity="0.77"/>
<path d="M174.0,83.0 C177.0,82.5 186.7,80.8 192.0,80.0 C197.3,79.2 202.3,79.0 206.0,78.5 C209.7,78.0 210.8,77.7 214.0,77.0 C217.2,76.3 221.8,75.4 225.0,74.5 C228.2,73.6 230.5,72.7 233.0,71.5 C235.5,70.3 238.3,69.2 240.0,67.5 C241.7,65.8 242.5,62.1 243.0,61.0" fill="none" stroke="#3040e0" stroke-width="1.3" opacity="0.85"/>
<path d="M240.0,58.0 C240.7,58.7 243.0,60.0 244.0,62.0 C245.0,64.0 245.7,68.7 246.0,70.0" fill="none" stroke="#e02020" stroke-width="1.3" opacity="0.8"/>
<g transform="translate(0.0 0.0)" fill="none" stroke="#1a1a1a" stroke-width="0.85" opacity="1"><path d="M173.7,84.3 C174.5,83.8 177.5,82.5 179.2,82.1 C180.9,81.7 185.8,81.4 188.1,81.0 C190.4,80.6 196.6,79.2 199.2,78.7 C201.8,78.2 207.7,77.0 210.3,76.5 C212.9,76.0 218.8,74.8 221.4,74.3 C224.0,73.8 230.4,72.6 232.5,72.1 C234.6,71.6 237.9,70.6 239.1,69.9 C240.3,69.2 242.6,67.5 243.0,66.5 C243.4,65.5 242.8,61.9 242.8,61.0 C242.8,60.1 243.1,58.8 243.4,58.6 C243.7,58.4 244.8,58.9 245.2,59.6 C245.6,60.3 246.6,63.0 246.9,64.3 C247.2,65.6 247.6,69.6 248.0,71.0 C248.4,72.4 249.4,75.7 250.2,76.5 C251.0,77.3 253.9,78.0 254.7,77.6 C255.5,77.2 256.6,74.2 256.9,73.2 C257.2,72.2 256.6,69.5 256.9,68.8 C257.2,68.1 258.5,67.2 259.1,67.6 C259.7,68.0 261.9,70.7 262.4,72.1 C262.9,73.5 263.4,78.4 263.5,79.8 C263.6,81.2 264.0,83.5 263.5,84.3 C263.0,85.1 260.1,85.9 259.1,86.5 C258.1,87.1 255.6,88.9 254.7,89.8 C253.8,90.7 252.3,93.8 251.3,94.3 C250.3,94.8 247.0,94.4 245.8,94.3 C244.6,94.2 242.1,93.9 241.3,93.2 C240.5,92.5 239.4,89.9 239.1,88.7 C238.8,87.5 239.4,83.7 239.1,83.2 C238.8,82.7 237.4,83.4 236.9,84.3 C236.4,85.2 235.1,88.8 234.7,90.9 C234.3,93.0 234.0,99.9 233.6,102.0 C233.2,104.1 232.1,107.1 231.4,108.7 C230.7,110.3 228.9,114.3 228.0,115.3 C227.1,116.3 224.8,117.6 223.6,117.6 C222.4,117.6 219.2,116.1 218.0,115.3 C216.8,114.5 214.2,112.5 213.6,110.9 C213.0,109.3 212.9,103.6 212.5,102.0 C212.1,100.4 210.8,98.2 210.3,97.6 C209.8,97.0 208.6,96.0 208.1,96.5 C207.6,97.0 206.1,100.4 205.8,102.0 C205.5,103.6 206.2,108.4 205.8,109.8 C205.4,111.2 203.5,113.6 202.5,114.2 C201.5,114.8 198.3,115.4 197.0,115.3 C195.7,115.2 192.2,114.1 191.4,113.1 C190.6,112.1 190.0,107.7 190.3,106.5 C190.6,105.3 192.6,103.5 193.6,103.2 C194.6,102.9 198.3,104.7 199.2,104.3 C200.1,103.9 201.9,100.7 201.4,99.8 C200.9,98.9 196.3,97.0 194.7,96.5 C193.1,96.0 189.3,95.3 188.1,95.4 C186.9,95.5 185.8,97.0 184.8,97.6 C183.8,98.2 180.4,100.6 179.2,100.9 C178.0,101.2 175.4,100.4 174.8,99.8 C174.2,99.2 173.4,96.2 173.7,95.4 C174.0,94.6 175.6,93.3 177.0,93.2 C178.4,93.1 184.7,94.4 185.9,94.3 C187.1,94.2 187.8,92.6 187.0,92.1 C186.2,91.6 180.8,90.2 179.2,89.8 C177.6,89.4 174.5,89.1 173.7,88.7 C172.9,88.3 172.6,87.0 172.6,86.5 C172.6,86.0 172.9,84.8 173.7,84.3Z"/><path d="M214.7,84.3 C215.4,83.8 218.6,82.8 220.3,82.1 C222.0,81.4 227.7,78.8 229.1,78.7 C230.5,78.6 232.4,80.0 232.5,80.9 C232.6,81.8 231.0,85.2 230.2,86.5 C229.4,87.8 226.4,90.7 225.8,92.1 C225.2,93.5 224.7,97.5 224.7,98.7 C224.7,99.9 225.9,101.6 225.8,102.0 C225.7,102.4 224.2,102.5 223.6,102.0 C223.0,101.5 220.8,98.8 220.3,97.6 C219.8,96.4 219.7,93.0 219.2,92.1 C218.7,91.2 216.3,90.5 215.8,89.8 C215.3,89.1 214.8,87.1 214.7,86.5 C214.6,85.9 214.0,84.8 214.7,84.3Z"/><path d="M83.8,93.4 C84.2,93.0 86.8,92.5 87.7,92.7 C88.6,92.9 90.8,94.6 91.6,95.3 C92.4,96.0 93.5,98.0 94.3,98.6 C95.1,99.2 97.4,100.1 98.2,100.6 C99.0,101.1 100.6,102.4 100.8,103.2 C101.0,104.0 100.4,106.4 100.1,107.1 C99.8,107.8 98.7,109.0 98.2,109.0 C97.7,109.0 96.2,107.6 95.6,107.1 C95.0,106.6 93.8,105.4 93.0,105.1 C92.2,104.8 89.8,104.7 89.0,104.5 C88.2,104.3 86.9,103.7 86.4,103.2 C85.9,102.7 85.1,101.2 85.1,100.6 C85.1,100.0 86.5,98.4 86.4,97.9 C86.3,97.4 84.8,96.5 84.5,96.0 C84.2,95.5 83.4,93.8 83.8,93.4Z"/><path d="M104.0,115.6 C103.6,116.1 102.2,117.5 102.1,118.2 C102.0,118.9 103.4,120.6 103.4,121.4 C103.4,122.2 102.0,124.6 102.1,125.4 C102.2,126.2 104.0,127.4 104.0,128.0 C104.0,128.6 102.4,129.8 102.1,130.6 C101.8,131.4 101.6,133.6 101.4,134.5 C101.2,135.4 100.5,137.6 100.1,138.4 C99.7,139.2 98.6,140.4 98.2,141.0 C97.8,141.6 97.4,143.0 96.9,143.6 C96.4,144.2 94.2,145.9 94.3,146.2 C94.4,146.5 96.7,146.3 97.5,146.2 C98.3,146.1 99.8,145.4 100.8,145.6 C101.8,145.8 104.8,147.7 106.0,148.2 C107.2,148.7 110.0,149.4 111.2,149.5 C112.4,149.6 115.3,149.2 116.5,148.9 C117.7,148.6 120.9,147.4 121.7,146.9 C122.5,146.4 123.2,145.4 123.0,144.9 C122.8,144.4 121.2,142.9 120.4,142.3 C119.6,141.7 117.3,140.2 116.5,139.7 C115.7,139.2 114.2,139.0 113.8,138.4 C113.4,137.8 113.5,135.4 113.2,134.5 C112.9,133.6 111.7,131.4 111.2,130.6 C110.7,129.8 109.5,128.8 109.3,128.0 C109.1,127.2 109.7,125.0 109.9,124.0 C110.1,123.0 110.6,120.6 110.6,119.5 C110.6,118.4 109.8,115.7 109.9,114.9 C110.0,114.1 110.9,113.5 111.2,113.0 C111.5,112.5 112.7,110.8 112.5,110.3 C112.3,109.8 110.5,109.1 109.9,109.0 C109.3,108.9 107.8,109.4 107.3,109.7 C106.8,110.0 106.2,111.1 106.0,111.6 C105.8,112.1 105.6,113.7 105.4,114.2 C105.2,114.7 104.4,115.1 104.0,115.6Z"/><path d="M83.8,118.8 C84.2,118.5 86.6,117.9 87.7,117.5 C88.8,117.1 92.0,116.0 93.0,115.6 C94.0,115.2 95.7,114.1 96.2,114.3 C96.7,114.5 97.1,116.4 96.9,116.9 C96.7,117.4 95.1,118.5 94.3,118.8 C93.5,119.1 91.2,119.3 90.3,119.5 C89.4,119.7 87.1,120.1 86.4,120.1 C85.7,120.1 84.8,120.1 84.5,119.9 C84.2,119.7 83.4,119.1 83.8,118.8Z"/><path d="M117.8,118.2 C117.8,117.7 118.2,115.3 119.0,114.3 C119.8,113.3 123.1,110.8 124.3,109.7 C125.5,108.6 128.3,106.1 129.5,105.1 C130.7,104.1 133.3,102.0 134.7,101.2 C136.1,100.4 139.9,98.7 141.3,97.9 C142.7,97.1 145.1,95.2 146.5,94.7 C147.9,94.2 151.9,93.3 153.0,93.4 C154.1,93.5 155.4,94.6 155.6,95.3 C155.8,96.0 154.8,98.3 154.3,99.2 C153.8,100.1 151.5,102.1 151.0,103.2 C150.5,104.3 150.6,107.3 150.4,108.4 C150.2,109.5 149.6,111.5 149.1,112.3 C148.6,113.1 146.6,114.5 145.8,114.9 C145.0,115.3 143.4,115.7 142.6,115.6 C141.8,115.5 139.5,114.5 138.6,114.3 C137.7,114.1 135.6,114.4 134.7,114.3 C133.8,114.2 131.7,114.0 130.8,113.6 C129.9,113.2 127.7,111.2 126.9,111.0 C126.1,110.8 124.8,111.2 124.3,111.6 C123.8,112.0 123.3,113.7 123.0,114.3 C122.7,114.9 122.2,116.4 121.7,116.9 C121.2,117.4 119.5,118.0 119.0,118.2 C118.5,118.4 117.8,118.7 117.8,118.2Z"/><path d="M121.7,117.5 C122.2,117.0 124.5,116.4 125.6,116.2 C126.7,116.0 129.6,116.0 130.8,116.2 C132.0,116.4 134.9,117.5 136.0,118.2 C137.1,118.9 139.8,121.1 140.6,122.1 C141.4,123.1 142.5,125.7 142.6,126.7 C142.7,127.7 141.9,130.0 141.3,130.6 C140.7,131.2 138.2,131.8 137.3,131.9 C136.4,132.0 134.2,131.6 133.4,131.2 C132.6,130.8 131.1,129.1 130.2,128.6 C129.3,128.1 126.4,127.2 125.6,126.7 C124.8,126.2 123.5,124.7 123.0,124.0 C122.5,123.3 121.9,121.6 121.7,120.8 C121.5,120.0 121.2,118.0 121.7,117.5Z"/><path d="M43.2,118.7 C43.6,118.2 45.6,117.5 46.5,117.6 C47.4,117.7 50.4,119.0 51.0,119.8 C51.6,120.6 51.9,123.6 51.6,124.3 C51.3,125.0 49.7,125.4 48.8,125.4 C47.9,125.4 45.0,124.7 44.3,124.3 C43.6,123.9 42.9,122.7 42.8,122.0 C42.7,121.3 42.8,119.2 43.2,118.7Z"/><path d="M46.5,126.5 C47.1,126.2 50.3,126.7 51.0,127.1 C51.7,127.5 52.8,129.2 52.8,129.8 C52.8,130.4 51.6,132.2 51.0,132.5 C50.4,132.8 48.2,132.4 47.6,132.0 C47.0,131.6 46.2,130.0 46.1,129.4 C46.0,128.8 45.9,126.8 46.5,126.5Z"/><path d="M71.0,119.6 C71.4,118.8 74.4,117.8 75.4,117.6 C76.4,117.4 78.8,117.7 79.2,118.3 C79.6,118.9 79.1,122.3 78.7,123.1 C78.3,123.9 76.2,124.8 75.4,124.9 C74.6,125.0 72.6,124.9 72.1,124.3 C71.6,123.7 70.6,120.4 71.0,119.6Z"/><path d="M228.3,12.8 C227.7,13.1 228.6,15.0 229.2,15.5 C229.8,16.0 233.0,16.9 233.7,17.4 C234.4,17.9 235.0,19.5 235.6,20.1 C236.2,20.7 238.5,22.2 239.2,22.9 C239.9,23.6 241.4,26.0 242.0,26.5 C242.6,27.0 244.3,27.6 244.7,27.4 C245.1,27.2 245.8,25.3 245.6,24.7 C245.4,24.1 243.4,22.5 242.9,21.9 C242.4,21.3 241.4,19.8 241.1,19.2 C240.8,18.6 240.6,16.8 240.1,16.5 C239.6,16.2 237.2,16.7 236.5,16.5 C235.8,16.3 233.9,15.0 233.7,14.6 C233.5,14.2 235.2,13.0 234.6,12.8 C234.0,12.6 228.9,12.5 228.3,12.8Z"/><ellipse cx="165" cy="97" rx="2.5" ry="2"/><ellipse cx="263.9" cy="37.9" rx="2.7" ry="3.2"/><ellipse cx="150.3" cy="53.3" rx="1.7" ry="2.8"/><ellipse cx="261.8" cy="104.8" rx="1.7" ry="1.7"/><ellipse cx="280.2" cy="105.4" rx="2.2" ry="3.4"/><ellipse cx="269.6" cy="122" rx="1.7" ry="1.1"/><g stroke-dasharray="2.6 1.8"><path d="M83.0,12.5 C83.3,13.6 84.5,19.9 85.4,21.7 C86.3,23.5 89.4,27.0 91.0,28.3 C92.6,29.6 96.6,32.7 98.7,32.8 C100.8,32.9 107.0,29.3 108.7,29.4 C110.4,29.5 111.9,34.0 113.2,33.9 C114.5,33.8 118.0,29.2 119.8,28.3 C121.6,27.4 126.4,26.7 128.7,26.1 C131.0,25.5 137.5,22.8 139.8,22.8 C142.1,22.8 146.6,25.8 148.7,26.1 C150.8,26.4 155.7,25.5 157.5,25.0 C159.3,24.5 163.2,22.7 164.2,21.7 C165.2,20.7 166.1,17.2 166.4,16.1 C166.7,15.0 166.4,12.9 166.4,12.5"/><path d="M179.7,12.5 C179.7,13.0 179.8,15.6 179.7,17.2 C179.6,18.8 178.3,24.3 178.6,26.1 C178.9,27.9 180.7,32.1 181.9,32.8 C183.1,33.5 187.7,32.7 188.6,31.7 C189.5,30.7 189.8,26.1 189.7,23.9 C189.6,21.7 188.3,13.8 188.1,12.5"/><path d="M112.0,43.9 C112.5,43.8 116.2,48.2 117.6,49.4 C119.0,50.6 122.6,53.1 124.2,53.8 C125.8,54.5 129.6,54.6 130.9,55.0 C132.2,55.4 134.5,56.5 135.3,57.2 C136.1,57.9 138.3,60.4 138.0,61.0 C137.7,61.6 134.2,62.5 133.1,62.5 C132.0,62.5 129.8,61.5 128.7,61.0 C127.6,60.5 125.2,58.6 124.0,58.0 C122.8,57.4 119.3,56.9 118.0,56.0 C116.7,55.1 113.7,51.4 113.0,50.0 C112.3,48.6 111.5,44.0 112.0,43.9Z"/><path d="M62.0,60.0 C62.6,59.2 64.7,58.0 66.0,58.5 C67.3,59.0 71.3,63.7 73.2,64.5 C75.1,65.3 80.0,64.8 82.1,65.0 C84.2,65.2 88.9,66.6 91.0,66.3 C93.1,66.0 98.0,63.3 99.8,62.8 C101.6,62.3 104.8,62.2 106.5,62.2 C108.2,62.2 112.5,62.4 114.0,63.0 C115.5,63.6 118.7,66.0 119.0,67.0 C119.3,68.0 118.3,71.2 117.0,72.0 C115.7,72.8 110.0,73.3 108.0,74.0 C106.0,74.7 101.0,76.7 100.0,78.0 C99.0,79.3 98.1,83.8 99.0,85.0 C99.9,86.2 105.3,87.4 108.0,88.0 C110.7,88.6 119.4,89.5 122.0,90.0 C124.6,90.5 129.3,91.3 130.0,92.0 C130.7,92.7 129.4,95.4 128.0,96.0 C126.6,96.6 120.8,96.9 118.0,97.0 C115.2,97.1 106.6,97.0 104.0,96.5 C101.4,96.0 97.6,94.2 96.0,93.0 C94.4,91.8 91.5,87.5 90.0,86.0 C88.5,84.5 85.1,81.2 83.0,80.0 C80.9,78.8 74.3,77.0 72.0,76.0 C69.7,75.0 64.3,72.3 63.0,71.0 C61.7,69.7 61.1,66.3 61.0,65.0 C60.9,63.7 61.4,60.8 62.0,60.0Z"/><path d="M47.5,52.5 C48.0,51.8 51.7,51.5 53.0,51.5 C54.3,51.5 57.7,52.0 58.5,52.5 C59.3,53.0 59.9,55.4 59.5,56.0 C59.1,56.6 56.3,57.8 55.0,58.0 C53.7,58.2 49.4,58.1 48.5,57.5 C47.6,56.9 47.0,53.2 47.5,52.5Z"/><path d="M160.0,42.0 C160.9,40.6 164.4,38.4 166.0,38.0 C167.6,37.6 172.8,38.1 174.0,39.0 C175.2,39.9 176.5,44.2 176.5,46.0 C176.5,47.8 175.2,52.5 174.0,54.0 C172.8,55.5 167.6,58.1 166.0,58.5 C164.4,58.9 160.9,58.0 160.0,57.0 C159.1,56.0 158.5,51.8 158.5,50.0 C158.5,48.2 159.1,43.4 160.0,42.0Z"/><path d="M178.0,58.0 C179.4,57.1 187.0,56.6 190.0,56.5 C193.0,56.4 201.2,57.1 204.0,57.5 C206.8,57.9 213.1,59.1 214.0,60.0 C214.9,60.9 213.6,64.6 212.0,65.5 C210.4,66.4 203.0,67.3 200.0,67.5 C197.0,67.7 188.6,67.4 186.0,67.0 C183.4,66.6 178.9,65.0 178.0,64.0 C177.1,63.0 176.6,58.9 178.0,58.0Z"/></g></g></g></g>
<clipPath id="cp5"><rect x="340.5" y="460.5" width="271.1" height="152.2"/></clipPath>
<g clip-path="url(#cp5)"><g transform="translate(310.1 447.7)"><rect x="30.4" y="13.0" width="271.1" height="152.5" fill="#fff" filter="url(#nzW2)"/>
<rect x="30" y="13" width="272" height="153" fill="#e8ecfb" opacity="0.35"/>
<path d="M82.0,13.0 C88.7,10.2 117.0,10.2 124.0,13.0 C131.0,15.8 128.0,26.2 124.0,30.0 C120.0,33.8 106.7,36.0 100.0,36.0 C93.3,36.0 87.0,33.8 84.0,30.0 C81.0,26.2 75.3,15.8 82.0,13.0Z" fill="#fbe0e0" filter="url(#b4)"/>
<path d="M30.0,42.0 C36.7,38.5 63.0,40.3 70.0,45.0 C77.0,49.7 75.3,65.5 72.0,70.0 C68.7,74.5 57.0,72.7 50.0,72.0 C43.0,71.3 33.3,71.0 30.0,66.0 C26.7,61.0 23.3,45.5 30.0,42.0Z" fill="#fcecec" filter="url(#b5)"/>
<path d="M71.0,66.0 C72.8,61.3 86.8,63.3 95.0,64.0 C103.2,64.7 113.2,67.3 120.0,70.0 C126.8,72.7 134.3,75.8 136.0,80.0 C137.7,84.2 133.0,90.7 130.0,95.0 C127.0,99.3 123.0,104.2 118.0,106.0 C113.0,107.8 105.7,108.3 100.0,106.0 C94.3,103.7 88.8,98.7 84.0,92.0 C79.2,85.3 69.2,70.7 71.0,66.0Z" fill="#f8c6c6" filter="url(#b4)"/>
<path d="M94.0,80.0 C96.0,76.0 106.0,78.7 110.0,80.0 C114.0,81.3 117.3,84.0 118.0,88.0 C118.7,92.0 117.3,101.3 114.0,104.0 C110.7,106.7 101.3,108.0 98.0,104.0 C94.7,100.0 92.0,84.0 94.0,80.0Z" fill="#f4a2a2" filter="url(#b3)"/>
<ellipse cx="102" cy="101" rx="4" ry="3" fill="#e85050" filter="url(#b1)"/>
<path d="M175.0,82.0 C185.8,76.3 222.5,74.0 235.0,74.0 C247.5,74.0 247.8,76.8 250.0,82.0 C252.2,87.2 251.0,99.0 248.0,105.0 C245.0,111.0 242.5,115.5 232.0,118.0 C221.5,120.5 195.3,121.7 185.0,120.0 C174.7,118.3 171.7,114.3 170.0,108.0 C168.3,101.7 164.2,87.7 175.0,82.0Z" fill="#e2e6fa" filter="url(#b4)"/>
<path d="M246.0,76.0 C248.3,71.8 257.3,69.0 262.0,70.0 C266.7,71.0 272.3,76.3 274.0,82.0 C275.7,87.7 275.0,100.0 272.0,104.0 C269.0,108.0 260.0,107.5 256.0,106.0 C252.0,104.5 249.7,100.0 248.0,95.0 C246.3,90.0 243.7,80.2 246.0,76.0Z" fill="#fbe2e2" filter="url(#b4)"/>
<path d="M140.0,42.0 C150.0,40.7 181.7,39.7 200.0,40.0 C218.3,40.3 241.7,42.7 250.0,44.0 C258.3,45.3 258.3,47.7 250.0,48.0 C241.7,48.3 218.3,46.0 200.0,46.0 C181.7,46.0 150.0,48.7 140.0,48.0 C130.0,47.3 130.0,43.3 140.0,42.0Z" fill="#d0d6f8" filter="url(#b1)" opacity="0.8"/>
<path d="M174.0,83.0 C177.0,82.5 186.7,80.8 192.0,80.0 C197.3,79.2 202.3,79.0 206.0,78.5 C209.7,78.0 210.8,77.7 214.0,77.0 C217.2,76.3 221.8,75.4 225.0,74.5 C228.2,73.6 230.5,72.7 233.0,71.5 C235.5,70.3 238.3,69.2 240.0,67.5 C241.7,65.8 242.5,62.1 243.0,61.0" fill="none" stroke="#6070e8" stroke-width="1.1" opacity="0.7"/>
<path d="M240.0,58.0 C240.7,58.7 243.0,60.0 244.0,62.0 C245.0,64.0 245.7,68.7 246.0,70.0" fill="none" stroke="#e02020" stroke-width="1.2" opacity="0.8"/>
<g transform="translate(0.0 0.0)" fill="none" stroke="#1a1a1a" stroke-width="0.85" opacity="1"><path d="M173.7,84.3 C174.5,83.8 177.5,82.5 179.2,82.1 C180.9,81.7 185.8,81.4 188.1,81.0 C190.4,80.6 196.6,79.2 199.2,78.7 C201.8,78.2 207.7,77.0 210.3,76.5 C212.9,76.0 218.8,74.8 221.4,74.3 C224.0,73.8 230.4,72.6 232.5,72.1 C234.6,71.6 237.9,70.6 239.1,69.9 C240.3,69.2 242.6,67.5 243.0,66.5 C243.4,65.5 242.8,61.9 242.8,61.0 C242.8,60.1 243.1,58.8 243.4,58.6 C243.7,58.4 244.8,58.9 245.2,59.6 C245.6,60.3 246.6,63.0 246.9,64.3 C247.2,65.6 247.6,69.6 248.0,71.0 C248.4,72.4 249.4,75.7 250.2,76.5 C251.0,77.3 253.9,78.0 254.7,77.6 C255.5,77.2 256.6,74.2 256.9,73.2 C257.2,72.2 256.6,69.5 256.9,68.8 C257.2,68.1 258.5,67.2 259.1,67.6 C259.7,68.0 261.9,70.7 262.4,72.1 C262.9,73.5 263.4,78.4 263.5,79.8 C263.6,81.2 264.0,83.5 263.5,84.3 C263.0,85.1 260.1,85.9 259.1,86.5 C258.1,87.1 255.6,88.9 254.7,89.8 C253.8,90.7 252.3,93.8 251.3,94.3 C250.3,94.8 247.0,94.4 245.8,94.3 C244.6,94.2 242.1,93.9 241.3,93.2 C240.5,92.5 239.4,89.9 239.1,88.7 C238.8,87.5 239.4,83.7 239.1,83.2 C238.8,82.7 237.4,83.4 236.9,84.3 C236.4,85.2 235.1,88.8 234.7,90.9 C234.3,93.0 234.0,99.9 233.6,102.0 C233.2,104.1 232.1,107.1 231.4,108.7 C230.7,110.3 228.9,114.3 228.0,115.3 C227.1,116.3 224.8,117.6 223.6,117.6 C222.4,117.6 219.2,116.1 218.0,115.3 C216.8,114.5 214.2,112.5 213.6,110.9 C213.0,109.3 212.9,103.6 212.5,102.0 C212.1,100.4 210.8,98.2 210.3,97.6 C209.8,97.0 208.6,96.0 208.1,96.5 C207.6,97.0 206.1,100.4 205.8,102.0 C205.5,103.6 206.2,108.4 205.8,109.8 C205.4,111.2 203.5,113.6 202.5,114.2 C201.5,114.8 198.3,115.4 197.0,115.3 C195.7,115.2 192.2,114.1 191.4,113.1 C190.6,112.1 190.0,107.7 190.3,106.5 C190.6,105.3 192.6,103.5 193.6,103.2 C194.6,102.9 198.3,104.7 199.2,104.3 C200.1,103.9 201.9,100.7 201.4,99.8 C200.9,98.9 196.3,97.0 194.7,96.5 C193.1,96.0 189.3,95.3 188.1,95.4 C186.9,95.5 185.8,97.0 184.8,97.6 C183.8,98.2 180.4,100.6 179.2,100.9 C178.0,101.2 175.4,100.4 174.8,99.8 C174.2,99.2 173.4,96.2 173.7,95.4 C174.0,94.6 175.6,93.3 177.0,93.2 C178.4,93.1 184.7,94.4 185.9,94.3 C187.1,94.2 187.8,92.6 187.0,92.1 C186.2,91.6 180.8,90.2 179.2,89.8 C177.6,89.4 174.5,89.1 173.7,88.7 C172.9,88.3 172.6,87.0 172.6,86.5 C172.6,86.0 172.9,84.8 173.7,84.3Z"/><path d="M214.7,84.3 C215.4,83.8 218.6,82.8 220.3,82.1 C222.0,81.4 227.7,78.8 229.1,78.7 C230.5,78.6 232.4,80.0 232.5,80.9 C232.6,81.8 231.0,85.2 230.2,86.5 C229.4,87.8 226.4,90.7 225.8,92.1 C225.2,93.5 224.7,97.5 224.7,98.7 C224.7,99.9 225.9,101.6 225.8,102.0 C225.7,102.4 224.2,102.5 223.6,102.0 C223.0,101.5 220.8,98.8 220.3,97.6 C219.8,96.4 219.7,93.0 219.2,92.1 C218.7,91.2 216.3,90.5 215.8,89.8 C215.3,89.1 214.8,87.1 214.7,86.5 C214.6,85.9 214.0,84.8 214.7,84.3Z"/><path d="M83.8,93.4 C84.2,93.0 86.8,92.5 87.7,92.7 C88.6,92.9 90.8,94.6 91.6,95.3 C92.4,96.0 93.5,98.0 94.3,98.6 C95.1,99.2 97.4,100.1 98.2,100.6 C99.0,101.1 100.6,102.4 100.8,103.2 C101.0,104.0 100.4,106.4 100.1,107.1 C99.8,107.8 98.7,109.0 98.2,109.0 C97.7,109.0 96.2,107.6 95.6,107.1 C95.0,106.6 93.8,105.4 93.0,105.1 C92.2,104.8 89.8,104.7 89.0,104.5 C88.2,104.3 86.9,103.7 86.4,103.2 C85.9,102.7 85.1,101.2 85.1,100.6 C85.1,100.0 86.5,98.4 86.4,97.9 C86.3,97.4 84.8,96.5 84.5,96.0 C84.2,95.5 83.4,93.8 83.8,93.4Z"/><path d="M104.0,115.6 C103.6,116.1 102.2,117.5 102.1,118.2 C102.0,118.9 103.4,120.6 103.4,121.4 C103.4,122.2 102.0,124.6 102.1,125.4 C102.2,126.2 104.0,127.4 104.0,128.0 C104.0,128.6 102.4,129.8 102.1,130.6 C101.8,131.4 101.6,133.6 101.4,134.5 C101.2,135.4 100.5,137.6 100.1,138.4 C99.7,139.2 98.6,140.4 98.2,141.0 C97.8,141.6 97.4,143.0 96.9,143.6 C96.4,144.2 94.2,145.9 94.3,146.2 C94.4,146.5 96.7,146.3 97.5,146.2 C98.3,146.1 99.8,145.4 100.8,145.6 C101.8,145.8 104.8,147.7 106.0,148.2 C107.2,148.7 110.0,149.4 111.2,149.5 C112.4,149.6 115.3,149.2 116.5,148.9 C117.7,148.6 120.9,147.4 121.7,146.9 C122.5,146.4 123.2,145.4 123.0,144.9 C122.8,144.4 121.2,142.9 120.4,142.3 C119.6,141.7 117.3,140.2 116.5,139.7 C115.7,139.2 114.2,139.0 113.8,138.4 C113.4,137.8 113.5,135.4 113.2,134.5 C112.9,133.6 111.7,131.4 111.2,130.6 C110.7,129.8 109.5,128.8 109.3,128.0 C109.1,127.2 109.7,125.0 109.9,124.0 C110.1,123.0 110.6,120.6 110.6,119.5 C110.6,118.4 109.8,115.7 109.9,114.9 C110.0,114.1 110.9,113.5 111.2,113.0 C111.5,112.5 112.7,110.8 112.5,110.3 C112.3,109.8 110.5,109.1 109.9,109.0 C109.3,108.9 107.8,109.4 107.3,109.7 C106.8,110.0 106.2,111.1 106.0,111.6 C105.8,112.1 105.6,113.7 105.4,114.2 C105.2,114.7 104.4,115.1 104.0,115.6Z"/><path d="M83.8,118.8 C84.2,118.5 86.6,117.9 87.7,117.5 C88.8,117.1 92.0,116.0 93.0,115.6 C94.0,115.2 95.7,114.1 96.2,114.3 C96.7,114.5 97.1,116.4 96.9,116.9 C96.7,117.4 95.1,118.5 94.3,118.8 C93.5,119.1 91.2,119.3 90.3,119.5 C89.4,119.7 87.1,120.1 86.4,120.1 C85.7,120.1 84.8,120.1 84.5,119.9 C84.2,119.7 83.4,119.1 83.8,118.8Z"/><path d="M117.8,118.2 C117.8,117.7 118.2,115.3 119.0,114.3 C119.8,113.3 123.1,110.8 124.3,109.7 C125.5,108.6 128.3,106.1 129.5,105.1 C130.7,104.1 133.3,102.0 134.7,101.2 C136.1,100.4 139.9,98.7 141.3,97.9 C142.7,97.1 145.1,95.2 146.5,94.7 C147.9,94.2 151.9,93.3 153.0,93.4 C154.1,93.5 155.4,94.6 155.6,95.3 C155.8,96.0 154.8,98.3 154.3,99.2 C153.8,100.1 151.5,102.1 151.0,103.2 C150.5,104.3 150.6,107.3 150.4,108.4 C150.2,109.5 149.6,111.5 149.1,112.3 C148.6,113.1 146.6,114.5 145.8,114.9 C145.0,115.3 143.4,115.7 142.6,115.6 C141.8,115.5 139.5,114.5 138.6,114.3 C137.7,114.1 135.6,114.4 134.7,114.3 C133.8,114.2 131.7,114.0 130.8,113.6 C129.9,113.2 127.7,111.2 126.9,111.0 C126.1,110.8 124.8,111.2 124.3,111.6 C123.8,112.0 123.3,113.7 123.0,114.3 C122.7,114.9 122.2,116.4 121.7,116.9 C121.2,117.4 119.5,118.0 119.0,118.2 C118.5,118.4 117.8,118.7 117.8,118.2Z"/><path d="M121.7,117.5 C122.2,117.0 124.5,116.4 125.6,116.2 C126.7,116.0 129.6,116.0 130.8,116.2 C132.0,116.4 134.9,117.5 136.0,118.2 C137.1,118.9 139.8,121.1 140.6,122.1 C141.4,123.1 142.5,125.7 142.6,126.7 C142.7,127.7 141.9,130.0 141.3,130.6 C140.7,131.2 138.2,131.8 137.3,131.9 C136.4,132.0 134.2,131.6 133.4,131.2 C132.6,130.8 131.1,129.1 130.2,128.6 C129.3,128.1 126.4,127.2 125.6,126.7 C124.8,126.2 123.5,124.7 123.0,124.0 C122.5,123.3 121.9,121.6 121.7,120.8 C121.5,120.0 121.2,118.0 121.7,117.5Z"/><path d="M43.2,118.7 C43.6,118.2 45.6,117.5 46.5,117.6 C47.4,117.7 50.4,119.0 51.0,119.8 C51.6,120.6 51.9,123.6 51.6,124.3 C51.3,125.0 49.7,125.4 48.8,125.4 C47.9,125.4 45.0,124.7 44.3,124.3 C43.6,123.9 42.9,122.7 42.8,122.0 C42.7,121.3 42.8,119.2 43.2,118.7Z"/><path d="M46.5,126.5 C47.1,126.2 50.3,126.7 51.0,127.1 C51.7,127.5 52.8,129.2 52.8,129.8 C52.8,130.4 51.6,132.2 51.0,132.5 C50.4,132.8 48.2,132.4 47.6,132.0 C47.0,131.6 46.2,130.0 46.1,129.4 C46.0,128.8 45.9,126.8 46.5,126.5Z"/><path d="M71.0,119.6 C71.4,118.8 74.4,117.8 75.4,117.6 C76.4,117.4 78.8,117.7 79.2,118.3 C79.6,118.9 79.1,122.3 78.7,123.1 C78.3,123.9 76.2,124.8 75.4,124.9 C74.6,125.0 72.6,124.9 72.1,124.3 C71.6,123.7 70.6,120.4 71.0,119.6Z"/><path d="M228.3,12.8 C227.7,13.1 228.6,15.0 229.2,15.5 C229.8,16.0 233.0,16.9 233.7,17.4 C234.4,17.9 235.0,19.5 235.6,20.1 C236.2,20.7 238.5,22.2 239.2,22.9 C239.9,23.6 241.4,26.0 242.0,26.5 C242.6,27.0 244.3,27.6 244.7,27.4 C245.1,27.2 245.8,25.3 245.6,24.7 C245.4,24.1 243.4,22.5 242.9,21.9 C242.4,21.3 241.4,19.8 241.1,19.2 C240.8,18.6 240.6,16.8 240.1,16.5 C239.6,16.2 237.2,16.7 236.5,16.5 C235.8,16.3 233.9,15.0 233.7,14.6 C233.5,14.2 235.2,13.0 234.6,12.8 C234.0,12.6 228.9,12.5 228.3,12.8Z"/><ellipse cx="165" cy="97" rx="2.5" ry="2"/><ellipse cx="263.9" cy="37.9" rx="2.7" ry="3.2"/><ellipse cx="150.3" cy="53.3" rx="1.7" ry="2.8"/><ellipse cx="261.8" cy="104.8" rx="1.7" ry="1.7"/><ellipse cx="280.2" cy="105.4" rx="2.2" ry="3.4"/><ellipse cx="269.6" cy="122" rx="1.7" ry="1.1"/><g stroke-dasharray="2.6 1.8"><path d="M83.0,12.5 C83.3,13.6 84.5,19.9 85.4,21.7 C86.3,23.5 89.4,27.0 91.0,28.3 C92.6,29.6 96.6,32.7 98.7,32.8 C100.8,32.9 107.0,29.3 108.7,29.4 C110.4,29.5 111.9,34.0 113.2,33.9 C114.5,33.8 118.0,29.2 119.8,28.3 C121.6,27.4 126.4,26.7 128.7,26.1 C131.0,25.5 137.5,22.8 139.8,22.8 C142.1,22.8 146.6,25.8 148.7,26.1 C150.8,26.4 155.7,25.5 157.5,25.0 C159.3,24.5 163.2,22.7 164.2,21.7 C165.2,20.7 166.1,17.2 166.4,16.1 C166.7,15.0 166.4,12.9 166.4,12.5"/><path d="M179.7,12.5 C179.7,13.0 179.8,15.6 179.7,17.2 C179.6,18.8 178.3,24.3 178.6,26.1 C178.9,27.9 180.7,32.1 181.9,32.8 C183.1,33.5 187.7,32.7 188.6,31.7 C189.5,30.7 189.8,26.1 189.7,23.9 C189.6,21.7 188.3,13.8 188.1,12.5"/><path d="M112.0,43.9 C112.5,43.8 116.2,48.2 117.6,49.4 C119.0,50.6 122.6,53.1 124.2,53.8 C125.8,54.5 129.6,54.6 130.9,55.0 C132.2,55.4 134.5,56.5 135.3,57.2 C136.1,57.9 138.3,60.4 138.0,61.0 C137.7,61.6 134.2,62.5 133.1,62.5 C132.0,62.5 129.8,61.5 128.7,61.0 C127.6,60.5 125.2,58.6 124.0,58.0 C122.8,57.4 119.3,56.9 118.0,56.0 C116.7,55.1 113.7,51.4 113.0,50.0 C112.3,48.6 111.5,44.0 112.0,43.9Z"/><path d="M62.0,60.0 C62.6,59.2 64.7,58.0 66.0,58.5 C67.3,59.0 71.3,63.7 73.2,64.5 C75.1,65.3 80.0,64.8 82.1,65.0 C84.2,65.2 88.9,66.6 91.0,66.3 C93.1,66.0 98.0,63.3 99.8,62.8 C101.6,62.3 104.8,62.2 106.5,62.2 C108.2,62.2 112.5,62.4 114.0,63.0 C115.5,63.6 118.7,66.0 119.0,67.0 C119.3,68.0 118.3,71.2 117.0,72.0 C115.7,72.8 110.0,73.3 108.0,74.0 C106.0,74.7 101.0,76.7 100.0,78.0 C99.0,79.3 98.1,83.8 99.0,85.0 C99.9,86.2 105.3,87.4 108.0,88.0 C110.7,88.6 119.4,89.5 122.0,90.0 C124.6,90.5 129.3,91.3 130.0,92.0 C130.7,92.7 129.4,95.4 128.0,96.0 C126.6,96.6 120.8,96.9 118.0,97.0 C115.2,97.1 106.6,97.0 104.0,96.5 C101.4,96.0 97.6,94.2 96.0,93.0 C94.4,91.8 91.5,87.5 90.0,86.0 C88.5,84.5 85.1,81.2 83.0,80.0 C80.9,78.8 74.3,77.0 72.0,76.0 C69.7,75.0 64.3,72.3 63.0,71.0 C61.7,69.7 61.1,66.3 61.0,65.0 C60.9,63.7 61.4,60.8 62.0,60.0Z"/><path d="M47.5,52.5 C48.0,51.8 51.7,51.5 53.0,51.5 C54.3,51.5 57.7,52.0 58.5,52.5 C59.3,53.0 59.9,55.4 59.5,56.0 C59.1,56.6 56.3,57.8 55.0,58.0 C53.7,58.2 49.4,58.1 48.5,57.5 C47.6,56.9 47.0,53.2 47.5,52.5Z"/><path d="M160.0,42.0 C160.9,40.6 164.4,38.4 166.0,38.0 C167.6,37.6 172.8,38.1 174.0,39.0 C175.2,39.9 176.5,44.2 176.5,46.0 C176.5,47.8 175.2,52.5 174.0,54.0 C172.8,55.5 167.6,58.1 166.0,58.5 C164.4,58.9 160.9,58.0 160.0,57.0 C159.1,56.0 158.5,51.8 158.5,50.0 C158.5,48.2 159.1,43.4 160.0,42.0Z"/><path d="M178.0,58.0 C179.4,57.1 187.0,56.6 190.0,56.5 C193.0,56.4 201.2,57.1 204.0,57.5 C206.8,57.9 213.1,59.1 214.0,60.0 C214.9,60.9 213.6,64.6 212.0,65.5 C210.4,66.4 203.0,67.3 200.0,67.5 C197.0,67.7 188.6,67.4 186.0,67.0 C183.4,66.6 178.9,65.0 178.0,64.0 C177.1,63.0 176.6,58.9 178.0,58.0Z"/></g></g></g></g>
<clipPath id="cp6"><rect x="30.4" y="683.9" width="271.1" height="152.2"/></clipPath>
<g clip-path="url(#cp6)"><g transform="translate(0.0 671.1)"><rect x="30.4" y="13.0" width="271.1" height="152.5" fill="#fff" filter="url(#nzD)"/>
<path d="M172.0,78.0 C178.7,73.8 188.7,76.3 200.0,75.0 C211.3,73.7 229.7,69.8 240.0,70.0 C250.3,70.2 257.7,71.0 262.0,76.0 C266.3,81.0 266.7,93.0 266.0,100.0 C265.3,107.0 262.3,114.0 258.0,118.0 C253.7,122.0 248.0,123.0 240.0,124.0 C232.0,125.0 220.0,123.7 210.0,124.0 C200.0,124.3 187.5,127.0 180.0,126.0 C172.5,125.0 168.3,122.3 165.0,118.0 C161.7,113.7 158.8,106.7 160.0,100.0 C161.2,93.3 165.3,82.2 172.0,78.0Z" fill="#bcc6f6" filter="url(#b3)"/>
<path d="M100.0,112.0 C108.0,107.7 128.0,105.3 140.0,104.0 C152.0,102.7 166.7,100.5 172.0,104.0 C177.3,107.5 174.0,118.2 172.0,125.0 C170.0,131.8 167.0,139.5 160.0,145.0 C153.0,150.5 140.0,155.8 130.0,158.0 C120.0,160.2 106.3,162.7 100.0,158.0 C93.7,153.3 92.0,137.7 92.0,130.0 C92.0,122.3 92.0,116.3 100.0,112.0Z" fill="#d4daf8" filter="url(#b5)" opacity="0.9900000000000001"/>
<path d="M30.0,110.0 C38.3,102.3 69.2,114.2 80.0,120.0 C90.8,125.8 95.0,137.3 95.0,145.0 C95.0,152.7 90.8,162.5 80.0,166.0 C69.2,169.5 38.3,175.3 30.0,166.0 C21.7,156.7 21.7,117.7 30.0,110.0Z" fill="#e6e9fb" filter="url(#b5)" opacity="0.6"/>
<path d="M55.0,54.0 C59.2,53.2 72.5,56.3 80.0,57.0 C87.5,57.7 97.5,56.5 100.0,58.0 C102.5,59.5 100.0,64.7 95.0,66.0 C90.0,67.3 76.7,66.7 70.0,66.0 C63.3,65.3 57.5,64.0 55.0,62.0 C52.5,60.0 50.8,54.8 55.0,54.0Z" fill="#c0c8f4" filter="url(#b2)" opacity="0.77"/>
<path d="M278.0,26.0 C281.7,22.2 298.0,20.3 302.0,24.0 C306.0,27.7 305.7,44.2 302.0,48.0 C298.3,51.8 284.0,50.7 280.0,47.0 C276.0,43.3 274.3,29.8 278.0,26.0Z" fill="#f4b4b4" filter="url(#b2)" opacity="0.9"/>
<path d="M247.0,66.0 C249.0,63.0 255.0,64.3 258.0,66.0 C261.0,67.7 264.0,72.0 265.0,76.0 C266.0,80.0 266.2,87.0 264.0,90.0 C261.8,93.0 255.0,95.0 252.0,94.0 C249.0,93.0 246.8,88.7 246.0,84.0 C245.2,79.3 245.0,69.0 247.0,66.0Z" fill="#f6c4c4" filter="url(#b2)" opacity="0.9"/>
<path d="M72.0,62.0 C73.7,58.3 79.8,58.5 84.0,57.4 C88.2,56.2 91.2,56.0 97.0,55.1 C102.8,54.2 111.0,52.4 119.1,52.0 C127.2,51.6 136.8,52.6 145.7,52.9 C154.6,53.2 163.5,53.9 172.4,53.8 C181.3,53.6 190.9,52.0 199.0,52.0 C207.1,52.0 214.5,53.0 221.2,53.8 C227.8,54.5 234.5,55.2 238.9,56.5 C243.3,57.8 247.8,59.8 247.8,61.8 C247.8,63.8 243.3,66.7 238.9,68.5 C234.5,70.3 227.8,71.4 221.2,72.9 C214.5,74.4 206.4,75.6 199.0,77.3 C191.6,79.0 183.5,80.6 176.8,83.1 C170.1,85.5 164.9,88.9 159.0,92.0 C153.1,95.1 147.2,98.2 141.3,101.7 C135.4,105.2 129.5,110.2 123.6,112.8 C117.7,115.4 111.0,118.0 105.8,117.3 C100.6,116.6 96.1,112.1 92.5,108.4 C88.9,104.7 87.1,99.9 84.0,95.1 C80.9,90.3 76.0,85.0 74.0,79.5 C72.0,74.0 70.3,65.7 72.0,62.0Z" fill="#f6aaaa" filter="url(#b3)"/>
<path d="M97.0,66.2 C101.4,63.2 111.0,60.3 119.1,59.6 C127.2,58.9 136.8,60.8 145.7,61.8 C154.6,62.8 166.5,63.6 172.4,65.4 C178.3,67.2 182.7,69.8 181.2,72.9 C179.7,76.0 169.4,80.3 163.5,84.0 C157.6,87.7 151.6,91.8 145.7,95.1 C139.8,98.4 133.9,102.9 128.0,104.0 C122.1,105.1 114.7,104.3 110.3,101.7 C105.9,99.1 104.4,92.5 101.4,88.4 C98.4,84.3 93.2,81.0 92.5,77.3 C91.8,73.6 92.6,69.2 97.0,66.2Z" fill="#f07070" filter="url(#b3)" opacity="0.8800000000000001"/>
<path d="M110.0,68.0 C113.7,65.3 122.8,65.3 128.0,66.0 C133.2,66.7 139.3,68.3 141.0,72.0 C142.7,75.7 140.5,83.8 138.0,88.0 C135.5,92.2 130.3,95.7 126.0,97.0 C121.7,98.3 115.3,98.5 112.0,96.0 C108.7,93.5 106.3,86.7 106.0,82.0 C105.7,77.3 106.3,70.7 110.0,68.0Z" fill="#ea4c4c" filter="url(#b3)" opacity="0.8250000000000001"/>
<path d="M98.0,98.0 C99.3,95.3 105.3,95.0 108.0,96.0 C110.7,97.0 113.7,101.0 114.0,104.0 C114.3,107.0 112.3,112.7 110.0,114.0 C107.7,115.3 102.0,114.7 100.0,112.0 C98.0,109.3 96.7,100.7 98.0,98.0Z" fill="#e42222" filter="url(#b2)" opacity="0.9900000000000001"/>
<path d="M160.0,66.0 C163.8,63.7 183.0,64.0 188.0,66.0 C193.0,68.0 193.8,75.7 190.0,78.0 C186.2,80.3 170.0,82.0 165.0,80.0 C160.0,78.0 156.2,68.3 160.0,66.0Z" fill="#ee7070" filter="url(#b3)" opacity="0.66"/>
<path d="M176.0,76.0 C179.7,74.5 191.8,73.5 200.0,72.0 C208.2,70.5 218.3,69.0 225.0,67.0 C231.7,65.0 236.8,60.8 240.0,60.0 C243.2,59.2 244.3,60.0 244.0,62.0 C243.7,64.0 242.0,69.7 238.0,72.0 C234.0,74.3 226.7,74.8 220.0,76.0 C213.3,77.2 205.0,78.2 198.0,79.0 C191.0,79.8 181.7,81.5 178.0,81.0 C174.3,80.5 172.3,77.5 176.0,76.0Z" fill="#f29090" filter="url(#b2)" opacity="0.77"/>
<path d="M174.0,83.0 C177.0,82.5 186.7,80.8 192.0,80.0 C197.3,79.2 202.3,79.0 206.0,78.5 C209.7,78.0 210.8,77.7 214.0,77.0 C217.2,76.3 221.8,75.4 225.0,74.5 C228.2,73.6 230.5,72.7 233.0,71.5 C235.5,70.3 238.3,69.2 240.0,67.5 C241.7,65.8 242.5,62.1 243.0,61.0" fill="none" stroke="#3040e0" stroke-width="1.3" opacity="0.85"/>
<path d="M240.0,58.0 C240.7,58.7 243.0,60.0 244.0,62.0 C245.0,64.0 245.7,68.7 246.0,70.0" fill="none" stroke="#e02020" stroke-width="1.3" opacity="0.8"/>
<g transform="translate(0.0 0.0)" fill="none" stroke="#1a1a1a" stroke-width="0.85" opacity="1"><path d="M173.7,84.3 C174.5,83.8 177.5,82.5 179.2,82.1 C180.9,81.7 185.8,81.4 188.1,81.0 C190.4,80.6 196.6,79.2 199.2,78.7 C201.8,78.2 207.7,77.0 210.3,76.5 C212.9,76.0 218.8,74.8 221.4,74.3 C224.0,73.8 230.4,72.6 232.5,72.1 C234.6,71.6 237.9,70.6 239.1,69.9 C240.3,69.2 242.6,67.5 243.0,66.5 C243.4,65.5 242.8,61.9 242.8,61.0 C242.8,60.1 243.1,58.8 243.4,58.6 C243.7,58.4 244.8,58.9 245.2,59.6 C245.6,60.3 246.6,63.0 246.9,64.3 C247.2,65.6 247.6,69.6 248.0,71.0 C248.4,72.4 249.4,75.7 250.2,76.5 C251.0,77.3 253.9,78.0 254.7,77.6 C255.5,77.2 256.6,74.2 256.9,73.2 C257.2,72.2 256.6,69.5 256.9,68.8 C257.2,68.1 258.5,67.2 259.1,67.6 C259.7,68.0 261.9,70.7 262.4,72.1 C262.9,73.5 263.4,78.4 263.5,79.8 C263.6,81.2 264.0,83.5 263.5,84.3 C263.0,85.1 260.1,85.9 259.1,86.5 C258.1,87.1 255.6,88.9 254.7,89.8 C253.8,90.7 252.3,93.8 251.3,94.3 C250.3,94.8 247.0,94.4 245.8,94.3 C244.6,94.2 242.1,93.9 241.3,93.2 C240.5,92.5 239.4,89.9 239.1,88.7 C238.8,87.5 239.4,83.7 239.1,83.2 C238.8,82.7 237.4,83.4 236.9,84.3 C236.4,85.2 235.1,88.8 234.7,90.9 C234.3,93.0 234.0,99.9 233.6,102.0 C233.2,104.1 232.1,107.1 231.4,108.7 C230.7,110.3 228.9,114.3 228.0,115.3 C227.1,116.3 224.8,117.6 223.6,117.6 C222.4,117.6 219.2,116.1 218.0,115.3 C216.8,114.5 214.2,112.5 213.6,110.9 C213.0,109.3 212.9,103.6 212.5,102.0 C212.1,100.4 210.8,98.2 210.3,97.6 C209.8,97.0 208.6,96.0 208.1,96.5 C207.6,97.0 206.1,100.4 205.8,102.0 C205.5,103.6 206.2,108.4 205.8,109.8 C205.4,111.2 203.5,113.6 202.5,114.2 C201.5,114.8 198.3,115.4 197.0,115.3 C195.7,115.2 192.2,114.1 191.4,113.1 C190.6,112.1 190.0,107.7 190.3,106.5 C190.6,105.3 192.6,103.5 193.6,103.2 C194.6,102.9 198.3,104.7 199.2,104.3 C200.1,103.9 201.9,100.7 201.4,99.8 C200.9,98.9 196.3,97.0 194.7,96.5 C193.1,96.0 189.3,95.3 188.1,95.4 C186.9,95.5 185.8,97.0 184.8,97.6 C183.8,98.2 180.4,100.6 179.2,100.9 C178.0,101.2 175.4,100.4 174.8,99.8 C174.2,99.2 173.4,96.2 173.7,95.4 C174.0,94.6 175.6,93.3 177.0,93.2 C178.4,93.1 184.7,94.4 185.9,94.3 C187.1,94.2 187.8,92.6 187.0,92.1 C186.2,91.6 180.8,90.2 179.2,89.8 C177.6,89.4 174.5,89.1 173.7,88.7 C172.9,88.3 172.6,87.0 172.6,86.5 C172.6,86.0 172.9,84.8 173.7,84.3Z"/><path d="M214.7,84.3 C215.4,83.8 218.6,82.8 220.3,82.1 C222.0,81.4 227.7,78.8 229.1,78.7 C230.5,78.6 232.4,80.0 232.5,80.9 C232.6,81.8 231.0,85.2 230.2,86.5 C229.4,87.8 226.4,90.7 225.8,92.1 C225.2,93.5 224.7,97.5 224.7,98.7 C224.7,99.9 225.9,101.6 225.8,102.0 C225.7,102.4 224.2,102.5 223.6,102.0 C223.0,101.5 220.8,98.8 220.3,97.6 C219.8,96.4 219.7,93.0 219.2,92.1 C218.7,91.2 216.3,90.5 215.8,89.8 C215.3,89.1 214.8,87.1 214.7,86.5 C214.6,85.9 214.0,84.8 214.7,84.3Z"/><path d="M83.8,93.4 C84.2,93.0 86.8,92.5 87.7,92.7 C88.6,92.9 90.8,94.6 91.6,95.3 C92.4,96.0 93.5,98.0 94.3,98.6 C95.1,99.2 97.4,100.1 98.2,100.6 C99.0,101.1 100.6,102.4 100.8,103.2 C101.0,104.0 100.4,106.4 100.1,107.1 C99.8,107.8 98.7,109.0 98.2,109.0 C97.7,109.0 96.2,107.6 95.6,107.1 C95.0,106.6 93.8,105.4 93.0,105.1 C92.2,104.8 89.8,104.7 89.0,104.5 C88.2,104.3 86.9,103.7 86.4,103.2 C85.9,102.7 85.1,101.2 85.1,100.6 C85.1,100.0 86.5,98.4 86.4,97.9 C86.3,97.4 84.8,96.5 84.5,96.0 C84.2,95.5 83.4,93.8 83.8,93.4Z"/><path d="M104.0,115.6 C103.6,116.1 102.2,117.5 102.1,118.2 C102.0,118.9 103.4,120.6 103.4,121.4 C103.4,122.2 102.0,124.6 102.1,125.4 C102.2,126.2 104.0,127.4 104.0,128.0 C104.0,128.6 102.4,129.8 102.1,130.6 C101.8,131.4 101.6,133.6 101.4,134.5 C101.2,135.4 100.5,137.6 100.1,138.4 C99.7,139.2 98.6,140.4 98.2,141.0 C97.8,141.6 97.4,143.0 96.9,143.6 C96.4,144.2 94.2,145.9 94.3,146.2 C94.4,146.5 96.7,146.3 97.5,146.2 C98.3,146.1 99.8,145.4 100.8,145.6 C101.8,145.8 104.8,147.7 106.0,148.2 C107.2,148.7 110.0,149.4 111.2,149.5 C112.4,149.6 115.3,149.2 116.5,148.9 C117.7,148.6 120.9,147.4 121.7,146.9 C122.5,146.4 123.2,145.4 123.0,144.9 C122.8,144.4 121.2,142.9 120.4,142.3 C119.6,141.7 117.3,140.2 116.5,139.7 C115.7,139.2 114.2,139.0 113.8,138.4 C113.4,137.8 113.5,135.4 113.2,134.5 C112.9,133.6 111.7,131.4 111.2,130.6 C110.7,129.8 109.5,128.8 109.3,128.0 C109.1,127.2 109.7,125.0 109.9,124.0 C110.1,123.0 110.6,120.6 110.6,119.5 C110.6,118.4 109.8,115.7 109.9,114.9 C110.0,114.1 110.9,113.5 111.2,113.0 C111.5,112.5 112.7,110.8 112.5,110.3 C112.3,109.8 110.5,109.1 109.9,109.0 C109.3,108.9 107.8,109.4 107.3,109.7 C106.8,110.0 106.2,111.1 106.0,111.6 C105.8,112.1 105.6,113.7 105.4,114.2 C105.2,114.7 104.4,115.1 104.0,115.6Z"/><path d="M83.8,118.8 C84.2,118.5 86.6,117.9 87.7,117.5 C88.8,117.1 92.0,116.0 93.0,115.6 C94.0,115.2 95.7,114.1 96.2,114.3 C96.7,114.5 97.1,116.4 96.9,116.9 C96.7,117.4 95.1,118.5 94.3,118.8 C93.5,119.1 91.2,119.3 90.3,119.5 C89.4,119.7 87.1,120.1 86.4,120.1 C85.7,120.1 84.8,120.1 84.5,119.9 C84.2,119.7 83.4,119.1 83.8,118.8Z"/><path d="M117.8,118.2 C117.8,117.7 118.2,115.3 119.0,114.3 C119.8,113.3 123.1,110.8 124.3,109.7 C125.5,108.6 128.3,106.1 129.5,105.1 C130.7,104.1 133.3,102.0 134.7,101.2 C136.1,100.4 139.9,98.7 141.3,97.9 C142.7,97.1 145.1,95.2 146.5,94.7 C147.9,94.2 151.9,93.3 153.0,93.4 C154.1,93.5 155.4,94.6 155.6,95.3 C155.8,96.0 154.8,98.3 154.3,99.2 C153.8,100.1 151.5,102.1 151.0,103.2 C150.5,104.3 150.6,107.3 150.4,108.4 C150.2,109.5 149.6,111.5 149.1,112.3 C148.6,113.1 146.6,114.5 145.8,114.9 C145.0,115.3 143.4,115.7 142.6,115.6 C141.8,115.5 139.5,114.5 138.6,114.3 C137.7,114.1 135.6,114.4 134.7,114.3 C133.8,114.2 131.7,114.0 130.8,113.6 C129.9,113.2 127.7,111.2 126.9,111.0 C126.1,110.8 124.8,111.2 124.3,111.6 C123.8,112.0 123.3,113.7 123.0,114.3 C122.7,114.9 122.2,116.4 121.7,116.9 C121.2,117.4 119.5,118.0 119.0,118.2 C118.5,118.4 117.8,118.7 117.8,118.2Z"/><path d="M121.7,117.5 C122.2,117.0 124.5,116.4 125.6,116.2 C126.7,116.0 129.6,116.0 130.8,116.2 C132.0,116.4 134.9,117.5 136.0,118.2 C137.1,118.9 139.8,121.1 140.6,122.1 C141.4,123.1 142.5,125.7 142.6,126.7 C142.7,127.7 141.9,130.0 141.3,130.6 C140.7,131.2 138.2,131.8 137.3,131.9 C136.4,132.0 134.2,131.6 133.4,131.2 C132.6,130.8 131.1,129.1 130.2,128.6 C129.3,128.1 126.4,127.2 125.6,126.7 C124.8,126.2 123.5,124.7 123.0,124.0 C122.5,123.3 121.9,121.6 121.7,120.8 C121.5,120.0 121.2,118.0 121.7,117.5Z"/><path d="M43.2,118.7 C43.6,118.2 45.6,117.5 46.5,117.6 C47.4,117.7 50.4,119.0 51.0,119.8 C51.6,120.6 51.9,123.6 51.6,124.3 C51.3,125.0 49.7,125.4 48.8,125.4 C47.9,125.4 45.0,124.7 44.3,124.3 C43.6,123.9 42.9,122.7 42.8,122.0 C42.7,121.3 42.8,119.2 43.2,118.7Z"/><path d="M46.5,126.5 C47.1,126.2 50.3,126.7 51.0,127.1 C51.7,127.5 52.8,129.2 52.8,129.8 C52.8,130.4 51.6,132.2 51.0,132.5 C50.4,132.8 48.2,132.4 47.6,132.0 C47.0,131.6 46.2,130.0 46.1,129.4 C46.0,128.8 45.9,126.8 46.5,126.5Z"/><path d="M71.0,119.6 C71.4,118.8 74.4,117.8 75.4,117.6 C76.4,117.4 78.8,117.7 79.2,118.3 C79.6,118.9 79.1,122.3 78.7,123.1 C78.3,123.9 76.2,124.8 75.4,124.9 C74.6,125.0 72.6,124.9 72.1,124.3 C71.6,123.7 70.6,120.4 71.0,119.6Z"/><path d="M228.3,12.8 C227.7,13.1 228.6,15.0 229.2,15.5 C229.8,16.0 233.0,16.9 233.7,17.4 C234.4,17.9 235.0,19.5 235.6,20.1 C236.2,20.7 238.5,22.2 239.2,22.9 C239.9,23.6 241.4,26.0 242.0,26.5 C242.6,27.0 244.3,27.6 244.7,27.4 C245.1,27.2 245.8,25.3 245.6,24.7 C245.4,24.1 243.4,22.5 242.9,21.9 C242.4,21.3 241.4,19.8 241.1,19.2 C240.8,18.6 240.6,16.8 240.1,16.5 C239.6,16.2 237.2,16.7 236.5,16.5 C235.8,16.3 233.9,15.0 233.7,14.6 C233.5,14.2 235.2,13.0 234.6,12.8 C234.0,12.6 228.9,12.5 228.3,12.8Z"/><ellipse cx="165" cy="97" rx="2.5" ry="2"/><ellipse cx="263.9" cy="37.9" rx="2.7" ry="3.2"/><ellipse cx="150.3" cy="53.3" rx="1.7" ry="2.8"/><ellipse cx="261.8" cy="104.8" rx="1.7" ry="1.7"/><ellipse cx="280.2" cy="105.4" rx="2.2" ry="3.4"/><ellipse cx="269.6" cy="122" rx="1.7" ry="1.1"/><g stroke-dasharray="2.6 1.8"><path d="M83.0,12.5 C83.3,13.6 84.5,19.9 85.4,21.7 C86.3,23.5 89.4,27.0 91.0,28.3 C92.6,29.6 96.6,32.7 98.7,32.8 C100.8,32.9 107.0,29.3 108.7,29.4 C110.4,29.5 111.9,34.0 113.2,33.9 C114.5,33.8 118.0,29.2 119.8,28.3 C121.6,27.4 126.4,26.7 128.7,26.1 C131.0,25.5 137.5,22.8 139.8,22.8 C142.1,22.8 146.6,25.8 148.7,26.1 C150.8,26.4 155.7,25.5 157.5,25.0 C159.3,24.5 163.2,22.7 164.2,21.7 C165.2,20.7 166.1,17.2 166.4,16.1 C166.7,15.0 166.4,12.9 166.4,12.5"/><path d="M179.7,12.5 C179.7,13.0 179.8,15.6 179.7,17.2 C179.6,18.8 178.3,24.3 178.6,26.1 C178.9,27.9 180.7,32.1 181.9,32.8 C183.1,33.5 187.7,32.7 188.6,31.7 C189.5,30.7 189.8,26.1 189.7,23.9 C189.6,21.7 188.3,13.8 188.1,12.5"/><path d="M112.0,43.9 C112.5,43.8 116.2,48.2 117.6,49.4 C119.0,50.6 122.6,53.1 124.2,53.8 C125.8,54.5 129.6,54.6 130.9,55.0 C132.2,55.4 134.5,56.5 135.3,57.2 C136.1,57.9 138.3,60.4 138.0,61.0 C137.7,61.6 134.2,62.5 133.1,62.5 C132.0,62.5 129.8,61.5 128.7,61.0 C127.6,60.5 125.2,58.6 124.0,58.0 C122.8,57.4 119.3,56.9 118.0,56.0 C116.7,55.1 113.7,51.4 113.0,50.0 C112.3,48.6 111.5,44.0 112.0,43.9Z"/><path d="M62.0,60.0 C62.6,59.2 64.7,58.0 66.0,58.5 C67.3,59.0 71.3,63.7 73.2,64.5 C75.1,65.3 80.0,64.8 82.1,65.0 C84.2,65.2 88.9,66.6 91.0,66.3 C93.1,66.0 98.0,63.3 99.8,62.8 C101.6,62.3 104.8,62.2 106.5,62.2 C108.2,62.2 112.5,62.4 114.0,63.0 C115.5,63.6 118.7,66.0 119.0,67.0 C119.3,68.0 118.3,71.2 117.0,72.0 C115.7,72.8 110.0,73.3 108.0,74.0 C106.0,74.7 101.0,76.7 100.0,78.0 C99.0,79.3 98.1,83.8 99.0,85.0 C99.9,86.2 105.3,87.4 108.0,88.0 C110.7,88.6 119.4,89.5 122.0,90.0 C124.6,90.5 129.3,91.3 130.0,92.0 C130.7,92.7 129.4,95.4 128.0,96.0 C126.6,96.6 120.8,96.9 118.0,97.0 C115.2,97.1 106.6,97.0 104.0,96.5 C101.4,96.0 97.6,94.2 96.0,93.0 C94.4,91.8 91.5,87.5 90.0,86.0 C88.5,84.5 85.1,81.2 83.0,80.0 C80.9,78.8 74.3,77.0 72.0,76.0 C69.7,75.0 64.3,72.3 63.0,71.0 C61.7,69.7 61.1,66.3 61.0,65.0 C60.9,63.7 61.4,60.8 62.0,60.0Z"/><path d="M47.5,52.5 C48.0,51.8 51.7,51.5 53.0,51.5 C54.3,51.5 57.7,52.0 58.5,52.5 C59.3,53.0 59.9,55.4 59.5,56.0 C59.1,56.6 56.3,57.8 55.0,58.0 C53.7,58.2 49.4,58.1 48.5,57.5 C47.6,56.9 47.0,53.2 47.5,52.5Z"/><path d="M160.0,42.0 C160.9,40.6 164.4,38.4 166.0,38.0 C167.6,37.6 172.8,38.1 174.0,39.0 C175.2,39.9 176.5,44.2 176.5,46.0 C176.5,47.8 175.2,52.5 174.0,54.0 C172.8,55.5 167.6,58.1 166.0,58.5 C164.4,58.9 160.9,58.0 160.0,57.0 C159.1,56.0 158.5,51.8 158.5,50.0 C158.5,48.2 159.1,43.4 160.0,42.0Z"/><path d="M178.0,58.0 C179.4,57.1 187.0,56.6 190.0,56.5 C193.0,56.4 201.2,57.1 204.0,57.5 C206.8,57.9 213.1,59.1 214.0,60.0 C214.9,60.9 213.6,64.6 212.0,65.5 C210.4,66.4 203.0,67.3 200.0,67.5 C197.0,67.7 188.6,67.4 186.0,67.0 C183.4,66.6 178.9,65.0 178.0,64.0 C177.1,63.0 176.6,58.9 178.0,58.0Z"/></g></g></g></g>
<clipPath id="cp7"><rect x="340.5" y="683.9" width="271.1" height="152.2"/></clipPath>
<g clip-path="url(#cp7)"><g transform="translate(310.1 671.1)"><rect x="30.4" y="13.0" width="271.1" height="152.5" fill="#fff" filter="url(#nzW2)"/>
<rect x="30" y="13" width="272" height="153" fill="#e8ecfb" opacity="0.35"/>
<path d="M88.0,13.0 C91.7,10.8 108.0,11.2 112.0,13.0 C116.0,14.8 115.7,21.8 112.0,24.0 C108.3,26.2 94.0,27.8 90.0,26.0 C86.0,24.2 84.3,15.2 88.0,13.0Z" fill="#fbe2e2" filter="url(#b3)"/>
<path d="M74.0,68.0 C77.8,67.0 88.7,68.3 95.0,72.0 C101.3,75.7 109.2,83.3 112.0,90.0 C114.8,96.7 114.0,108.3 112.0,112.0 C110.0,115.7 104.3,114.8 100.0,112.0 C95.7,109.2 90.7,100.7 86.0,95.0 C81.3,89.3 74.0,82.5 72.0,78.0 C70.0,73.5 70.2,69.0 74.0,68.0Z" fill="#d4daf8" filter="url(#b3)"/>
<path d="M96.0,75.0 C100.0,72.2 113.3,72.2 120.0,73.0 C126.7,73.8 134.0,76.8 136.0,80.0 C138.0,83.2 136.3,89.5 132.0,92.0 C127.7,94.5 116.0,95.3 110.0,95.0 C104.0,94.7 98.3,93.3 96.0,90.0 C93.7,86.7 92.0,77.8 96.0,75.0Z" fill="#f8c4c4" filter="url(#b3)"/>
<path d="M104.0,81.0 C106.0,78.8 115.2,78.5 118.0,80.0 C120.8,81.5 123.0,87.8 121.0,90.0 C119.0,92.2 108.8,94.5 106.0,93.0 C103.2,91.5 102.0,83.2 104.0,81.0Z" fill="#f2a0a0" filter="url(#b2)"/>
<path d="M98.0,101.0 C99.3,99.2 104.7,99.2 106.0,101.0 C107.3,102.8 107.3,110.2 106.0,112.0 C104.7,113.8 99.3,113.8 98.0,112.0 C96.7,110.2 96.7,102.8 98.0,101.0Z" fill="#8090f0" filter="url(#b2)"/>
<path d="M171.0,44.0 C177.5,42.3 203.5,41.3 210.0,42.0 C216.5,42.7 216.5,46.3 210.0,48.0 C203.5,49.7 177.5,52.7 171.0,52.0 C164.5,51.3 164.5,45.7 171.0,44.0Z" fill="#c8d0f6" filter="url(#b2)"/>
<path d="M283.0,26.0 C285.8,22.0 298.8,20.0 302.0,24.0 C305.2,28.0 304.8,46.0 302.0,50.0 C299.2,54.0 288.2,52.0 285.0,48.0 C281.8,44.0 280.2,30.0 283.0,26.0Z" fill="#f6c6c6" filter="url(#b3)"/>
<path d="M126.8,100.9 C129.0,99.9 135.6,97.0 140.0,95.0 C144.4,93.0 151.0,90.0 153.2,89.0" fill="none" stroke="#3040e0" stroke-width="1.2" opacity="0.8"/>
<path d="M174.0,83.0 C177.0,82.5 186.7,80.8 192.0,80.0 C197.3,79.2 202.3,79.0 206.0,78.5 C209.7,78.0 210.8,77.7 214.0,77.0 C217.2,76.3 221.8,75.4 225.0,74.5 C228.2,73.6 230.5,72.7 233.0,71.5 C235.5,70.3 238.3,69.2 240.0,67.5 C241.7,65.8 242.5,62.1 243.0,61.0" fill="none" stroke="#e05050" stroke-width="1.1" opacity="0.7"/>
<g transform="translate(0.0 0.0)" fill="none" stroke="#1a1a1a" stroke-width="0.85" opacity="1"><path d="M173.7,84.3 C174.5,83.8 177.5,82.5 179.2,82.1 C180.9,81.7 185.8,81.4 188.1,81.0 C190.4,80.6 196.6,79.2 199.2,78.7 C201.8,78.2 207.7,77.0 210.3,76.5 C212.9,76.0 218.8,74.8 221.4,74.3 C224.0,73.8 230.4,72.6 232.5,72.1 C234.6,71.6 237.9,70.6 239.1,69.9 C240.3,69.2 242.6,67.5 243.0,66.5 C243.4,65.5 242.8,61.9 242.8,61.0 C242.8,60.1 243.1,58.8 243.4,58.6 C243.7,58.4 244.8,58.9 245.2,59.6 C245.6,60.3 246.6,63.0 246.9,64.3 C247.2,65.6 247.6,69.6 248.0,71.0 C248.4,72.4 249.4,75.7 250.2,76.5 C251.0,77.3 253.9,78.0 254.7,77.6 C255.5,77.2 256.6,74.2 256.9,73.2 C257.2,72.2 256.6,69.5 256.9,68.8 C257.2,68.1 258.5,67.2 259.1,67.6 C259.7,68.0 261.9,70.7 262.4,72.1 C262.9,73.5 263.4,78.4 263.5,79.8 C263.6,81.2 264.0,83.5 263.5,84.3 C263.0,85.1 260.1,85.9 259.1,86.5 C258.1,87.1 255.6,88.9 254.7,89.8 C253.8,90.7 252.3,93.8 251.3,94.3 C250.3,94.8 247.0,94.4 245.8,94.3 C244.6,94.2 242.1,93.9 241.3,93.2 C240.5,92.5 239.4,89.9 239.1,88.7 C238.8,87.5 239.4,83.7 239.1,83.2 C238.8,82.7 237.4,83.4 236.9,84.3 C236.4,85.2 235.1,88.8 234.7,90.9 C234.3,93.0 234.0,99.9 233.6,102.0 C233.2,104.1 232.1,107.1 231.4,108.7 C230.7,110.3 228.9,114.3 228.0,115.3 C227.1,116.3 224.8,117.6 223.6,117.6 C222.4,117.6 219.2,116.1 218.0,115.3 C216.8,114.5 214.2,112.5 213.6,110.9 C213.0,109.3 212.9,103.6 212.5,102.0 C212.1,100.4 210.8,98.2 210.3,97.6 C209.8,97.0 208.6,96.0 208.1,96.5 C207.6,97.0 206.1,100.4 205.8,102.0 C205.5,103.6 206.2,108.4 205.8,109.8 C205.4,111.2 203.5,113.6 202.5,114.2 C201.5,114.8 198.3,115.4 197.0,115.3 C195.7,115.2 192.2,114.1 191.4,113.1 C190.6,112.1 190.0,107.7 190.3,106.5 C190.6,105.3 192.6,103.5 193.6,103.2 C194.6,102.9 198.3,104.7 199.2,104.3 C200.1,103.9 201.9,100.7 201.4,99.8 C200.9,98.9 196.3,97.0 194.7,96.5 C193.1,96.0 189.3,95.3 188.1,95.4 C186.9,95.5 185.8,97.0 184.8,97.6 C183.8,98.2 180.4,100.6 179.2,100.9 C178.0,101.2 175.4,100.4 174.8,99.8 C174.2,99.2 173.4,96.2 173.7,95.4 C174.0,94.6 175.6,93.3 177.0,93.2 C178.4,93.1 184.7,94.4 185.9,94.3 C187.1,94.2 187.8,92.6 187.0,92.1 C186.2,91.6 180.8,90.2 179.2,89.8 C177.6,89.4 174.5,89.1 173.7,88.7 C172.9,88.3 172.6,87.0 172.6,86.5 C172.6,86.0 172.9,84.8 173.7,84.3Z"/><path d="M214.7,84.3 C215.4,83.8 218.6,82.8 220.3,82.1 C222.0,81.4 227.7,78.8 229.1,78.7 C230.5,78.6 232.4,80.0 232.5,80.9 C232.6,81.8 231.0,85.2 230.2,86.5 C229.4,87.8 226.4,90.7 225.8,92.1 C225.2,93.5 224.7,97.5 224.7,98.7 C224.7,99.9 225.9,101.6 225.8,102.0 C225.7,102.4 224.2,102.5 223.6,102.0 C223.0,101.5 220.8,98.8 220.3,97.6 C219.8,96.4 219.7,93.0 219.2,92.1 C218.7,91.2 216.3,90.5 215.8,89.8 C215.3,89.1 214.8,87.1 214.7,86.5 C214.6,85.9 214.0,84.8 214.7,84.3Z"/><path d="M83.8,93.4 C84.2,93.0 86.8,92.5 87.7,92.7 C88.6,92.9 90.8,94.6 91.6,95.3 C92.4,96.0 93.5,98.0 94.3,98.6 C95.1,99.2 97.4,100.1 98.2,100.6 C99.0,101.1 100.6,102.4 100.8,103.2 C101.0,104.0 100.4,106.4 100.1,107.1 C99.8,107.8 98.7,109.0 98.2,109.0 C97.7,109.0 96.2,107.6 95.6,107.1 C95.0,106.6 93.8,105.4 93.0,105.1 C92.2,104.8 89.8,104.7 89.0,104.5 C88.2,104.3 86.9,103.7 86.4,103.2 C85.9,102.7 85.1,101.2 85.1,100.6 C85.1,100.0 86.5,98.4 86.4,97.9 C86.3,97.4 84.8,96.5 84.5,96.0 C84.2,95.5 83.4,93.8 83.8,93.4Z"/><path d="M104.0,115.6 C103.6,116.1 102.2,117.5 102.1,118.2 C102.0,118.9 103.4,120.6 103.4,121.4 C103.4,122.2 102.0,124.6 102.1,125.4 C102.2,126.2 104.0,127.4 104.0,128.0 C104.0,128.6 102.4,129.8 102.1,130.6 C101.8,131.4 101.6,133.6 101.4,134.5 C101.2,135.4 100.5,137.6 100.1,138.4 C99.7,139.2 98.6,140.4 98.2,141.0 C97.8,141.6 97.4,143.0 96.9,143.6 C96.4,144.2 94.2,145.9 94.3,146.2 C94.4,146.5 96.7,146.3 97.5,146.2 C98.3,146.1 99.8,145.4 100.8,145.6 C101.8,145.8 104.8,147.7 106.0,148.2 C107.2,148.7 110.0,149.4 111.2,149.5 C112.4,149.6 115.3,149.2 116.5,148.9 C117.7,148.6 120.9,147.4 121.7,146.9 C122.5,146.4 123.2,145.4 123.0,144.9 C122.8,144.4 121.2,142.9 120.4,142.3 C119.6,141.7 117.3,140.2 116.5,139.7 C115.7,139.2 114.2,139.0 113.8,138.4 C113.4,137.8 113.5,135.4 113.2,134.5 C112.9,133.6 111.7,131.4 111.2,130.6 C110.7,129.8 109.5,128.8 109.3,128.0 C109.1,127.2 109.7,125.0 109.9,124.0 C110.1,123.0 110.6,120.6 110.6,119.5 C110.6,118.4 109.8,115.7 109.9,114.9 C110.0,114.1 110.9,113.5 111.2,113.0 C111.5,112.5 112.7,110.8 112.5,110.3 C112.3,109.8 110.5,109.1 109.9,109.0 C109.3,108.9 107.8,109.4 107.3,109.7 C106.8,110.0 106.2,111.1 106.0,111.6 C105.8,112.1 105.6,113.7 105.4,114.2 C105.2,114.7 104.4,115.1 104.0,115.6Z"/><path d="M83.8,118.8 C84.2,118.5 86.6,117.9 87.7,117.5 C88.8,117.1 92.0,116.0 93.0,115.6 C94.0,115.2 95.7,114.1 96.2,114.3 C96.7,114.5 97.1,116.4 96.9,116.9 C96.7,117.4 95.1,118.5 94.3,118.8 C93.5,119.1 91.2,119.3 90.3,119.5 C89.4,119.7 87.1,120.1 86.4,120.1 C85.7,120.1 84.8,120.1 84.5,119.9 C84.2,119.7 83.4,119.1 83.8,118.8Z"/><path d="M117.8,118.2 C117.8,117.7 118.2,115.3 119.0,114.3 C119.8,113.3 123.1,110.8 124.3,109.7 C125.5,108.6 128.3,106.1 129.5,105.1 C130.7,104.1 133.3,102.0 134.7,101.2 C136.1,100.4 139.9,98.7 141.3,97.9 C142.7,97.1 145.1,95.2 146.5,94.7 C147.9,94.2 151.9,93.3 153.0,93.4 C154.1,93.5 155.4,94.6 155.6,95.3 C155.8,96.0 154.8,98.3 154.3,99.2 C153.8,100.1 151.5,102.1 151.0,103.2 C150.5,104.3 150.6,107.3 150.4,108.4 C150.2,109.5 149.6,111.5 149.1,112.3 C148.6,113.1 146.6,114.5 145.8,114.9 C145.0,115.3 143.4,115.7 142.6,115.6 C141.8,115.5 139.5,114.5 138.6,114.3 C137.7,114.1 135.6,114.4 134.7,114.3 C133.8,114.2 131.7,114.0 130.8,113.6 C129.9,113.2 127.7,111.2 126.9,111.0 C126.1,110.8 124.8,111.2 124.3,111.6 C123.8,112.0 123.3,113.7 123.0,114.3 C122.7,114.9 122.2,116.4 121.7,116.9 C121.2,117.4 119.5,118.0 119.0,118.2 C118.5,118.4 117.8,118.7 117.8,118.2Z"/><path d="M121.7,117.5 C122.2,117.0 124.5,116.4 125.6,116.2 C126.7,116.0 129.6,116.0 130.8,116.2 C132.0,116.4 134.9,117.5 136.0,118.2 C137.1,118.9 139.8,121.1 140.6,122.1 C141.4,123.1 142.5,125.7 142.6,126.7 C142.7,127.7 141.9,130.0 141.3,130.6 C140.7,131.2 138.2,131.8 137.3,131.9 C136.4,132.0 134.2,131.6 133.4,131.2 C132.6,130.8 131.1,129.1 130.2,128.6 C129.3,128.1 126.4,127.2 125.6,126.7 C124.8,126.2 123.5,124.7 123.0,124.0 C122.5,123.3 121.9,121.6 121.7,120.8 C121.5,120.0 121.2,118.0 121.7,117.5Z"/><path d="M43.2,118.7 C43.6,118.2 45.6,117.5 46.5,117.6 C47.4,117.7 50.4,119.0 51.0,119.8 C51.6,120.6 51.9,123.6 51.6,124.3 C51.3,125.0 49.7,125.4 48.8,125.4 C47.9,125.4 45.0,124.7 44.3,124.3 C43.6,123.9 42.9,122.7 42.8,122.0 C42.7,121.3 42.8,119.2 43.2,118.7Z"/><path d="M46.5,126.5 C47.1,126.2 50.3,126.7 51.0,127.1 C51.7,127.5 52.8,129.2 52.8,129.8 C52.8,130.4 51.6,132.2 51.0,132.5 C50.4,132.8 48.2,132.4 47.6,132.0 C47.0,131.6 46.2,130.0 46.1,129.4 C46.0,128.8 45.9,126.8 46.5,126.5Z"/><path d="M71.0,119.6 C71.4,118.8 74.4,117.8 75.4,117.6 C76.4,117.4 78.8,117.7 79.2,118.3 C79.6,118.9 79.1,122.3 78.7,123.1 C78.3,123.9 76.2,124.8 75.4,124.9 C74.6,125.0 72.6,124.9 72.1,124.3 C71.6,123.7 70.6,120.4 71.0,119.6Z"/><path d="M228.3,12.8 C227.7,13.1 228.6,15.0 229.2,15.5 C229.8,16.0 233.0,16.9 233.7,17.4 C234.4,17.9 235.0,19.5 235.6,20.1 C236.2,20.7 238.5,22.2 239.2,22.9 C239.9,23.6 241.4,26.0 242.0,26.5 C242.6,27.0 244.3,27.6 244.7,27.4 C245.1,27.2 245.8,25.3 245.6,24.7 C245.4,24.1 243.4,22.5 242.9,21.9 C242.4,21.3 241.4,19.8 241.1,19.2 C240.8,18.6 240.6,16.8 240.1,16.5 C239.6,16.2 237.2,16.7 236.5,16.5 C235.8,16.3 233.9,15.0 233.7,14.6 C233.5,14.2 235.2,13.0 234.6,12.8 C234.0,12.6 228.9,12.5 228.3,12.8Z"/><ellipse cx="165" cy="97" rx="2.5" ry="2"/><ellipse cx="263.9" cy="37.9" rx="2.7" ry="3.2"/><ellipse cx="150.3" cy="53.3" rx="1.7" ry="2.8"/><ellipse cx="261.8" cy="104.8" rx="1.7" ry="1.7"/><ellipse cx="280.2" cy="105.4" rx="2.2" ry="3.4"/><ellipse cx="269.6" cy="122" rx="1.7" ry="1.1"/><g stroke-dasharray="2.6 1.8"><path d="M83.0,12.5 C83.3,13.6 84.5,19.9 85.4,21.7 C86.3,23.5 89.4,27.0 91.0,28.3 C92.6,29.6 96.6,32.7 98.7,32.8 C100.8,32.9 107.0,29.3 108.7,29.4 C110.4,29.5 111.9,34.0 113.2,33.9 C114.5,33.8 118.0,29.2 119.8,28.3 C121.6,27.4 126.4,26.7 128.7,26.1 C131.0,25.5 137.5,22.8 139.8,22.8 C142.1,22.8 146.6,25.8 148.7,26.1 C150.8,26.4 155.7,25.5 157.5,25.0 C159.3,24.5 163.2,22.7 164.2,21.7 C165.2,20.7 166.1,17.2 166.4,16.1 C166.7,15.0 166.4,12.9 166.4,12.5"/><path d="M179.7,12.5 C179.7,13.0 179.8,15.6 179.7,17.2 C179.6,18.8 178.3,24.3 178.6,26.1 C178.9,27.9 180.7,32.1 181.9,32.8 C183.1,33.5 187.7,32.7 188.6,31.7 C189.5,30.7 189.8,26.1 189.7,23.9 C189.6,21.7 188.3,13.8 188.1,12.5"/><path d="M112.0,43.9 C112.5,43.8 116.2,48.2 117.6,49.4 C119.0,50.6 122.6,53.1 124.2,53.8 C125.8,54.5 129.6,54.6 130.9,55.0 C132.2,55.4 134.5,56.5 135.3,57.2 C136.1,57.9 138.3,60.4 138.0,61.0 C137.7,61.6 134.2,62.5 133.1,62.5 C132.0,62.5 129.8,61.5 128.7,61.0 C127.6,60.5 125.2,58.6 124.0,58.0 C122.8,57.4 119.3,56.9 118.0,56.0 C116.7,55.1 113.7,51.4 113.0,50.0 C112.3,48.6 111.5,44.0 112.0,43.9Z"/><path d="M62.0,60.0 C62.6,59.2 64.7,58.0 66.0,58.5 C67.3,59.0 71.3,63.7 73.2,64.5 C75.1,65.3 80.0,64.8 82.1,65.0 C84.2,65.2 88.9,66.6 91.0,66.3 C93.1,66.0 98.0,63.3 99.8,62.8 C101.6,62.3 104.8,62.2 106.5,62.2 C108.2,62.2 112.5,62.4 114.0,63.0 C115.5,63.6 118.7,66.0 119.0,67.0 C119.3,68.0 118.3,71.2 117.0,72.0 C115.7,72.8 110.0,73.3 108.0,74.0 C106.0,74.7 101.0,76.7 100.0,78.0 C99.0,79.3 98.1,83.8 99.0,85.0 C99.9,86.2 105.3,87.4 108.0,88.0 C110.7,88.6 119.4,89.5 122.0,90.0 C124.6,90.5 129.3,91.3 130.0,92.0 C130.7,92.7 129.4,95.4 128.0,96.0 C126.6,96.6 120.8,96.9 118.0,97.0 C115.2,97.1 106.6,97.0 104.0,96.5 C101.4,96.0 97.6,94.2 96.0,93.0 C94.4,91.8 91.5,87.5 90.0,86.0 C88.5,84.5 85.1,81.2 83.0,80.0 C80.9,78.8 74.3,77.0 72.0,76.0 C69.7,75.0 64.3,72.3 63.0,71.0 C61.7,69.7 61.1,66.3 61.0,65.0 C60.9,63.7 61.4,60.8 62.0,60.0Z"/><path d="M47.5,52.5 C48.0,51.8 51.7,51.5 53.0,51.5 C54.3,51.5 57.7,52.0 58.5,52.5 C59.3,53.0 59.9,55.4 59.5,56.0 C59.1,56.6 56.3,57.8 55.0,58.0 C53.7,58.2 49.4,58.1 48.5,57.5 C47.6,56.9 47.0,53.2 47.5,52.5Z"/><path d="M160.0,42.0 C160.9,40.6 164.4,38.4 166.0,38.0 C167.6,37.6 172.8,38.1 174.0,39.0 C175.2,39.9 176.5,44.2 176.5,46.0 C176.5,47.8 175.2,52.5 174.0,54.0 C172.8,55.5 167.6,58.1 166.0,58.5 C164.4,58.9 160.9,58.0 160.0,57.0 C159.1,56.0 158.5,51.8 158.5,50.0 C158.5,48.2 159.1,43.4 160.0,42.0Z"/><path d="M178.0,58.0 C179.4,57.1 187.0,56.6 190.0,56.5 C193.0,56.4 201.2,57.1 204.0,57.5 C206.8,57.9 213.1,59.1 214.0,60.0 C214.9,60.9 213.6,64.6 212.0,65.5 C210.4,66.4 203.0,67.3 200.0,67.5 C197.0,67.7 188.6,67.4 186.0,67.0 C183.4,66.6 178.9,65.0 178.0,64.0 C177.1,63.0 176.6,58.9 178.0,58.0Z"/></g></g></g></g>
<g stroke="#7a7a7a" stroke-width="0.9"><line x1="30.4" y1="14.20" x2="33.4" y2="14.20"/><line x1="301.5" y1="14.20" x2="298.5" y2="14.20"/><line x1="30.4" y1="17.60" x2="33.4" y2="17.60"/><line x1="301.5" y1="17.60" x2="298.5" y2="17.60"/><line x1="30.4" y1="21.00" x2="33.4" y2="21.00"/><line x1="301.5" y1="21.00" x2="298.5" y2="21.00"/><line x1="30.4" y1="24.40" x2="33.4" y2="24.40"/><line x1="301.5" y1="24.40" x2="298.5" y2="24.40"/><line x1="30.4" y1="27.80" x2="33.4" y2="27.80"/><line x1="301.5" y1="27.80" x2="298.5" y2="27.80"/><line x1="30.4" y1="31.20" x2="33.4" y2="31.20"/><line x1="301.5" y1="31.20" x2="298.5" y2="31.20"/><line x1="30.4" y1="34.60" x2="33.4" y2="34.60"/><line x1="301.5" y1="34.60" x2="298.5" y2="34.60"/><line x1="30.4" y1="38.00" x2="33.4" y2="38.00"/><line x1="301.5" y1="38.00" x2="298.5" y2="38.00"/><line x1="30.4" y1="41.40" x2="35.4" y2="41.40"/><line x1="301.5" y1="41.40" x2="296.5" y2="41.40"/><line x1="30.4" y1="44.80" x2="33.4" y2="44.80"/><line x1="301.5" y1="44.80" x2="298.5" y2="44.80"/><line x1="30.4" y1="48.20" x2="33.4" y2="48.20"/><line x1="301.5" y1="48.20" x2="298.5" y2="48.20"/><line x1="30.4" y1="51.60" x2="33.4" y2="51.60"/><line x1="301.5" y1="51.60" x2="298.5" y2="51.60"/><line x1="30.4" y1="55.00" x2="33.4" y2="55.00"/><line x1="301.5" y1="55.00" x2="298.5" y2="55.00"/><line x1="30.4" y1="58.40" x2="33.4" y2="58.40"/><line x1="301.5" y1="58.40" x2="298.5" y2="58.40"/><line x1="30.4" y1="61.80" x2="33.4" y2="61.80"/><line x1="301.5" y1="61.80" x2="298.5" y2="61.80"/><line x1="30.4" y1="65.20" x2="33.4" y2="65.20"/><line x1="301.5" y1="65.20" x2="298.5" y2="65.20"/><line x1="30.4" y1="68.60" x2="33.4" y2="68.60"/><line x1="301.5" y1="68.60" x2="298.5" y2="68.60"/><line x1="30.4" y1="72.00" x2="33.4" y2="72.00"/><line x1="301.5" y1="72.00" x2="298.5" y2="72.00"/><line x1="30.4" y1="75.40" x2="35.4" y2="75.40"/><line x1="301.5" y1="75.40" x2="296.5" y2="75.40"/><line x1="30.4" y1="78.80" x2="33.4" y2="78.80"/><line x1="301.5" y1="78.80" x2="298.5" y2="78.80"/><line x1="30.4" y1="82.20" x2="33.4" y2="82.20"/><line x1="301.5" y1="82.20" x2="298.5" y2="82.20"/><line x1="30.4" y1="85.60" x2="33.4" y2="85.60"/><line x1="301.5" y1="85.60" x2="298.5" y2="85.60"/><line x1="30.4" y1="89.00" x2="33.4" y2="89.00"/><line x1="301.5" y1="89.00" x2="298.5" y2="89.00"/><line x1="30.4" y1="92.40" x2="33.4" y2="92.40"/><line x1="301.5" y1="92.40" x2="298.5" y2="92.40"/><line x1="30.4" y1="95.80" x2="33.4" y2="95.80"/><line x1="301.5" y1="95.80" x2="298.5" y2="95.80"/><line x1="30.4" y1="99.20" x2="33.4" y2="99.20"/><line x1="301.5" y1="99.20" x2="298.5" y2="99.20"/><line x1="30.4" y1="102.60" x2="33.4" y2="102.60"/><line x1="301.5" y1="102.60" x2="298.5" y2="102.60"/><line x1="30.4" y1="106.00" x2="33.4" y2="106.00"/><line x1="301.5" y1="106.00" x2="298.5" y2="106.00"/><line x1="30.4" y1="109.40" x2="35.4" y2="109.40"/><line x1="301.5" y1="109.40" x2="296.5" y2="109.40"/><line x1="30.4" y1="112.80" x2="33.4" y2="112.80"/><line x1="301.5" y1="112.80" x2="298.5" y2="112.80"/><line x1="30.4" y1="116.20" x2="33.4" y2="116.20"/><line x1="301.5" y1="116.20" x2="298.5" y2="116.20"/><line x1="30.4" y1="119.60" x2="33.4" y2="119.60"/><line x1="301.5" y1="119.60" x2="298.5" y2="119.60"/><line x1="30.4" y1="123.00" x2="33.4" y2="123.00"/><line x1="301.5" y1="123.00" x2="298.5" y2="123.00"/><line x1="30.4" y1="126.40" x2="33.4" y2="126.40"/><line x1="301.5" y1="126.40" x2="298.5" y2="126.40"/><line x1="30.4" y1="129.80" x2="33.4" y2="129.80"/><line x1="301.5" y1="129.80" x2="298.5" y2="129.80"/><line x1="30.4" y1="133.20" x2="33.4" y2="133.20"/><line x1="301.5" y1="133.20" x2="298.5" y2="133.20"/><line x1="30.4" y1="136.60" x2="33.4" y2="136.60"/><line x1="301.5" y1="136.60" x2="298.5" y2="136.60"/><line x1="30.4" y1="140.00" x2="33.4" y2="140.00"/><line x1="301.5" y1="140.00" x2="298.5" y2="140.00"/><line x1="30.4" y1="143.40" x2="35.4" y2="143.40"/><line x1="301.5" y1="143.40" x2="296.5" y2="143.40"/><line x1="30.4" y1="146.80" x2="33.4" y2="146.80"/><line x1="301.5" y1="146.80" x2="298.5" y2="146.80"/><line x1="30.4" y1="150.20" x2="33.4" y2="150.20"/><line x1="301.5" y1="150.20" x2="298.5" y2="150.20"/><line x1="30.4" y1="153.60" x2="33.4" y2="153.60"/><line x1="301.5" y1="153.60" x2="298.5" y2="153.60"/><line x1="30.4" y1="157.00" x2="33.4" y2="157.00"/><line x1="301.5" y1="157.00" x2="298.5" y2="157.00"/><line x1="30.4" y1="160.40" x2="33.4" y2="160.40"/><line x1="301.5" y1="160.40" x2="298.5" y2="160.40"/><line x1="30.4" y1="163.80" x2="33.4" y2="163.80"/><line x1="301.5" y1="163.80" x2="298.5" y2="163.80"/><line x1="42.55" y1="165.8" x2="42.55" y2="163.3"/><line x1="42.55" y1="13.6" x2="42.55" y2="16.1"/><line x1="59.46" y1="165.8" x2="59.46" y2="161.3"/><line x1="59.46" y1="13.6" x2="59.46" y2="18.1"/><line x1="76.37" y1="165.8" x2="76.37" y2="163.3"/><line x1="76.37" y1="13.6" x2="76.37" y2="16.1"/><line x1="93.28" y1="165.8" x2="93.28" y2="163.3"/><line x1="93.28" y1="13.6" x2="93.28" y2="16.1"/><line x1="110.19" y1="165.8" x2="110.19" y2="163.3"/><line x1="110.19" y1="13.6" x2="110.19" y2="16.1"/><line x1="127.10" y1="165.8" x2="127.10" y2="161.3"/><line x1="127.10" y1="13.6" x2="127.10" y2="18.1"/><line x1="144.01" y1="165.8" x2="144.01" y2="163.3"/><line x1="144.01" y1="13.6" x2="144.01" y2="16.1"/><line x1="160.92" y1="165.8" x2="160.92" y2="163.3"/><line x1="160.92" y1="13.6" x2="160.92" y2="16.1"/><line x1="177.83" y1="165.8" x2="177.83" y2="163.3"/><line x1="177.83" y1="13.6" x2="177.83" y2="16.1"/><line x1="194.74" y1="165.8" x2="194.74" y2="161.3"/><line x1="194.74" y1="13.6" x2="194.74" y2="18.1"/><line x1="211.65" y1="165.8" x2="211.65" y2="163.3"/><line x1="211.65" y1="13.6" x2="211.65" y2="16.1"/><line x1="228.56" y1="165.8" x2="228.56" y2="163.3"/><line x1="228.56" y1="13.6" x2="228.56" y2="16.1"/><line x1="245.47" y1="165.8" x2="245.47" y2="163.3"/><line x1="245.47" y1="13.6" x2="245.47" y2="16.1"/><line x1="262.38" y1="165.8" x2="262.38" y2="161.3"/><line x1="262.38" y1="13.6" x2="262.38" y2="18.1"/><line x1="279.29" y1="165.8" x2="279.29" y2="163.3"/><line x1="279.29" y1="13.6" x2="279.29" y2="16.1"/><line x1="296.20" y1="165.8" x2="296.20" y2="163.3"/><line x1="296.20" y1="13.6" x2="296.20" y2="16.1"/></g>
<rect x="30.4" y="13.6" width="271.1" height="152.2" fill="none" stroke="#9a9a9a" stroke-width="1"/>
<text x="166.0" y="8.8" text-anchor="middle" font-family="Liberation Sans" font-weight="bold" font-size="11.7">Pre-flare magnetic vector B</text>
<text x="28.5" y="45.1" text-anchor="end" font-family="Liberation Sans" font-weight="bold" font-size="9.5">-18</text>
<text x="28.5" y="79.1" text-anchor="end" font-family="Liberation Sans" font-weight="bold" font-size="9.5">-19</text>
<text x="28.5" y="113.1" text-anchor="end" font-family="Liberation Sans" font-weight="bold" font-size="9.5">-20</text>
<text x="28.5" y="147.1" text-anchor="end" font-family="Liberation Sans" font-weight="bold" font-size="9.5">-21</text>
<text x="59.5" y="177.3" text-anchor="middle" font-family="Liberation Sans" font-weight="bold" font-size="9.5">28</text>
<text x="127.1" y="177.3" text-anchor="middle" font-family="Liberation Sans" font-weight="bold" font-size="9.5">30</text>
<text x="194.7" y="177.3" text-anchor="middle" font-family="Liberation Sans" font-weight="bold" font-size="9.5">32</text>
<text x="262.4" y="177.3" text-anchor="middle" font-family="Liberation Sans" font-weight="bold" font-size="9.5">34</text>
<text transform="translate(7.6 89.7) rotate(-90)" x="0" y="0" text-anchor="middle" font-family="Liberation Sans" font-weight="bold" font-size="9.5">Latitude (deg)</text>
<g stroke="#7a7a7a" stroke-width="0.9"><line x1="340.5" y1="14.20" x2="343.5" y2="14.20"/><line x1="611.6" y1="14.20" x2="608.6" y2="14.20"/><line x1="340.5" y1="17.60" x2="343.5" y2="17.60"/><line x1="611.6" y1="17.60" x2="608.6" y2="17.60"/><line x1="340.5" y1="21.00" x2="343.5" y2="21.00"/><line x1="611.6" y1="21.00" x2="608.6" y2="21.00"/><line x1="340.5" y1="24.40" x2="343.5" y2="24.40"/><line x1="611.6" y1="24.40" x2="608.6" y2="24.40"/><line x1="340.5" y1="27.80" x2="343.5" y2="27.80"/><line x1="611.6" y1="27.80" x2="608.6" y2="27.80"/><line x1="340.5" y1="31.20" x2="343.5" y2="31.20"/><line x1="611.6" y1="31.20" x2="608.6" y2="31.20"/><line x1="340.5" y1="34.60" x2="343.5" y2="34.60"/><line x1="611.6" y1="34.60" x2="608.6" y2="34.60"/><line x1="340.5" y1="38.00" x2="343.5" y2="38.00"/><line x1="611.6" y1="38.00" x2="608.6" y2="38.00"/><line x1="340.5" y1="41.40" x2="345.5" y2="41.40"/><line x1="611.6" y1="41.40" x2="606.6" y2="41.40"/><line x1="340.5" y1="44.80" x2="343.5" y2="44.80"/><line x1="611.6" y1="44.80" x2="608.6" y2="44.80"/><line x1="340.5" y1="48.20" x2="343.5" y2="48.20"/><line x1="611.6" y1="48.20" x2="608.6" y2="48.20"/><line x1="340.5" y1="51.60" x2="343.5" y2="51.60"/><line x1="611.6" y1="51.60" x2="608.6" y2="51.60"/><line x1="340.5" y1="55.00" x2="343.5" y2="55.00"/><line x1="611.6" y1="55.00" x2="608.6" y2="55.00"/><line x1="340.5" y1="58.40" x2="343.5" y2="58.40"/><line x1="611.6" y1="58.40" x2="608.6" y2="58.40"/><line x1="340.5" y1="61.80" x2="343.5" y2="61.80"/><line x1="611.6" y1="61.80" x2="608.6" y2="61.80"/><line x1="340.5" y1="65.20" x2="343.5" y2="65.20"/><line x1="611.6" y1="65.20" x2="608.6" y2="65.20"/><line x1="340.5" y1="68.60" x2="343.5" y2="68.60"/><line x1="611.6" y1="68.60" x2="608.6" y2="68.60"/><line x1="340.5" y1="72.00" x2="343.5" y2="72.00"/><line x1="611.6" y1="72.00" x2="608.6" y2="72.00"/><line x1="340.5" y1="75.40" x2="345.5" y2="75.40"/><line x1="611.6" y1="75.40" x2="606.6" y2="75.40"/><line x1="340.5" y1="78.80" x2="343.5" y2="78.80"/><line x1="611.6" y1="78.80" x2="608.6" y2="78.80"/><line x1="340.5" y1="82.20" x2="343.5" y2="82.20"/><line x1="611.6" y1="82.20" x2="608.6" y2="82.20"/><line x1="340.5" y1="85.60" x2="343.5" y2="85.60"/><line x1="611.6" y1="85.60" x2="608.6" y2="85.60"/><line x1="340.5" y1="89.00" x2="343.5" y2="89.00"/><line x1="611.6" y1="89.00" x2="608.6" y2="89.00"/><line x1="340.5" y1="92.40" x2="343.5" y2="92.40"/><line x1="611.6" y1="92.40" x2="608.6" y2="92.40"/><line x1="340.5" y1="95.80" x2="343.5" y2="95.80"/><line x1="611.6" y1="95.80" x2="608.6" y2="95.80"/><line x1="340.5" y1="99.20" x2="343.5" y2="99.20"/><line x1="611.6" y1="99.20" x2="608.6" y2="99.20"/><line x1="340.5" y1="102.60" x2="343.5" y2="102.60"/><line x1="611.6" y1="102.60" x2="608.6" y2="102.60"/><line x1="340.5" y1="106.00" x2="343.5" y2="106.00"/><line x1="611.6" y1="106.00" x2="608.6" y2="106.00"/><line x1="340.5" y1="109.40" x2="345.5" y2="109.40"/><line x1="611.6" y1="109.40" x2="606.6" y2="109.40"/><line x1="340.5" y1="112.80" x2="343.5" y2="112.80"/><line x1="611.6" y1="112.80" x2="608.6" y2="112.80"/><line x1="340.5" y1="116.20" x2="343.5" y2="116.20"/><line x1="611.6" y1="116.20" x2="608.6" y2="116.20"/><line x1="340.5" y1="119.60" x2="343.5" y2="119.60"/><line x1="611.6" y1="119.60" x2="608.6" y2="119.60"/><line x1="340.5" y1="123.00" x2="343.5" y2="123.00"/><line x1="611.6" y1="123.00" x2="608.6" y2="123.00"/><line x1="340.5" y1="126.40" x2="343.5" y2="126.40"/><line x1="611.6" y1="126.40" x2="608.6" y2="126.40"/><line x1="340.5" y1="129.80" x2="343.5" y2="129.80"/><line x1="611.6" y1="129.80" x2="608.6" y2="129.80"/><line x1="340.5" y1="133.20" x2="343.5" y2="133.20"/><line x1="611.6" y1="133.20" x2="608.6" y2="133.20"/><line x1="340.5" y1="136.60" x2="343.5" y2="136.60"/><line x1="611.6" y1="136.60" x2="608.6" y2="136.60"/><line x1="340.5" y1="140.00" x2="343.5" y2="140.00"/><line x1="611.6" y1="140.00" x2="608.6" y2="140.00"/><line x1="340.5" y1="143.40" x2="345.5" y2="143.40"/><line x1="611.6" y1="143.40" x2="606.6" y2="143.40"/><line x1="340.5" y1="146.80" x2="343.5" y2="146.80"/><line x1="611.6" y1="146.80" x2="608.6" y2="146.80"/><line x1="340.5" y1="150.20" x2="343.5" y2="150.20"/><line x1="611.6" y1="150.20" x2="608.6" y2="150.20"/><line x1="340.5" y1="153.60" x2="343.5" y2="153.60"/><line x1="611.6" y1="153.60" x2="608.6" y2="153.60"/><line x1="340.5" y1="157.00" x2="343.5" y2="157.00"/><line x1="611.6" y1="157.00" x2="608.6" y2="157.00"/><line x1="340.5" y1="160.40" x2="343.5" y2="160.40"/><line x1="611.6" y1="160.40" x2="608.6" y2="160.40"/><line x1="340.5" y1="163.80" x2="343.5" y2="163.80"/><line x1="611.6" y1="163.80" x2="608.6" y2="163.80"/><line x1="352.65" y1="165.8" x2="352.65" y2="163.3"/><line x1="352.65" y1="13.6" x2="352.65" y2="16.1"/><line x1="369.56" y1="165.8" x2="369.56" y2="161.3"/><line x1="369.56" y1="13.6" x2="369.56" y2="18.1"/><line x1="386.47" y1="165.8" x2="386.47" y2="163.3"/><line x1="386.47" y1="13.6" x2="386.47" y2="16.1"/><line x1="403.38" y1="165.8" x2="403.38" y2="163.3"/><line x1="403.38" y1="13.6" x2="403.38" y2="16.1"/><line x1="420.29" y1="165.8" x2="420.29" y2="163.3"/><line x1="420.29" y1="13.6" x2="420.29" y2="16.1"/><line x1="437.20" y1="165.8" x2="437.20" y2="161.3"/><line x1="437.20" y1="13.6" x2="437.20" y2="18.1"/><line x1="454.11" y1="165.8" x2="454.11" y2="163.3"/><line x1="454.11" y1="13.6" x2="454.11" y2="16.1"/><line x1="471.02" y1="165.8" x2="471.02" y2="163.3"/><line x1="471.02" y1="13.6" x2="471.02" y2="16.1"/><line x1="487.93" y1="165.8" x2="487.93" y2="163.3"/><line x1="487.93" y1="13.6" x2="487.93" y2="16.1"/><line x1="504.84" y1="165.8" x2="504.84" y2="161.3"/><line x1="504.84" y1="13.6" x2="504.84" y2="18.1"/><line x1="521.75" y1="165.8" x2="521.75" y2="163.3"/><line x1="521.75" y1="13.6" x2="521.75" y2="16.1"/><line x1="538.66" y1="165.8" x2="538.66" y2="163.3"/><line x1="538.66" y1="13.6" x2="538.66" y2="16.1"/><line x1="555.57" y1="165.8" x2="555.57" y2="163.3"/><line x1="555.57" y1="13.6" x2="555.57" y2="16.1"/><line x1="572.48" y1="165.8" x2="572.48" y2="161.3"/><line x1="572.48" y1="13.6" x2="572.48" y2="18.1"/><line x1="589.39" y1="165.8" x2="589.39" y2="163.3"/><line x1="589.39" y1="13.6" x2="589.39" y2="16.1"/><line x1="606.30" y1="165.8" x2="606.30" y2="163.3"/><line x1="606.30" y1="13.6" x2="606.30" y2="16.1"/></g>
<rect x="340.5" y="13.6" width="271.1" height="152.2" fill="none" stroke="#9a9a9a" stroke-width="1"/>
<text x="476.1" y="8.8" text-anchor="middle" font-family="Liberation Sans" font-weight="bold" font-size="11.7">Flare-related magnetic vector change δB</text>
<text x="338.6" y="45.1" text-anchor="end" font-family="Liberation Sans" font-weight="bold" font-size="9.5">-18</text>
<text x="338.6" y="79.1" text-anchor="end" font-family="Liberation Sans" font-weight="bold" font-size="9.5">-19</text>
<text x="338.6" y="113.1" text-anchor="end" font-family="Liberation Sans" font-weight="bold" font-size="9.5">-20</text>
<text x="338.6" y="147.1" text-anchor="end" font-family="Liberation Sans" font-weight="bold" font-size="9.5">-21</text>
<text x="369.6" y="177.3" text-anchor="middle" font-family="Liberation Sans" font-weight="bold" font-size="9.5">28</text>
<text x="437.2" y="177.3" text-anchor="middle" font-family="Liberation Sans" font-weight="bold" font-size="9.5">30</text>
<text x="504.8" y="177.3" text-anchor="middle" font-family="Liberation Sans" font-weight="bold" font-size="9.5">32</text>
<text x="572.5" y="177.3" text-anchor="middle" font-family="Liberation Sans" font-weight="bold" font-size="9.5">34</text>
<g stroke="#7a7a7a" stroke-width="0.9"><line x1="30.4" y1="237.60" x2="33.4" y2="237.60"/><line x1="301.5" y1="237.60" x2="298.5" y2="237.60"/><line x1="30.4" y1="241.00" x2="33.4" y2="241.00"/><line x1="301.5" y1="241.00" x2="298.5" y2="241.00"/><line x1="30.4" y1="244.40" x2="33.4" y2="244.40"/><line x1="301.5" y1="244.40" x2="298.5" y2="244.40"/><line x1="30.4" y1="247.80" x2="33.4" y2="247.80"/><line x1="301.5" y1="247.80" x2="298.5" y2="247.80"/><line x1="30.4" y1="251.20" x2="33.4" y2="251.20"/><line x1="301.5" y1="251.20" x2="298.5" y2="251.20"/><line x1="30.4" y1="254.60" x2="33.4" y2="254.60"/><line x1="301.5" y1="254.60" x2="298.5" y2="254.60"/><line x1="30.4" y1="258.00" x2="33.4" y2="258.00"/><line x1="301.5" y1="258.00" x2="298.5" y2="258.00"/><line x1="30.4" y1="261.40" x2="33.4" y2="261.40"/><line x1="301.5" y1="261.40" x2="298.5" y2="261.40"/><line x1="30.4" y1="264.80" x2="35.4" y2="264.80"/><line x1="301.5" y1="264.80" x2="296.5" y2="264.80"/><line x1="30.4" y1="268.20" x2="33.4" y2="268.20"/><line x1="301.5" y1="268.20" x2="298.5" y2="268.20"/><line x1="30.4" y1="271.60" x2="33.4" y2="271.60"/><line x1="301.5" y1="271.60" x2="298.5" y2="271.60"/><line x1="30.4" y1="275.00" x2="33.4" y2="275.00"/><line x1="301.5" y1="275.00" x2="298.5" y2="275.00"/><line x1="30.4" y1="278.40" x2="33.4" y2="278.40"/><line x1="301.5" y1="278.40" x2="298.5" y2="278.40"/><line x1="30.4" y1="281.80" x2="33.4" y2="281.80"/><line x1="301.5" y1="281.80" x2="298.5" y2="281.80"/><line x1="30.4" y1="285.20" x2="33.4" y2="285.20"/><line x1="301.5" y1="285.20" x2="298.5" y2="285.20"/><line x1="30.4" y1="288.60" x2="33.4" y2="288.60"/><line x1="301.5" y1="288.60" x2="298.5" y2="288.60"/><line x1="30.4" y1="292.00" x2="33.4" y2="292.00"/><line x1="301.5" y1="292.00" x2="298.5" y2="292.00"/><line x1="30.4" y1="295.40" x2="33.4" y2="295.40"/><line x1="301.5" y1="295.40" x2="298.5" y2="295.40"/><line x1="30.4" y1="298.80" x2="35.4" y2="298.80"/><line x1="301.5" y1="298.80" x2="296.5" y2="298.80"/><line x1="30.4" y1="302.20" x2="33.4" y2="302.20"/><line x1="301.5" y1="302.20" x2="298.5" y2="302.20"/><line x1="30.4" y1="305.60" x2="33.4" y2="305.60"/><line x1="301.5" y1="305.60" x2="298.5" y2="305.60"/><line x1="30.4" y1="309.00" x2="33.4" y2="309.00"/><line x1="301.5" y1="309.00" x2="298.5" y2="309.00"/><line x1="30.4" y1="312.40" x2="33.4" y2="312.40"/><line x1="301.5" y1="312.40" x2="298.5" y2="312.40"/><line x1="30.4" y1="315.80" x2="33.4" y2="315.80"/><line x1="301.5" y1="315.80" x2="298.5" y2="315.80"/><line x1="30.4" y1="319.20" x2="33.4" y2="319.20"/><line x1="301.5" y1="319.20" x2="298.5" y2="319.20"/><line x1="30.4" y1="322.60" x2="33.4" y2="322.60"/><line x1="301.5" y1="322.60" x2="298.5" y2="322.60"/><line x1="30.4" y1="326.00" x2="33.4" y2="326.00"/><line x1="301.5" y1="326.00" x2="298.5" y2="326.00"/><line x1="30.4" y1="329.40" x2="33.4" y2="329.40"/><line x1="301.5" y1="329.40" x2="298.5" y2="329.40"/><line x1="30.4" y1="332.80" x2="35.4" y2="332.80"/><line x1="301.5" y1="332.80" x2="296.5" y2="332.80"/><line x1="30.4" y1="336.20" x2="33.4" y2="336.20"/><line x1="301.5" y1="336.20" x2="298.5" y2="336.20"/><line x1="30.4" y1="339.60" x2="33.4" y2="339.60"/><line x1="301.5" y1="339.60" x2="298.5" y2="339.60"/><line x1="30.4" y1="343.00" x2="33.4" y2="343.00"/><line x1="301.5" y1="343.00" x2="298.5" y2="343.00"/><line x1="30.4" y1="346.40" x2="33.4" y2="346.40"/><line x1="301.5" y1="346.40" x2="298.5" y2="346.40"/><line x1="30.4" y1="349.80" x2="33.4" y2="349.80"/><line x1="301.5" y1="349.80" x2="298.5" y2="349.80"/><line x1="30.4" y1="353.20" x2="33.4" y2="353.20"/><line x1="301.5" y1="353.20" x2="298.5" y2="353.20"/><line x1="30.4" y1="356.60" x2="33.4" y2="356.60"/><line x1="301.5" y1="356.60" x2="298.5" y2="356.60"/><line x1="30.4" y1="360.00" x2="33.4" y2="360.00"/><line x1="301.5" y1="360.00" x2="298.5" y2="360.00"/><line x1="30.4" y1="363.40" x2="33.4" y2="363.40"/><line x1="301.5" y1="363.40" x2="298.5" y2="363.40"/><line x1="30.4" y1="366.80" x2="35.4" y2="366.80"/><line x1="301.5" y1="366.80" x2="296.5" y2="366.80"/><line x1="30.4" y1="370.20" x2="33.4" y2="370.20"/><line x1="301.5" y1="370.20" x2="298.5" y2="370.20"/><line x1="30.4" y1="373.60" x2="33.4" y2="373.60"/><line x1="301.5" y1="373.60" x2="298.5" y2="373.60"/><line x1="30.4" y1="377.00" x2="33.4" y2="377.00"/><line x1="301.5" y1="377.00" x2="298.5" y2="377.00"/><line x1="30.4" y1="380.40" x2="33.4" y2="380.40"/><line x1="301.5" y1="380.40" x2="298.5" y2="380.40"/><line x1="30.4" y1="383.80" x2="33.4" y2="383.80"/><line x1="301.5" y1="383.80" x2="298.5" y2="383.80"/><line x1="30.4" y1="387.20" x2="33.4" y2="387.20"/><line x1="301.5" y1="387.20" x2="298.5" y2="387.20"/><line x1="42.55" y1="389.2" x2="42.55" y2="386.7"/><line x1="42.55" y1="237.0" x2="42.55" y2="239.5"/><line x1="59.46" y1="389.2" x2="59.46" y2="384.7"/><line x1="59.46" y1="237.0" x2="59.46" y2="241.5"/><line x1="76.37" y1="389.2" x2="76.37" y2="386.7"/><line x1="76.37" y1="237.0" x2="76.37" y2="239.5"/><line x1="93.28" y1="389.2" x2="93.28" y2="386.7"/><line x1="93.28" y1="237.0" x2="93.28" y2="239.5"/><line x1="110.19" y1="389.2" x2="110.19" y2="386.7"/><line x1="110.19" y1="237.0" x2="110.19" y2="239.5"/><line x1="127.10" y1="389.2" x2="127.10" y2="384.7"/><line x1="127.10" y1="237.0" x2="127.10" y2="241.5"/><line x1="144.01" y1="389.2" x2="144.01" y2="386.7"/><line x1="144.01" y1="237.0" x2="144.01" y2="239.5"/><line x1="160.92" y1="389.2" x2="160.92" y2="386.7"/><line x1="160.92" y1="237.0" x2="160.92" y2="239.5"/><line x1="177.83" y1="389.2" x2="177.83" y2="386.7"/><line x1="177.83" y1="237.0" x2="177.83" y2="239.5"/><line x1="194.74" y1="389.2" x2="194.74" y2="384.7"/><line x1="194.74" y1="237.0" x2="194.74" y2="241.5"/><line x1="211.65" y1="389.2" x2="211.65" y2="386.7"/><line x1="211.65" y1="237.0" x2="211.65" y2="239.5"/><line x1="228.56" y1="389.2" x2="228.56" y2="386.7"/><line x1="228.56" y1="237.0" x2="228.56" y2="239.5"/><line x1="245.47" y1="389.2" x2="245.47" y2="386.7"/><line x1="245.47" y1="237.0" x2="245.47" y2="239.5"/><line x1="262.38" y1="389.2" x2="262.38" y2="384.7"/><line x1="262.38" y1="237.0" x2="262.38" y2="241.5"/><line x1="279.29" y1="389.2" x2="279.29" y2="386.7"/><line x1="279.29" y1="237.0" x2="279.29" y2="239.5"/><line x1="296.20" y1="389.2" x2="296.20" y2="386.7"/><line x1="296.20" y1="237.0" x2="296.20" y2="239.5"/></g>
<rect x="30.4" y="237.0" width="271.1" height="152.2" fill="none" stroke="#9a9a9a" stroke-width="1"/>
<text x="166.0" y="232.2" text-anchor="middle" font-family="Liberation Sans" font-weight="bold" font-size="11.7">Lorentz force vector change δF</text>
<text x="28.5" y="268.5" text-anchor="end" font-family="Liberation Sans" font-weight="bold" font-size="9.5">-18</text>
<text x="28.5" y="302.5" text-anchor="end" font-family="Liberation Sans" font-weight="bold" font-size="9.5">-19</text>
<text x="28.5" y="336.5" text-anchor="end" font-family="Liberation Sans" font-weight="bold" font-size="9.5">-20</text>
<text x="28.5" y="370.5" text-anchor="end" font-family="Liberation Sans" font-weight="bold" font-size="9.5">-21</text>
<text x="59.5" y="400.7" text-anchor="middle" font-family="Liberation Sans" font-weight="bold" font-size="9.5">28</text>
<text x="127.1" y="400.7" text-anchor="middle" font-family="Liberation Sans" font-weight="bold" font-size="9.5">30</text>
<text x="194.7" y="400.7" text-anchor="middle" font-family="Liberation Sans" font-weight="bold" font-size="9.5">32</text>
<text x="262.4" y="400.7" text-anchor="middle" font-family="Liberation Sans" font-weight="bold" font-size="9.5">34</text>
<text transform="translate(7.6 313.1) rotate(-90)" x="0" y="0" text-anchor="middle" font-family="Liberation Sans" font-weight="bold" font-size="9.5">Latitude (deg)</text>
<g stroke="#7a7a7a" stroke-width="0.9"><line x1="340.5" y1="237.60" x2="343.5" y2="237.60"/><line x1="611.6" y1="237.60" x2="608.6" y2="237.60"/><line x1="340.5" y1="241.00" x2="343.5" y2="241.00"/><line x1="611.6" y1="241.00" x2="608.6" y2="241.00"/><line x1="340.5" y1="244.40" x2="343.5" y2="244.40"/><line x1="611.6" y1="244.40" x2="608.6" y2="244.40"/><line x1="340.5" y1="247.80" x2="343.5" y2="247.80"/><line x1="611.6" y1="247.80" x2="608.6" y2="247.80"/><line x1="340.5" y1="251.20" x2="343.5" y2="251.20"/><line x1="611.6" y1="251.20" x2="608.6" y2="251.20"/><line x1="340.5" y1="254.60" x2="343.5" y2="254.60"/><line x1="611.6" y1="254.60" x2="608.6" y2="254.60"/><line x1="340.5" y1="258.00" x2="343.5" y2="258.00"/><line x1="611.6" y1="258.00" x2="608.6" y2="258.00"/><line x1="340.5" y1="261.40" x2="343.5" y2="261.40"/><line x1="611.6" y1="261.40" x2="608.6" y2="261.40"/><line x1="340.5" y1="264.80" x2="345.5" y2="264.80"/><line x1="611.6" y1="264.80" x2="606.6" y2="264.80"/><line x1="340.5" y1="268.20" x2="343.5" y2="268.20"/><line x1="611.6" y1="268.20" x2="608.6" y2="268.20"/><line x1="340.5" y1="271.60" x2="343.5" y2="271.60"/><line x1="611.6" y1="271.60" x2="608.6" y2="271.60"/><line x1="340.5" y1="275.00" x2="343.5" y2="275.00"/><line x1="611.6" y1="275.00" x2="608.6" y2="275.00"/><line x1="340.5" y1="278.40" x2="343.5" y2="278.40"/><line x1="611.6" y1="278.40" x2="608.6" y2="278.40"/><line x1="340.5" y1="281.80" x2="343.5" y2="281.80"/><line x1="611.6" y1="281.80" x2="608.6" y2="281.80"/><line x1="340.5" y1="285.20" x2="343.5" y2="285.20"/><line x1="611.6" y1="285.20" x2="608.6" y2="285.20"/><line x1="340.5" y1="288.60" x2="343.5" y2="288.60"/><line x1="611.6" y1="288.60" x2="608.6" y2="288.60"/><line x1="340.5" y1="292.00" x2="343.5" y2="292.00"/><line x1="611.6" y1="292.00" x2="608.6" y2="292.00"/><line x1="340.5" y1="295.40" x2="343.5" y2="295.40"/><line x1="611.6" y1="295.40" x2="608.6" y2="295.40"/><line x1="340.5" y1="298.80" x2="345.5" y2="298.80"/><line x1="611.6" y1="298.80" x2="606.6" y2="298.80"/><line x1="340.5" y1="302.20" x2="343.5" y2="302.20"/><line x1="611.6" y1="302.20" x2="608.6" y2="302.20"/><line x1="340.5" y1="305.60" x2="343.5" y2="305.60"/><line x1="611.6" y1="305.60" x2="608.6" y2="305.60"/><line x1="340.5" y1="309.00" x2="343.5" y2="309.00"/><line x1="611.6" y1="309.00" x2="608.6" y2="309.00"/><line x1="340.5" y1="312.40" x2="343.5" y2="312.40"/><line x1="611.6" y1="312.40" x2="608.6" y2="312.40"/><line x1="340.5" y1="315.80" x2="343.5" y2="315.80"/><line x1="611.6" y1="315.80" x2="608.6" y2="315.80"/><line x1="340.5" y1="319.20" x2="343.5" y2="319.20"/><line x1="611.6" y1="319.20" x2="608.6" y2="319.20"/><line x1="340.5" y1="322.60" x2="343.5" y2="322.60"/><line x1="611.6" y1="322.60" x2="608.6" y2="322.60"/><line x1="340.5" y1="326.00" x2="343.5" y2="326.00"/><line x1="611.6" y1="326.00" x2="608.6" y2="326.00"/><line x1="340.5" y1="329.40" x2="343.5" y2="329.40"/><line x1="611.6" y1="329.40" x2="608.6" y2="329.40"/><line x1="340.5" y1="332.80" x2="345.5" y2="332.80"/><line x1="611.6" y1="332.80" x2="606.6" y2="332.80"/><line x1="340.5" y1="336.20" x2="343.5" y2="336.20"/><line x1="611.6" y1="336.20" x2="608.6" y2="336.20"/><line x1="340.5" y1="339.60" x2="343.5" y2="339.60"/><line x1="611.6" y1="339.60" x2="608.6" y2="339.60"/><line x1="340.5" y1="343.00" x2="343.5" y2="343.00"/><line x1="611.6" y1="343.00" x2="608.6" y2="343.00"/><line x1="340.5" y1="346.40" x2="343.5" y2="346.40"/><line x1="611.6" y1="346.40" x2="608.6" y2="346.40"/><line x1="340.5" y1="349.80" x2="343.5" y2="349.80"/><line x1="611.6" y1="349.80" x2="608.6" y2="349.80"/><line x1="340.5" y1="353.20" x2="343.5" y2="353.20"/><line x1="611.6" y1="353.20" x2="608.6" y2="353.20"/><line x1="340.5" y1="356.60" x2="343.5" y2="356.60"/><line x1="611.6" y1="356.60" x2="608.6" y2="356.60"/><line x1="340.5" y1="360.00" x2="343.5" y2="360.00"/><line x1="611.6" y1="360.00" x2="608.6" y2="360.00"/><line x1="340.5" y1="363.40" x2="343.5" y2="363.40"/><line x1="611.6" y1="363.40" x2="608.6" y2="363.40"/><line x1="340.5" y1="366.80" x2="345.5" y2="366.80"/><line x1="611.6" y1="366.80" x2="606.6" y2="366.80"/><line x1="340.5" y1="370.20" x2="343.5" y2="370.20"/><line x1="611.6" y1="370.20" x2="608.6" y2="370.20"/><line x1="340.5" y1="373.60" x2="343.5" y2="373.60"/><line x1="611.6" y1="373.60" x2="608.6" y2="373.60"/><line x1="340.5" y1="377.00" x2="343.5" y2="377.00"/><line x1="611.6" y1="377.00" x2="608.6" y2="377.00"/><line x1="340.5" y1="380.40" x2="343.5" y2="380.40"/><line x1="611.6" y1="380.40" x2="608.6" y2="380.40"/><line x1="340.5" y1="383.80" x2="343.5" y2="383.80"/><line x1="611.6" y1="383.80" x2="608.6" y2="383.80"/><line x1="340.5" y1="387.20" x2="343.5" y2="387.20"/><line x1="611.6" y1="387.20" x2="608.6" y2="387.20"/><line x1="352.65" y1="389.2" x2="352.65" y2="386.7"/><line x1="352.65" y1="237.0" x2="352.65" y2="239.5"/><line x1="369.56" y1="389.2" x2="369.56" y2="384.7"/><line x1="369.56" y1="237.0" x2="369.56" y2="241.5"/><line x1="386.47" y1="389.2" x2="386.47" y2="386.7"/><line x1="386.47" y1="237.0" x2="386.47" y2="239.5"/><line x1="403.38" y1="389.2" x2="403.38" y2="386.7"/><line x1="403.38" y1="237.0" x2="403.38" y2="239.5"/><line x1="420.29" y1="389.2" x2="420.29" y2="386.7"/><line x1="420.29" y1="237.0" x2="420.29" y2="239.5"/><line x1="437.20" y1="389.2" x2="437.20" y2="384.7"/><line x1="437.20" y1="237.0" x2="437.20" y2="241.5"/><line x1="454.11" y1="389.2" x2="454.11" y2="386.7"/><line x1="454.11" y1="237.0" x2="454.11" y2="239.5"/><line x1="471.02" y1="389.2" x2="471.02" y2="386.7"/><line x1="471.02" y1="237.0" x2="471.02" y2="239.5"/><line x1="487.93" y1="389.2" x2="487.93" y2="386.7"/><line x1="487.93" y1="237.0" x2="487.93" y2="239.5"/><line x1="504.84" y1="389.2" x2="504.84" y2="384.7"/><line x1="504.84" y1="237.0" x2="504.84" y2="241.5"/><line x1="521.75" y1="389.2" x2="521.75" y2="386.7"/><line x1="521.75" y1="237.0" x2="521.75" y2="239.5"/><line x1="538.66" y1="389.2" x2="538.66" y2="386.7"/><line x1="538.66" y1="237.0" x2="538.66" y2="239.5"/><line x1="555.57" y1="389.2" x2="555.57" y2="386.7"/><line x1="555.57" y1="237.0" x2="555.57" y2="239.5"/><line x1="572.48" y1="389.2" x2="572.48" y2="384.7"/><line x1="572.48" y1="237.0" x2="572.48" y2="241.5"/><line x1="589.39" y1="389.2" x2="589.39" y2="386.7"/><line x1="589.39" y1="237.0" x2="589.39" y2="239.5"/><line x1="606.30" y1="389.2" x2="606.30" y2="386.7"/><line x1="606.30" y1="237.0" x2="606.30" y2="239.5"/></g>
<rect x="340.5" y="237.0" width="271.1" height="152.2" fill="none" stroke="#9a9a9a" stroke-width="1"/>
<text x="476.1" y="232.2" text-anchor="middle" font-family="Liberation Sans" font-weight="bold" font-size="11.7">Magnetic shear change δS</text>
<text x="338.6" y="268.5" text-anchor="end" font-family="Liberation Sans" font-weight="bold" font-size="9.5">-18</text>
<text x="338.6" y="302.5" text-anchor="end" font-family="Liberation Sans" font-weight="bold" font-size="9.5">-19</text>
<text x="338.6" y="336.5" text-anchor="end" font-family="Liberation Sans" font-weight="bold" font-size="9.5">-20</text>
<text x="338.6" y="370.5" text-anchor="end" font-family="Liberation Sans" font-weight="bold" font-size="9.5">-21</text>
<text x="369.6" y="400.7" text-anchor="middle" font-family="Liberation Sans" font-weight="bold" font-size="9.5">28</text>
<text x="437.2" y="400.7" text-anchor="middle" font-family="Liberation Sans" font-weight="bold" font-size="9.5">30</text>
<text x="504.8" y="400.7" text-anchor="middle" font-family="Liberation Sans" font-weight="bold" font-size="9.5">32</text>
<text x="572.5" y="400.7" text-anchor="middle" font-family="Liberation Sans" font-weight="bold" font-size="9.5">34</text>
<g stroke="#7a7a7a" stroke-width="0.9"><line x1="30.4" y1="461.10" x2="33.4" y2="461.10"/><line x1="301.5" y1="461.10" x2="298.5" y2="461.10"/><line x1="30.4" y1="464.50" x2="33.4" y2="464.50"/><line x1="301.5" y1="464.50" x2="298.5" y2="464.50"/><line x1="30.4" y1="467.90" x2="33.4" y2="467.90"/><line x1="301.5" y1="467.90" x2="298.5" y2="467.90"/><line x1="30.4" y1="471.30" x2="33.4" y2="471.30"/><line x1="301.5" y1="471.30" x2="298.5" y2="471.30"/><line x1="30.4" y1="474.70" x2="33.4" y2="474.70"/><line x1="301.5" y1="474.70" x2="298.5" y2="474.70"/><line x1="30.4" y1="478.10" x2="33.4" y2="478.10"/><line x1="301.5" y1="478.10" x2="298.5" y2="478.10"/><line x1="30.4" y1="481.50" x2="33.4" y2="481.50"/><line x1="301.5" y1="481.50" x2="298.5" y2="481.50"/><line x1="30.4" y1="484.90" x2="33.4" y2="484.90"/><line x1="301.5" y1="484.90" x2="298.5" y2="484.90"/><line x1="30.4" y1="488.30" x2="35.4" y2="488.30"/><line x1="301.5" y1="488.30" x2="296.5" y2="488.30"/><line x1="30.4" y1="491.70" x2="33.4" y2="491.70"/><line x1="301.5" y1="491.70" x2="298.5" y2="491.70"/><line x1="30.4" y1="495.10" x2="33.4" y2="495.10"/><line x1="301.5" y1="495.10" x2="298.5" y2="495.10"/><line x1="30.4" y1="498.50" x2="33.4" y2="498.50"/><line x1="301.5" y1="498.50" x2="298.5" y2="498.50"/><line x1="30.4" y1="501.90" x2="33.4" y2="501.90"/><line x1="301.5" y1="501.90" x2="298.5" y2="501.90"/><line x1="30.4" y1="505.30" x2="33.4" y2="505.30"/><line x1="301.5" y1="505.30" x2="298.5" y2="505.30"/><line x1="30.4" y1="508.70" x2="33.4" y2="508.70"/><line x1="301.5" y1="508.70" x2="298.5" y2="508.70"/><line x1="30.4" y1="512.10" x2="33.4" y2="512.10"/><line x1="301.5" y1="512.10" x2="298.5" y2="512.10"/><line x1="30.4" y1="515.50" x2="33.4" y2="515.50"/><line x1="301.5" y1="515.50" x2="298.5" y2="515.50"/><line x1="30.4" y1="518.90" x2="33.4" y2="518.90"/><line x1="301.5" y1="518.90" x2="298.5" y2="518.90"/><line x1="30.4" y1="522.30" x2="35.4" y2="522.30"/><line x1="301.5" y1="522.30" x2="296.5" y2="522.30"/><line x1="30.4" y1="525.70" x2="33.4" y2="525.70"/><line x1="301.5" y1="525.70" x2="298.5" y2="525.70"/><line x1="30.4" y1="529.10" x2="33.4" y2="529.10"/><line x1="301.5" y1="529.10" x2="298.5" y2="529.10"/><line x1="30.4" y1="532.50" x2="33.4" y2="532.50"/><line x1="301.5" y1="532.50" x2="298.5" y2="532.50"/><line x1="30.4" y1="535.90" x2="33.4" y2="535.90"/><line x1="301.5" y1="535.90" x2="298.5" y2="535.90"/><line x1="30.4" y1="539.30" x2="33.4" y2="539.30"/><line x1="301.5" y1="539.30" x2="298.5" y2="539.30"/><line x1="30.4" y1="542.70" x2="33.4" y2="542.70"/><line x1="301.5" y1="542.70" x2="298.5" y2="542.70"/><line x1="30.4" y1="546.10" x2="33.4" y2="546.10"/><line x1="301.5" y1="546.10" x2="298.5" y2="546.10"/><line x1="30.4" y1="549.50" x2="33.4" y2="549.50"/><line x1="301.5" y1="549.50" x2="298.5" y2="549.50"/><line x1="30.4" y1="552.90" x2="33.4" y2="552.90"/><line x1="301.5" y1="552.90" x2="298.5" y2="552.90"/><line x1="30.4" y1="556.30" x2="35.4" y2="556.30"/><line x1="301.5" y1="556.30" x2="296.5" y2="556.30"/><line x1="30.4" y1="559.70" x2="33.4" y2="559.70"/><line x1="301.5" y1="559.70" x2="298.5" y2="559.70"/><line x1="30.4" y1="563.10" x2="33.4" y2="563.10"/><line x1="301.5" y1="563.10" x2="298.5" y2="563.10"/><line x1="30.4" y1="566.50" x2="33.4" y2="566.50"/><line x1="301.5" y1="566.50" x2="298.5" y2="566.50"/><line x1="30.4" y1="569.90" x2="33.4" y2="569.90"/><line x1="301.5" y1="569.90" x2="298.5" y2="569.90"/><line x1="30.4" y1="573.30" x2="33.4" y2="573.30"/><line x1="301.5" y1="573.30" x2="298.5" y2="573.30"/><line x1="30.4" y1="576.70" x2="33.4" y2="576.70"/><line x1="301.5" y1="576.70" x2="298.5" y2="576.70"/><line x1="30.4" y1="580.10" x2="33.4" y2="580.10"/><line x1="301.5" y1="580.10" x2="298.5" y2="580.10"/><line x1="30.4" y1="583.50" x2="33.4" y2="583.50"/><line x1="301.5" y1="583.50" x2="298.5" y2="583.50"/><line x1="30.4" y1="586.90" x2="33.4" y2="586.90"/><line x1="301.5" y1="586.90" x2="298.5" y2="586.90"/><line x1="30.4" y1="590.30" x2="35.4" y2="590.30"/><line x1="301.5" y1="590.30" x2="296.5" y2="590.30"/><line x1="30.4" y1="593.70" x2="33.4" y2="593.70"/><line x1="301.5" y1="593.70" x2="298.5" y2="593.70"/><line x1="30.4" y1="597.10" x2="33.4" y2="597.10"/><line x1="301.5" y1="597.10" x2="298.5" y2="597.10"/><line x1="30.4" y1="600.50" x2="33.4" y2="600.50"/><line x1="301.5" y1="600.50" x2="298.5" y2="600.50"/><line x1="30.4" y1="603.90" x2="33.4" y2="603.90"/><line x1="301.5" y1="603.90" x2="298.5" y2="603.90"/><line x1="30.4" y1="607.30" x2="33.4" y2="607.30"/><line x1="301.5" y1="607.30" x2="298.5" y2="607.30"/><line x1="30.4" y1="610.70" x2="33.4" y2="610.70"/><line x1="301.5" y1="610.70" x2="298.5" y2="610.70"/><line x1="42.55" y1="612.7" x2="42.55" y2="610.2"/><line x1="42.55" y1="460.5" x2="42.55" y2="463.0"/><line x1="59.46" y1="612.7" x2="59.46" y2="608.2"/><line x1="59.46" y1="460.5" x2="59.46" y2="465.0"/><line x1="76.37" y1="612.7" x2="76.37" y2="610.2"/><line x1="76.37" y1="460.5" x2="76.37" y2="463.0"/><line x1="93.28" y1="612.7" x2="93.28" y2="610.2"/><line x1="93.28" y1="460.5" x2="93.28" y2="463.0"/><line x1="110.19" y1="612.7" x2="110.19" y2="610.2"/><line x1="110.19" y1="460.5" x2="110.19" y2="463.0"/><line x1="127.10" y1="612.7" x2="127.10" y2="608.2"/><line x1="127.10" y1="460.5" x2="127.10" y2="465.0"/><line x1="144.01" y1="612.7" x2="144.01" y2="610.2"/><line x1="144.01" y1="460.5" x2="144.01" y2="463.0"/><line x1="160.92" y1="612.7" x2="160.92" y2="610.2"/><line x1="160.92" y1="460.5" x2="160.92" y2="463.0"/><line x1="177.83" y1="612.7" x2="177.83" y2="610.2"/><line x1="177.83" y1="460.5" x2="177.83" y2="463.0"/><line x1="194.74" y1="612.7" x2="194.74" y2="608.2"/><line x1="194.74" y1="460.5" x2="194.74" y2="465.0"/><line x1="211.65" y1="612.7" x2="211.65" y2="610.2"/><line x1="211.65" y1="460.5" x2="211.65" y2="463.0"/><line x1="228.56" y1="612.7" x2="228.56" y2="610.2"/><line x1="228.56" y1="460.5" x2="228.56" y2="463.0"/><line x1="245.47" y1="612.7" x2="245.47" y2="610.2"/><line x1="245.47" y1="460.5" x2="245.47" y2="463.0"/><line x1="262.38" y1="612.7" x2="262.38" y2="608.2"/><line x1="262.38" y1="460.5" x2="262.38" y2="465.0"/><line x1="279.29" y1="612.7" x2="279.29" y2="610.2"/><line x1="279.29" y1="460.5" x2="279.29" y2="463.0"/><line x1="296.20" y1="612.7" x2="296.20" y2="610.2"/><line x1="296.20" y1="460.5" x2="296.20" y2="463.0"/></g>
<rect x="30.4" y="460.5" width="271.1" height="152.2" fill="none" stroke="#9a9a9a" stroke-width="1"/>
<text x="166.0" y="455.7" text-anchor="middle" font-family="Liberation Sans" font-weight="bold" font-size="11.7">Horizontal magnetic shear change δS<tspan font-size="8" dy="2.6">h</tspan></text>
<text x="28.5" y="492.0" text-anchor="end" font-family="Liberation Sans" font-weight="bold" font-size="9.5">-18</text>
<text x="28.5" y="526.0" text-anchor="end" font-family="Liberation Sans" font-weight="bold" font-size="9.5">-19</text>
<text x="28.5" y="560.0" text-anchor="end" font-family="Liberation Sans" font-weight="bold" font-size="9.5">-20</text>
<text x="28.5" y="594.0" text-anchor="end" font-family="Liberation Sans" font-weight="bold" font-size="9.5">-21</text>
<text x="59.5" y="624.2" text-anchor="middle" font-family="Liberation Sans" font-weight="bold" font-size="9.5">28</text>
<text x="127.1" y="624.2" text-anchor="middle" font-family="Liberation Sans" font-weight="bold" font-size="9.5">30</text>
<text x="194.7" y="624.2" text-anchor="middle" font-family="Liberation Sans" font-weight="bold" font-size="9.5">32</text>
<text x="262.4" y="624.2" text-anchor="middle" font-family="Liberation Sans" font-weight="bold" font-size="9.5">34</text>
<text transform="translate(7.6 536.6) rotate(-90)" x="0" y="0" text-anchor="middle" font-family="Liberation Sans" font-weight="bold" font-size="9.5">Latitude (deg)</text>
<g stroke="#7a7a7a" stroke-width="0.9"><line x1="340.5" y1="461.10" x2="343.5" y2="461.10"/><line x1="611.6" y1="461.10" x2="608.6" y2="461.10"/><line x1="340.5" y1="464.50" x2="343.5" y2="464.50"/><line x1="611.6" y1="464.50" x2="608.6" y2="464.50"/><line x1="340.5" y1="467.90" x2="343.5" y2="467.90"/><line x1="611.6" y1="467.90" x2="608.6" y2="467.90"/><line x1="340.5" y1="471.30" x2="343.5" y2="471.30"/><line x1="611.6" y1="471.30" x2="608.6" y2="471.30"/><line x1="340.5" y1="474.70" x2="343.5" y2="474.70"/><line x1="611.6" y1="474.70" x2="608.6" y2="474.70"/><line x1="340.5" y1="478.10" x2="343.5" y2="478.10"/><line x1="611.6" y1="478.10" x2="608.6" y2="478.10"/><line x1="340.5" y1="481.50" x2="343.5" y2="481.50"/><line x1="611.6" y1="481.50" x2="608.6" y2="481.50"/><line x1="340.5" y1="484.90" x2="343.5" y2="484.90"/><line x1="611.6" y1="484.90" x2="608.6" y2="484.90"/><line x1="340.5" y1="488.30" x2="345.5" y2="488.30"/><line x1="611.6" y1="488.30" x2="606.6" y2="488.30"/><line x1="340.5" y1="491.70" x2="343.5" y2="491.70"/><line x1="611.6" y1="491.70" x2="608.6" y2="491.70"/><line x1="340.5" y1="495.10" x2="343.5" y2="495.10"/><line x1="611.6" y1="495.10" x2="608.6" y2="495.10"/><line x1="340.5" y1="498.50" x2="343.5" y2="498.50"/><line x1="611.6" y1="498.50" x2="608.6" y2="498.50"/><line x1="340.5" y1="501.90" x2="343.5" y2="501.90"/><line x1="611.6" y1="501.90" x2="608.6" y2="501.90"/><line x1="340.5" y1="505.30" x2="343.5" y2="505.30"/><line x1="611.6" y1="505.30" x2="608.6" y2="505.30"/><line x1="340.5" y1="508.70" x2="343.5" y2="508.70"/><line x1="611.6" y1="508.70" x2="608.6" y2="508.70"/><line x1="340.5" y1="512.10" x2="343.5" y2="512.10"/><line x1="611.6" y1="512.10" x2="608.6" y2="512.10"/><line x1="340.5" y1="515.50" x2="343.5" y2="515.50"/><line x1="611.6" y1="515.50" x2="608.6" y2="515.50"/><line x1="340.5" y1="518.90" x2="343.5" y2="518.90"/><line x1="611.6" y1="518.90" x2="608.6" y2="518.90"/><line x1="340.5" y1="522.30" x2="345.5" y2="522.30"/><line x1="611.6" y1="522.30" x2="606.6" y2="522.30"/><line x1="340.5" y1="525.70" x2="343.5" y2="525.70"/><line x1="611.6" y1="525.70" x2="608.6" y2="525.70"/><line x1="340.5" y1="529.10" x2="343.5" y2="529.10"/><line x1="611.6" y1="529.10" x2="608.6" y2="529.10"/><line x1="340.5" y1="532.50" x2="343.5" y2="532.50"/><line x1="611.6" y1="532.50" x2="608.6" y2="532.50"/><line x1="340.5" y1="535.90" x2="343.5" y2="535.90"/><line x1="611.6" y1="535.90" x2="608.6" y2="535.90"/><line x1="340.5" y1="539.30" x2="343.5" y2="539.30"/><line x1="611.6" y1="539.30" x2="608.6" y2="539.30"/><line x1="340.5" y1="542.70" x2="343.5" y2="542.70"/><line x1="611.6" y1="542.70" x2="608.6" y2="542.70"/><line x1="340.5" y1="546.10" x2="343.5" y2="546.10"/><line x1="611.6" y1="546.10" x2="608.6" y2="546.10"/><line x1="340.5" y1="549.50" x2="343.5" y2="549.50"/><line x1="611.6" y1="549.50" x2="608.6" y2="549.50"/><line x1="340.5" y1="552.90" x2="343.5" y2="552.90"/><line x1="611.6" y1="552.90" x2="608.6" y2="552.90"/><line x1="340.5" y1="556.30" x2="345.5" y2="556.30"/><line x1="611.6" y1="556.30" x2="606.6" y2="556.30"/><line x1="340.5" y1="559.70" x2="343.5" y2="559.70"/><line x1="611.6" y1="559.70" x2="608.6" y2="559.70"/><line x1="340.5" y1="563.10" x2="343.5" y2="563.10"/><line x1="611.6" y1="563.10" x2="608.6" y2="563.10"/><line x1="340.5" y1="566.50" x2="343.5" y2="566.50"/><line x1="611.6" y1="566.50" x2="608.6" y2="566.50"/><line x1="340.5" y1="569.90" x2="343.5" y2="569.90"/><line x1="611.6" y1="569.90" x2="608.6" y2="569.90"/><line x1="340.5" y1="573.30" x2="343.5" y2="573.30"/><line x1="611.6" y1="573.30" x2="608.6" y2="573.30"/><line x1="340.5" y1="576.70" x2="343.5" y2="576.70"/><line x1="611.6" y1="576.70" x2="608.6" y2="576.70"/><line x1="340.5" y1="580.10" x2="343.5" y2="580.10"/><line x1="611.6" y1="580.10" x2="608.6" y2="580.10"/><line x1="340.5" y1="583.50" x2="343.5" y2="583.50"/><line x1="611.6" y1="583.50" x2="608.6" y2="583.50"/><line x1="340.5" y1="586.90" x2="343.5" y2="586.90"/><line x1="611.6" y1="586.90" x2="608.6" y2="586.90"/><line x1="340.5" y1="590.30" x2="345.5" y2="590.30"/><line x1="611.6" y1="590.30" x2="606.6" y2="590.30"/><line x1="340.5" y1="593.70" x2="343.5" y2="593.70"/><line x1="611.6" y1="593.70" x2="608.6" y2="593.70"/><line x1="340.5" y1="597.10" x2="343.5" y2="597.10"/><line x1="611.6" y1="597.10" x2="608.6" y2="597.10"/><line x1="340.5" y1="600.50" x2="343.5" y2="600.50"/><line x1="611.6" y1="600.50" x2="608.6" y2="600.50"/><line x1="340.5" y1="603.90" x2="343.5" y2="603.90"/><line x1="611.6" y1="603.90" x2="608.6" y2="603.90"/><line x1="340.5" y1="607.30" x2="343.5" y2="607.30"/><line x1="611.6" y1="607.30" x2="608.6" y2="607.30"/><line x1="340.5" y1="610.70" x2="343.5" y2="610.70"/><line x1="611.6" y1="610.70" x2="608.6" y2="610.70"/><line x1="352.65" y1="612.7" x2="352.65" y2="610.2"/><line x1="352.65" y1="460.5" x2="352.65" y2="463.0"/><line x1="369.56" y1="612.7" x2="369.56" y2="608.2"/><line x1="369.56" y1="460.5" x2="369.56" y2="465.0"/><line x1="386.47" y1="612.7" x2="386.47" y2="610.2"/><line x1="386.47" y1="460.5" x2="386.47" y2="463.0"/><line x1="403.38" y1="612.7" x2="403.38" y2="610.2"/><line x1="403.38" y1="460.5" x2="403.38" y2="463.0"/><line x1="420.29" y1="612.7" x2="420.29" y2="610.2"/><line x1="420.29" y1="460.5" x2="420.29" y2="463.0"/><line x1="437.20" y1="612.7" x2="437.20" y2="608.2"/><line x1="437.20" y1="460.5" x2="437.20" y2="465.0"/><line x1="454.11" y1="612.7" x2="454.11" y2="610.2"/><line x1="454.11" y1="460.5" x2="454.11" y2="463.0"/><line x1="471.02" y1="612.7" x2="471.02" y2="610.2"/><line x1="471.02" y1="460.5" x2="471.02" y2="463.0"/><line x1="487.93" y1="612.7" x2="487.93" y2="610.2"/><line x1="487.93" y1="460.5" x2="487.93" y2="463.0"/><line x1="504.84" y1="612.7" x2="504.84" y2="608.2"/><line x1="504.84" y1="460.5" x2="504.84" y2="465.0"/><line x1="521.75" y1="612.7" x2="521.75" y2="610.2"/><line x1="521.75" y1="460.5" x2="521.75" y2="463.0"/><line x1="538.66" y1="612.7" x2="538.66" y2="610.2"/><line x1="538.66" y1="460.5" x2="538.66" y2="463.0"/><line x1="555.57" y1="612.7" x2="555.57" y2="610.2"/><line x1="555.57" y1="460.5" x2="555.57" y2="463.0"/><line x1="572.48" y1="612.7" x2="572.48" y2="608.2"/><line x1="572.48" y1="460.5" x2="572.48" y2="465.0"/><line x1="589.39" y1="612.7" x2="589.39" y2="610.2"/><line x1="589.39" y1="460.5" x2="589.39" y2="463.0"/><line x1="606.30" y1="612.7" x2="606.30" y2="610.2"/><line x1="606.30" y1="460.5" x2="606.30" y2="463.0"/></g>
<rect x="340.5" y="460.5" width="271.1" height="152.2" fill="none" stroke="#9a9a9a" stroke-width="1"/>
<text x="476.1" y="455.7" text-anchor="middle" font-family="Liberation Sans" font-weight="bold" font-size="11.7">Vertical magnetic shear change δS<tspan font-size="8" dy="2.6">v</tspan></text>
<text x="338.6" y="492.0" text-anchor="end" font-family="Liberation Sans" font-weight="bold" font-size="9.5">-18</text>
<text x="338.6" y="526.0" text-anchor="end" font-family="Liberation Sans" font-weight="bold" font-size="9.5">-19</text>
<text x="338.6" y="560.0" text-anchor="end" font-family="Liberation Sans" font-weight="bold" font-size="9.5">-20</text>
<text x="338.6" y="594.0" text-anchor="end" font-family="Liberation Sans" font-weight="bold" font-size="9.5">-21</text>
<text x="369.6" y="624.2" text-anchor="middle" font-family="Liberation Sans" font-weight="bold" font-size="9.5">28</text>
<text x="437.2" y="624.2" text-anchor="middle" font-family="Liberation Sans" font-weight="bold" font-size="9.5">30</text>
<text x="504.8" y="624.2" text-anchor="middle" font-family="Liberation Sans" font-weight="bold" font-size="9.5">32</text>
<text x="572.5" y="624.2" text-anchor="middle" font-family="Liberation Sans" font-weight="bold" font-size="9.5">34</text>
<g stroke="#7a7a7a" stroke-width="0.9"><line x1="30.4" y1="684.50" x2="33.4" y2="684.50"/><line x1="301.5" y1="684.50" x2="298.5" y2="684.50"/><line x1="30.4" y1="687.90" x2="33.4" y2="687.90"/><line x1="301.5" y1="687.90" x2="298.5" y2="687.90"/><line x1="30.4" y1="691.30" x2="33.4" y2="691.30"/><line x1="301.5" y1="691.30" x2="298.5" y2="691.30"/><line x1="30.4" y1="694.70" x2="33.4" y2="694.70"/><line x1="301.5" y1="694.70" x2="298.5" y2="694.70"/><line x1="30.4" y1="698.10" x2="33.4" y2="698.10"/><line x1="301.5" y1="698.10" x2="298.5" y2="698.10"/><line x1="30.4" y1="701.50" x2="33.4" y2="701.50"/><line x1="301.5" y1="701.50" x2="298.5" y2="701.50"/><line x1="30.4" y1="704.90" x2="33.4" y2="704.90"/><line x1="301.5" y1="704.90" x2="298.5" y2="704.90"/><line x1="30.4" y1="708.30" x2="33.4" y2="708.30"/><line x1="301.5" y1="708.30" x2="298.5" y2="708.30"/><line x1="30.4" y1="711.70" x2="35.4" y2="711.70"/><line x1="301.5" y1="711.70" x2="296.5" y2="711.70"/><line x1="30.4" y1="715.10" x2="33.4" y2="715.10"/><line x1="301.5" y1="715.10" x2="298.5" y2="715.10"/><line x1="30.4" y1="718.50" x2="33.4" y2="718.50"/><line x1="301.5" y1="718.50" x2="298.5" y2="718.50"/><line x1="30.4" y1="721.90" x2="33.4" y2="721.90"/><line x1="301.5" y1="721.90" x2="298.5" y2="721.90"/><line x1="30.4" y1="725.30" x2="33.4" y2="725.30"/><line x1="301.5" y1="725.30" x2="298.5" y2="725.30"/><line x1="30.4" y1="728.70" x2="33.4" y2="728.70"/><line x1="301.5" y1="728.70" x2="298.5" y2="728.70"/><line x1="30.4" y1="732.10" x2="33.4" y2="732.10"/><line x1="301.5" y1="732.10" x2="298.5" y2="732.10"/><line x1="30.4" y1="735.50" x2="33.4" y2="735.50"/><line x1="301.5" y1="735.50" x2="298.5" y2="735.50"/><line x1="30.4" y1="738.90" x2="33.4" y2="738.90"/><line x1="301.5" y1="738.90" x2="298.5" y2="738.90"/><line x1="30.4" y1="742.30" x2="33.4" y2="742.30"/><line x1="301.5" y1="742.30" x2="298.5" y2="742.30"/><line x1="30.4" y1="745.70" x2="35.4" y2="745.70"/><line x1="301.5" y1="745.70" x2="296.5" y2="745.70"/><line x1="30.4" y1="749.10" x2="33.4" y2="749.10"/><line x1="301.5" y1="749.10" x2="298.5" y2="749.10"/><line x1="30.4" y1="752.50" x2="33.4" y2="752.50"/><line x1="301.5" y1="752.50" x2="298.5" y2="752.50"/><line x1="30.4" y1="755.90" x2="33.4" y2="755.90"/><line x1="301.5" y1="755.90" x2="298.5" y2="755.90"/><line x1="30.4" y1="759.30" x2="33.4" y2="759.30"/><line x1="301.5" y1="759.30" x2="298.5" y2="759.30"/><line x1="30.4" y1="762.70" x2="33.4" y2="762.70"/><line x1="301.5" y1="762.70" x2="298.5" y2="762.70"/><line x1="30.4" y1="766.10" x2="33.4" y2="766.10"/><line x1="301.5" y1="766.10" x2="298.5" y2="766.10"/><line x1="30.4" y1="769.50" x2="33.4" y2="769.50"/><line x1="301.5" y1="769.50" x2="298.5" y2="769.50"/><line x1="30.4" y1="772.90" x2="33.4" y2="772.90"/><line x1="301.5" y1="772.90" x2="298.5" y2="772.90"/><line x1="30.4" y1="776.30" x2="33.4" y2="776.30"/><line x1="301.5" y1="776.30" x2="298.5" y2="776.30"/><line x1="30.4" y1="779.70" x2="35.4" y2="779.70"/><line x1="301.5" y1="779.70" x2="296.5" y2="779.70"/><line x1="30.4" y1="783.10" x2="33.4" y2="783.10"/><line x1="301.5" y1="783.10" x2="298.5" y2="783.10"/><line x1="30.4" y1="786.50" x2="33.4" y2="786.50"/><line x1="301.5" y1="786.50" x2="298.5" y2="786.50"/><line x1="30.4" y1="789.90" x2="33.4" y2="789.90"/><line x1="301.5" y1="789.90" x2="298.5" y2="789.90"/><line x1="30.4" y1="793.30" x2="33.4" y2="793.30"/><line x1="301.5" y1="793.30" x2="298.5" y2="793.30"/><line x1="30.4" y1="796.70" x2="33.4" y2="796.70"/><line x1="301.5" y1="796.70" x2="298.5" y2="796.70"/><line x1="30.4" y1="800.10" x2="33.4" y2="800.10"/><line x1="301.5" y1="800.10" x2="298.5" y2="800.10"/><line x1="30.4" y1="803.50" x2="33.4" y2="803.50"/><line x1="301.5" y1="803.50" x2="298.5" y2="803.50"/><line x1="30.4" y1="806.90" x2="33.4" y2="806.90"/><line x1="301.5" y1="806.90" x2="298.5" y2="806.90"/><line x1="30.4" y1="810.30" x2="33.4" y2="810.30"/><line x1="301.5" y1="810.30" x2="298.5" y2="810.30"/><line x1="30.4" y1="813.70" x2="35.4" y2="813.70"/><line x1="301.5" y1="813.70" x2="296.5" y2="813.70"/><line x1="30.4" y1="817.10" x2="33.4" y2="817.10"/><line x1="301.5" y1="817.10" x2="298.5" y2="817.10"/><line x1="30.4" y1="820.50" x2="33.4" y2="820.50"/><line x1="301.5" y1="820.50" x2="298.5" y2="820.50"/><line x1="30.4" y1="823.90" x2="33.4" y2="823.90"/><line x1="301.5" y1="823.90" x2="298.5" y2="823.90"/><line x1="30.4" y1="827.30" x2="33.4" y2="827.30"/><line x1="301.5" y1="827.30" x2="298.5" y2="827.30"/><line x1="30.4" y1="830.70" x2="33.4" y2="830.70"/><line x1="301.5" y1="830.70" x2="298.5" y2="830.70"/><line x1="30.4" y1="834.10" x2="33.4" y2="834.10"/><line x1="301.5" y1="834.10" x2="298.5" y2="834.10"/><line x1="42.55" y1="836.1" x2="42.55" y2="833.6"/><line x1="42.55" y1="683.9" x2="42.55" y2="686.4"/><line x1="59.46" y1="836.1" x2="59.46" y2="831.6"/><line x1="59.46" y1="683.9" x2="59.46" y2="688.4"/><line x1="76.37" y1="836.1" x2="76.37" y2="833.6"/><line x1="76.37" y1="683.9" x2="76.37" y2="686.4"/><line x1="93.28" y1="836.1" x2="93.28" y2="833.6"/><line x1="93.28" y1="683.9" x2="93.28" y2="686.4"/><line x1="110.19" y1="836.1" x2="110.19" y2="833.6"/><line x1="110.19" y1="683.9" x2="110.19" y2="686.4"/><line x1="127.10" y1="836.1" x2="127.10" y2="831.6"/><line x1="127.10" y1="683.9" x2="127.10" y2="688.4"/><line x1="144.01" y1="836.1" x2="144.01" y2="833.6"/><line x1="144.01" y1="683.9" x2="144.01" y2="686.4"/><line x1="160.92" y1="836.1" x2="160.92" y2="833.6"/><line x1="160.92" y1="683.9" x2="160.92" y2="686.4"/><line x1="177.83" y1="836.1" x2="177.83" y2="833.6"/><line x1="177.83" y1="683.9" x2="177.83" y2="686.4"/><line x1="194.74" y1="836.1" x2="194.74" y2="831.6"/><line x1="194.74" y1="683.9" x2="194.74" y2="688.4"/><line x1="211.65" y1="836.1" x2="211.65" y2="833.6"/><line x1="211.65" y1="683.9" x2="211.65" y2="686.4"/><line x1="228.56" y1="836.1" x2="228.56" y2="833.6"/><line x1="228.56" y1="683.9" x2="228.56" y2="686.4"/><line x1="245.47" y1="836.1" x2="245.47" y2="833.6"/><line x1="245.47" y1="683.9" x2="245.47" y2="686.4"/><line x1="262.38" y1="836.1" x2="262.38" y2="831.6"/><line x1="262.38" y1="683.9" x2="262.38" y2="688.4"/><line x1="279.29" y1="836.1" x2="279.29" y2="833.6"/><line x1="279.29" y1="683.9" x2="279.29" y2="686.4"/><line x1="296.20" y1="836.1" x2="296.20" y2="833.6"/><line x1="296.20" y1="683.9" x2="296.20" y2="686.4"/></g>
<rect x="30.4" y="683.9" width="271.1" height="152.2" fill="none" stroke="#9a9a9a" stroke-width="1"/>
<text x="166.0" y="679.1" text-anchor="middle" font-family="Liberation Sans" font-weight="bold" font-size="11.7">Absolute horizontal magnetic shear change δ|S<tspan font-size="8" dy="2.6">h</tspan><tspan dy="-2.6">|</tspan></text>
<text x="28.5" y="715.4" text-anchor="end" font-family="Liberation Sans" font-weight="bold" font-size="9.5">-18</text>
<text x="28.5" y="749.4" text-anchor="end" font-family="Liberation Sans" font-weight="bold" font-size="9.5">-19</text>
<text x="28.5" y="783.4" text-anchor="end" font-family="Liberation Sans" font-weight="bold" font-size="9.5">-20</text>
<text x="28.5" y="817.4" text-anchor="end" font-family="Liberation Sans" font-weight="bold" font-size="9.5">-21</text>
<text x="59.5" y="847.6" text-anchor="middle" font-family="Liberation Sans" font-weight="bold" font-size="9.5">28</text>
<text x="127.1" y="847.6" text-anchor="middle" font-family="Liberation Sans" font-weight="bold" font-size="9.5">30</text>
<text x="194.7" y="847.6" text-anchor="middle" font-family="Liberation Sans" font-weight="bold" font-size="9.5">32</text>
<text x="262.4" y="847.6" text-anchor="middle" font-family="Liberation Sans" font-weight="bold" font-size="9.5">34</text>
<text transform="translate(7.6 760.0) rotate(-90)" x="0" y="0" text-anchor="middle" font-family="Liberation Sans" font-weight="bold" font-size="9.5">Latitude (deg)</text>
<text x="166.0" y="858" text-anchor="middle" font-family="Liberation Sans" font-weight="bold" font-size="9.5">CMD (deg)</text>
<g stroke="#7a7a7a" stroke-width="0.9"><line x1="340.5" y1="684.50" x2="343.5" y2="684.50"/><line x1="611.6" y1="684.50" x2="608.6" y2="684.50"/><line x1="340.5" y1="687.90" x2="343.5" y2="687.90"/><line x1="611.6" y1="687.90" x2="608.6" y2="687.90"/><line x1="340.5" y1="691.30" x2="343.5" y2="691.30"/><line x1="611.6" y1="691.30" x2="608.6" y2="691.30"/><line x1="340.5" y1="694.70" x2="343.5" y2="694.70"/><line x1="611.6" y1="694.70" x2="608.6" y2="694.70"/><line x1="340.5" y1="698.10" x2="343.5" y2="698.10"/><line x1="611.6" y1="698.10" x2="608.6" y2="698.10"/><line x1="340.5" y1="701.50" x2="343.5" y2="701.50"/><line x1="611.6" y1="701.50" x2="608.6" y2="701.50"/><line x1="340.5" y1="704.90" x2="343.5" y2="704.90"/><line x1="611.6" y1="704.90" x2="608.6" y2="704.90"/><line x1="340.5" y1="708.30" x2="343.5" y2="708.30"/><line x1="611.6" y1="708.30" x2="608.6" y2="708.30"/><line x1="340.5" y1="711.70" x2="345.5" y2="711.70"/><line x1="611.6" y1="711.70" x2="606.6" y2="711.70"/><line x1="340.5" y1="715.10" x2="343.5" y2="715.10"/><line x1="611.6" y1="715.10" x2="608.6" y2="715.10"/><line x1="340.5" y1="718.50" x2="343.5" y2="718.50"/><line x1="611.6" y1="718.50" x2="608.6" y2="718.50"/><line x1="340.5" y1="721.90" x2="343.5" y2="721.90"/><line x1="611.6" y1="721.90" x2="608.6" y2="721.90"/><line x1="340.5" y1="725.30" x2="343.5" y2="725.30"/><line x1="611.6" y1="725.30" x2="608.6" y2="725.30"/><line x1="340.5" y1="728.70" x2="343.5" y2="728.70"/><line x1="611.6" y1="728.70" x2="608.6" y2="728.70"/><line x1="340.5" y1="732.10" x2="343.5" y2="732.10"/><line x1="611.6" y1="732.10" x2="608.6" y2="732.10"/><line x1="340.5" y1="735.50" x2="343.5" y2="735.50"/><line x1="611.6" y1="735.50" x2="608.6" y2="735.50"/><line x1="340.5" y1="738.90" x2="343.5" y2="738.90"/><line x1="611.6" y1="738.90" x2="608.6" y2="738.90"/><line x1="340.5" y1="742.30" x2="343.5" y2="742.30"/><line x1="611.6" y1="742.30" x2="608.6" y2="742.30"/><line x1="340.5" y1="745.70" x2="345.5" y2="745.70"/><line x1="611.6" y1="745.70" x2="606.6" y2="745.70"/><line x1="340.5" y1="749.10" x2="343.5" y2="749.10"/><line x1="611.6" y1="749.10" x2="608.6" y2="749.10"/><line x1="340.5" y1="752.50" x2="343.5" y2="752.50"/><line x1="611.6" y1="752.50" x2="608.6" y2="752.50"/><line x1="340.5" y1="755.90" x2="343.5" y2="755.90"/><line x1="611.6" y1="755.90" x2="608.6" y2="755.90"/><line x1="340.5" y1="759.30" x2="343.5" y2="759.30"/><line x1="611.6" y1="759.30" x2="608.6" y2="759.30"/><line x1="340.5" y1="762.70" x2="343.5" y2="762.70"/><line x1="611.6" y1="762.70" x2="608.6" y2="762.70"/><line x1="340.5" y1="766.10" x2="343.5" y2="766.10"/><line x1="611.6" y1="766.10" x2="608.6" y2="766.10"/><line x1="340.5" y1="769.50" x2="343.5" y2="769.50"/><line x1="611.6" y1="769.50" x2="608.6" y2="769.50"/><line x1="340.5" y1="772.90" x2="343.5" y2="772.90"/><line x1="611.6" y1="772.90" x2="608.6" y2="772.90"/><line x1="340.5" y1="776.30" x2="343.5" y2="776.30"/><line x1="611.6" y1="776.30" x2="608.6" y2="776.30"/><line x1="340.5" y1="779.70" x2="345.5" y2="779.70"/><line x1="611.6" y1="779.70" x2="606.6" y2="779.70"/><line x1="340.5" y1="783.10" x2="343.5" y2="783.10"/><line x1="611.6" y1="783.10" x2="608.6" y2="783.10"/><line x1="340.5" y1="786.50" x2="343.5" y2="786.50"/><line x1="611.6" y1="786.50" x2="608.6" y2="786.50"/><line x1="340.5" y1="789.90" x2="343.5" y2="789.90"/><line x1="611.6" y1="789.90" x2="608.6" y2="789.90"/><line x1="340.5" y1="793.30" x2="343.5" y2="793.30"/><line x1="611.6" y1="793.30" x2="608.6" y2="793.30"/><line x1="340.5" y1="796.70" x2="343.5" y2="796.70"/><line x1="611.6" y1="796.70" x2="608.6" y2="796.70"/><line x1="340.5" y1="800.10" x2="343.5" y2="800.10"/><line x1="611.6" y1="800.10" x2="608.6" y2="800.10"/><line x1="340.5" y1="803.50" x2="343.5" y2="803.50"/><line x1="611.6" y1="803.50" x2="608.6" y2="803.50"/><line x1="340.5" y1="806.90" x2="343.5" y2="806.90"/><line x1="611.6" y1="806.90" x2="608.6" y2="806.90"/><line x1="340.5" y1="810.30" x2="343.5" y2="810.30"/><line x1="611.6" y1="810.30" x2="608.6" y2="810.30"/><line x1="340.5" y1="813.70" x2="345.5" y2="813.70"/><line x1="611.6" y1="813.70" x2="606.6" y2="813.70"/><line x1="340.5" y1="817.10" x2="343.5" y2="817.10"/><line x1="611.6" y1="817.10" x2="608.6" y2="817.10"/><line x1="340.5" y1="820.50" x2="343.5" y2="820.50"/><line x1="611.6" y1="820.50" x2="608.6" y2="820.50"/><line x1="340.5" y1="823.90" x2="343.5" y2="823.90"/><line x1="611.6" y1="823.90" x2="608.6" y2="823.90"/><line x1="340.5" y1="827.30" x2="343.5" y2="827.30"/><line x1="611.6" y1="827.30" x2="608.6" y2="827.30"/><line x1="340.5" y1="830.70" x2="343.5" y2="830.70"/><line x1="611.6" y1="830.70" x2="608.6" y2="830.70"/><line x1="340.5" y1="834.10" x2="343.5" y2="834.10"/><line x1="611.6" y1="834.10" x2="608.6" y2="834.10"/><line x1="352.65" y1="836.1" x2="352.65" y2="833.6"/><line x1="352.65" y1="683.9" x2="352.65" y2="686.4"/><line x1="369.56" y1="836.1" x2="369.56" y2="831.6"/><line x1="369.56" y1="683.9" x2="369.56" y2="688.4"/><line x1="386.47" y1="836.1" x2="386.47" y2="833.6"/><line x1="386.47" y1="683.9" x2="386.47" y2="686.4"/><line x1="403.38" y1="836.1" x2="403.38" y2="833.6"/><line x1="403.38" y1="683.9" x2="403.38" y2="686.4"/><line x1="420.29" y1="836.1" x2="420.29" y2="833.6"/><line x1="420.29" y1="683.9" x2="420.29" y2="686.4"/><line x1="437.20" y1="836.1" x2="437.20" y2="831.6"/><line x1="437.20" y1="683.9" x2="437.20" y2="688.4"/><line x1="454.11" y1="836.1" x2="454.11" y2="833.6"/><line x1="454.11" y1="683.9" x2="454.11" y2="686.4"/><line x1="471.02" y1="836.1" x2="471.02" y2="833.6"/><line x1="471.02" y1="683.9" x2="471.02" y2="686.4"/><line x1="487.93" y1="836.1" x2="487.93" y2="833.6"/><line x1="487.93" y1="683.9" x2="487.93" y2="686.4"/><line x1="504.84" y1="836.1" x2="504.84" y2="831.6"/><line x1="504.84" y1="683.9" x2="504.84" y2="688.4"/><line x1="521.75" y1="836.1" x2="521.75" y2="833.6"/><line x1="521.75" y1="683.9" x2="521.75" y2="686.4"/><line x1="538.66" y1="836.1" x2="538.66" y2="833.6"/><line x1="538.66" y1="683.9" x2="538.66" y2="686.4"/><line x1="555.57" y1="836.1" x2="555.57" y2="833.6"/><line x1="555.57" y1="683.9" x2="555.57" y2="686.4"/><line x1="572.48" y1="836.1" x2="572.48" y2="831.6"/><line x1="572.48" y1="683.9" x2="572.48" y2="688.4"/><line x1="589.39" y1="836.1" x2="589.39" y2="833.6"/><line x1="589.39" y1="683.9" x2="589.39" y2="686.4"/><line x1="606.30" y1="836.1" x2="606.30" y2="833.6"/><line x1="606.30" y1="683.9" x2="606.30" y2="686.4"/></g>
<rect x="340.5" y="683.9" width="271.1" height="152.2" fill="none" stroke="#9a9a9a" stroke-width="1"/>
<text x="476.1" y="679.1" text-anchor="middle" font-family="Liberation Sans" font-weight="bold" font-size="11.7">Absolute vertical magnetic shear change δ|S<tspan font-size="8" dy="2.6">v</tspan><tspan dy="-2.6">|</tspan></text>
<text x="338.6" y="715.4" text-anchor="end" font-family="Liberation Sans" font-weight="bold" font-size="9.5">-18</text>
<text x="338.6" y="749.4" text-anchor="end" font-family="Liberation Sans" font-weight="bold" font-size="9.5">-19</text>
<text x="338.6" y="783.4" text-anchor="end" font-family="Liberation Sans" font-weight="bold" font-size="9.5">-20</text>
<text x="338.6" y="817.4" text-anchor="end" font-family="Liberation Sans" font-weight="bold" font-size="9.5">-21</text>
<text x="369.6" y="847.6" text-anchor="middle" font-family="Liberation Sans" font-weight="bold" font-size="9.5">28</text>
<text x="437.2" y="847.6" text-anchor="middle" font-family="Liberation Sans" font-weight="bold" font-size="9.5">30</text>
<text x="504.8" y="847.6" text-anchor="middle" font-family="Liberation Sans" font-weight="bold" font-size="9.5">32</text>
<text x="572.5" y="847.6" text-anchor="middle" font-family="Liberation Sans" font-weight="bold" font-size="9.5">34</text>
<text x="476.1" y="858" text-anchor="middle" font-family="Liberation Sans" font-weight="bold" font-size="9.5">CMD (deg)</text>
</svg>
</body></html>
